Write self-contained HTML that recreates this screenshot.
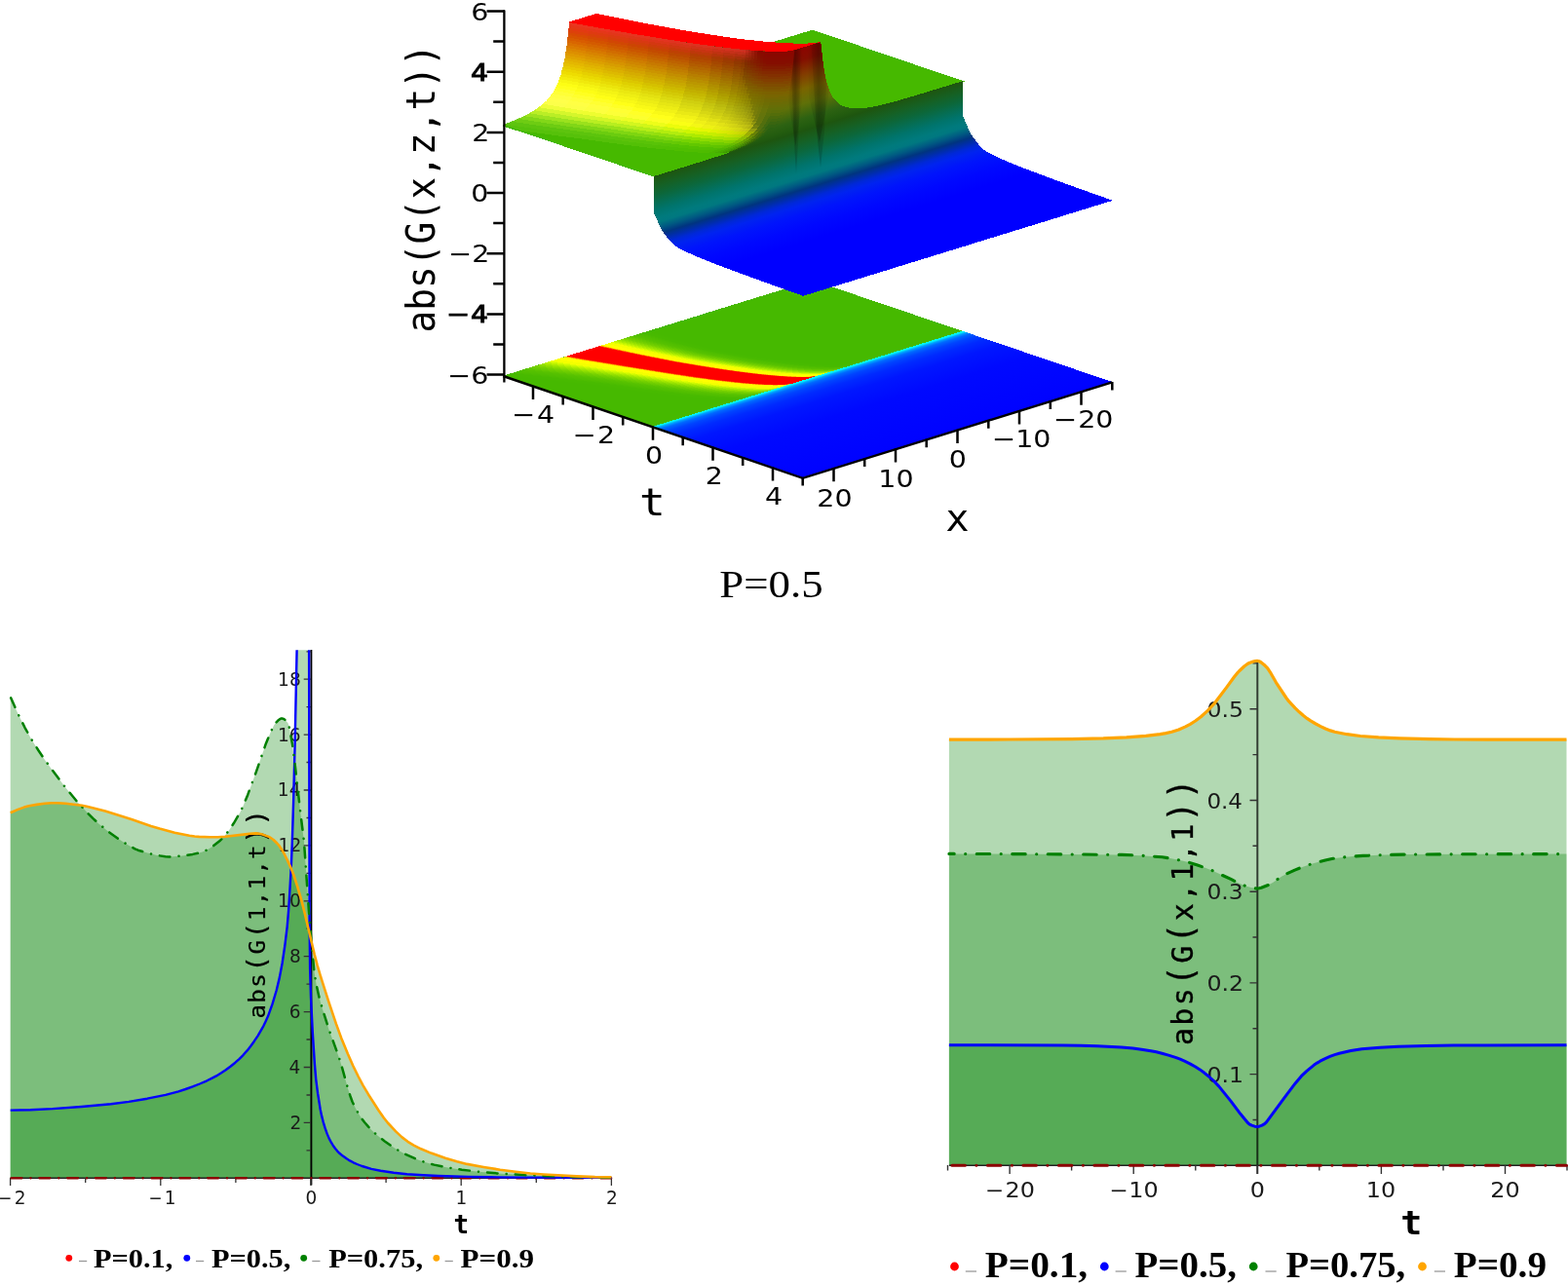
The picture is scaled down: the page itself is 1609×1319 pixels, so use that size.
<!DOCTYPE html>
<html lang="en"><head><meta charset="utf-8"><title>Figure</title>
<style>html,body{margin:0;padding:0;background:#fff;overflow:hidden}svg{display:block}</style>
</head><body>
<svg width="1609" height="1319" viewBox="0 0 1609 1319">
<rect width="1609" height="1319" fill="#fff"/>
<defs><linearGradient id="gbt" gradientUnits="userSpaceOnUse" x1="828.8" y1="388.8" x2="856.8" y2="479.8"><stop offset="0.0000" stop-color="#0ff"/><stop offset="0.0126" stop-color="#00ebff"/><stop offset="0.0263" stop-color="#00a5ff"/><stop offset="0.0525" stop-color="#0069ff"/><stop offset="0.0946" stop-color="#04f"/><stop offset="0.1576" stop-color="#002aff"/><stop offset="0.2627" stop-color="#0016ff"/><stop offset="0.4729" stop-color="#0009ff"/><stop offset="0.9983" stop-color="#0002ff"/></linearGradient><linearGradient id="gcl" gradientUnits="userSpaceOnUse" x1="829.9" y1="46.9" x2="904" y2="287"><stop offset="0.000" stop-color="#8c0500"/><stop offset="0.047" stop-color="#840f00"/><stop offset="0.106" stop-color="#823c00"/><stop offset="0.162" stop-color="#7a6400"/><stop offset="0.220" stop-color="#5f7008"/><stop offset="0.278" stop-color="#2d6212"/><stop offset="0.307" stop-color="#235c0f"/><stop offset="0.324" stop-color="#1e560f"/><stop offset="0.324" stop-color="#1e550f"/><stop offset="0.363" stop-color="#166023"/><stop offset="0.399" stop-color="#0c673a"/><stop offset="0.431" stop-color="#056e55"/><stop offset="0.459" stop-color="#00746c"/><stop offset="0.491" stop-color="#007a7d"/><stop offset="0.507" stop-color="#007880"/><stop offset="0.530" stop-color="#005a82"/><stop offset="0.554" stop-color="#003480"/><stop offset="0.574" stop-color="#002daa"/><stop offset="0.594" stop-color="#0028d7"/><stop offset="0.614" stop-color="#0023f0"/><stop offset="0.650" stop-color="#0014fc"/><stop offset="0.702" stop-color="#0008ff"/><stop offset="0.761" stop-color="#00f"/><stop offset="1.000" stop-color="#00f"/></linearGradient><linearGradient id="gf1" gradientUnits="userSpaceOnUse" x1="808" y1="0" x2="824" y2="0"><stop offset="0" stop-color="#000" stop-opacity="0"/><stop offset=".5" stop-color="#000" stop-opacity=".17"/><stop offset="1" stop-color="#000" stop-opacity="0"/></linearGradient><linearGradient id="gf2" gradientUnits="userSpaceOnUse" x1="828" y1="0" x2="850" y2="0"><stop offset="0" stop-color="#000" stop-opacity="0"/><stop offset=".55" stop-color="#000" stop-opacity=".18"/><stop offset="1" stop-color="#000" stop-opacity=".06"/></linearGradient><clipPath id="ccl"><path d="M670.8,181L681.5,177.7L692.3,174.4L703.1,171L713.8,167.7L724.6,164.3L735.4,160.9L746.2,157.3L756.9,153.5L767.7,149.2L778.5,143.9L789.3,136.5L789.3,136.5L790.5,135.4L791.8,134.2L793.1,132.9L794.4,131.5L795.7,129.9L797,128.3L798.3,126.5L799.6,124.5L800.9,122.3L802.2,119.8L803.5,116.9L804.8,113.7L806.1,109.9L807.4,105.4L808.7,100.2L810,93.8L811.4,85.9L812.7,76L814,63.2L815.3,51.3L816.6,50.9L817.9,50.5L819.2,50.1L820.5,49.7L821.8,49.3L823.1,48.9L824.4,48.5L825.7,48.1L827,47.7L828.3,47.4L829.6,47L830.8,46.6L832.1,46.2L833.4,45.8L834.7,45.4L836,45L837.3,44.6L838.6,44.2L839.9,43.8L841.2,43.4L842.5,45.5L843.7,57.8L845,67.5L846.2,75.1L847.5,81.3L848.8,86.3L850.1,90.4L851.3,93.8L852.6,96.6L853.9,99L855.2,101.1L856.5,102.8L857.8,104.2L859,105.5L860.3,106.6L861.6,107.5L862.9,108.2L864.2,108.9L865.5,109.5L865.5,109.5L876.6,111.6L887.8,110.9L899,109L910.2,106.3L921.3,103.3L932.5,100L943.7,96.7L954.9,93.3L966,89.9L977.2,86.5L988.4,83L988.3,119.7L989.5,122.4L990.8,125.2L992.1,128.2L993.4,131.4L994.6,134.1L995.9,136.5L997.2,138.7L998.5,140.6L999.7,142.5L1001,144.1L1002.3,145.8L1003.6,147.4L1004.8,148.9L1006.1,150.4L1007.4,151.7L1008.7,153L1010,154L1011.2,154.9L1012.5,155.7L1013.8,156.4L1015.1,157.2L1016.4,157.9L1017.6,158.5L1018.9,159.2L1030.1,164.3L1041.3,168.9L1052.5,173.3L1063.6,177.5L1074.8,181.7L1086,185.8L1097.2,189.9L1108.4,193.9L1119.5,197.9L1130.7,201.8L1141.9,205.8L824.3,303.8L813.1,299.8L801.9,295.9L790.8,291.9L779.6,287.9L768.4,283.8L757.2,279.7L746,275.5L734.9,271.3L723.7,266.9L712.5,262.3L701.3,257.2L700,256.5L698.8,255.9L697.5,255.2L696.2,254.4L694.9,253.7L693.6,252.9L692.4,252L691.1,251L689.8,249.7L688.5,248.4L687.2,246.9L686,245.4L684.7,243.8L683.4,242.1L682.1,240.5L680.9,238.6L679.6,236.7L678.3,234.5L677,232.1L675.8,229.4L674.5,226.2L673.2,223.2L671.9,220.4L670.7,217.7Z"/></clipPath></defs>
<g shape-rendering="crispEdges">
<path d="M516.2,385.7L670,437.8L987.6,339.8L833.8,287.7Z" fill="#46b900"/>
<path d="M613.7,355.6L630,359.1L645.7,362.4L660.7,365.5L675.2,368.4L689,371L702.4,373.4L715.3,375.5L727.5,377.5L739,379.2L749.9,380.8L760.1,382.2L769.8,383.4L778.8,384.5L787.2,385.3L794.9,386L802.1,386.6L808.6,387L814.5,387.2L819.8,387.3L824.5,387.3L828.6,387.1L832,386.9L834.9,386.6L837.1,386.2L838.4,385.9L838.8,385.7L837.5,386.1L835.3,386.4L832.4,386.8L829,387L824.9,387.2L820.2,387.2L814.9,387.1L809,386.8L802.5,386.4L795.4,385.9L787.6,385.2L779.2,384.3L770.2,383.3L760.6,382.1L750.3,380.7L739.4,379.1L727.9,377.3L715.7,375.4L702.9,373.2L689.4,370.9L675.6,368.2L661.2,365.4L646.2,362.3L630.6,359L614.3,355.4Z" fill="#ff1200"/>
<path d="M614.3,355.4L630.6,359L646.2,362.3L661.2,365.4L675.6,368.2L689.4,370.9L702.9,373.2L715.7,375.4L727.9,377.3L739.4,379.1L750.3,380.7L760.6,382.1L770.2,383.3L779.2,384.3L787.6,385.2L795.4,385.9L802.5,386.4L809,386.8L814.9,387.1L820.2,387.2L824.9,387.2L829,387L832.4,386.8L835.3,386.4L837.5,386.1L838.8,385.7L839.2,385.6L837.9,385.9L835.7,386.3L832.9,386.6L829.4,386.9L825.3,387L820.6,387L815.3,386.9L809.4,386.7L802.9,386.3L795.8,385.8L788,385.1L779.6,384.2L770.6,383.2L761,381.9L750.7,380.5L739.9,379L728.3,377.2L716.1,375.2L703.3,373.1L689.9,370.7L676.1,368.1L661.7,365.2L646.7,362.1L631.1,358.8L614.9,355.3Z" fill="#ff3600"/>
<path d="M614.9,355.3L631.1,358.8L646.7,362.1L661.7,365.2L676.1,368.1L689.9,370.7L703.3,373.1L716.1,375.2L728.3,377.2L739.9,379L750.7,380.5L761,381.9L770.6,383.2L779.6,384.2L788,385.1L795.8,385.8L802.9,386.3L809.4,386.7L815.3,386.9L820.6,387L825.3,387L829.4,386.9L832.9,386.6L835.7,386.3L837.9,385.9L839.2,385.6L839.7,385.5L838.3,385.8L836.1,386.2L833.3,386.5L829.8,386.8L825.7,386.9L821.1,386.9L815.8,386.8L809.9,386.6L803.3,386.2L796.2,385.6L788.4,384.9L780.1,384.1L771,383L761.4,381.8L751.2,380.4L740.3,378.8L728.8,377.1L716.6,375.1L703.8,373L690.3,370.6L676.6,367.9L662.2,365.1L647.2,362L631.6,358.6L615.4,355.1Z" fill="#ff5a00"/>
<path d="M615.4,355.1L631.6,358.6L647.2,362L662.2,365.1L676.6,367.9L690.3,370.6L703.8,373L716.6,375.1L728.8,377.1L740.3,378.8L751.2,380.4L761.4,381.8L771,383L780.1,384.1L788.4,384.9L796.2,385.6L803.3,386.2L809.9,386.6L815.8,386.8L821.1,386.9L825.7,386.9L829.8,386.8L833.3,386.5L836.1,386.2L838.3,385.8L839.7,385.5L840.1,385.4L838.7,385.7L836.6,386.1L833.7,386.4L830.2,386.6L826.2,386.8L821.5,386.8L816.2,386.7L810.3,386.4L803.8,386L796.6,385.5L788.9,384.8L780.5,383.9L771.5,382.9L761.8,381.7L751.6,380.3L740.7,378.7L729.2,376.9L717,375L704.2,372.8L690.8,370.5L677,367.8L662.7,364.9L647.7,361.8L632.2,358.5L616,354.9Z" fill="#ff8900"/>
<path d="M616,354.9L632.2,358.5L647.7,361.8L662.7,364.9L677,367.8L690.8,370.5L704.2,372.8L717,375L729.2,376.9L740.7,378.7L751.6,380.3L761.8,381.7L771.5,382.9L780.5,383.9L788.9,384.8L796.6,385.5L803.8,386L810.3,386.4L816.2,386.7L821.5,386.8L826.2,386.8L830.2,386.6L833.7,386.4L836.6,386.1L838.7,385.7L840.1,385.4L840.5,385.2L839.2,385.6L837,385.9L834.1,386.3L830.7,386.5L826.6,386.6L821.9,386.7L816.6,386.5L810.7,386.3L804.2,385.9L797,385.4L789.3,384.7L780.9,383.8L771.9,382.8L762.3,381.6L752,380.2L741.2,378.6L729.6,376.8L717.5,374.8L704.6,372.7L691.2,370.3L677.5,367.7L663.2,364.8L648.2,361.7L632.7,358.3L616.5,354.7Z" fill="#ffb700"/>
<path d="M616.5,354.7L632.7,358.3L648.2,361.7L663.2,364.8L677.5,367.7L691.2,370.3L704.6,372.7L717.5,374.8L729.6,376.8L741.2,378.6L752,380.2L762.3,381.6L771.9,382.8L780.9,383.8L789.3,384.7L797,385.4L804.2,385.9L810.7,386.3L816.6,386.5L821.9,386.7L826.6,386.6L830.7,386.5L834.1,386.3L837,385.9L839.2,385.6L840.5,385.2L840.9,385.1L839.6,385.4L837.4,385.8L834.6,386.1L831.1,386.4L827,386.5L822.3,386.5L817,386.4L811.1,386.2L804.6,385.8L797.5,385.2L789.7,384.5L781.3,383.7L772.3,382.6L762.7,381.4L752.5,380L741.6,378.4L730.1,376.7L717.9,374.7L705.1,372.6L691.7,370.2L678,367.5L663.6,364.6L648.7,361.5L633.2,358.1L617.1,354.6Z" fill="#ffe600"/>
<path d="M617.1,354.6L633.2,358.1L648.7,361.5L663.6,364.6L678,367.5L691.7,370.2L705.1,372.6L717.9,374.7L730.1,376.7L741.6,378.4L752.5,380L762.7,381.4L772.3,382.6L781.3,383.7L789.7,384.5L797.5,385.2L804.6,385.8L811.1,386.2L817,386.4L822.3,386.5L827,386.5L831.1,386.4L834.6,386.1L837.4,385.8L839.6,385.4L840.9,385.1L841.3,385L840,385.3L837.8,385.7L835,386L831.5,386.2L827.4,386.4L822.7,386.4L817.4,386.3L811.5,386L805,385.6L797.9,385.1L790.1,384.4L781.8,383.5L772.7,382.5L763.1,381.3L752.9,379.9L742,378.3L730.5,376.5L718.3,374.6L705.5,372.4L692.1,370.1L678.4,367.4L664.1,364.5L649.2,361.3L633.7,358L617.6,354.4Z" fill="#fff300"/>
<path d="M617.6,354.4L633.7,358L649.2,361.3L664.1,364.5L678.4,367.4L692.1,370.1L705.5,372.4L718.3,374.6L730.5,376.5L742,378.3L752.9,379.9L763.1,381.3L772.7,382.5L781.8,383.5L790.1,384.4L797.9,385.1L805,385.6L811.5,386L817.4,386.3L822.7,386.4L827.4,386.4L831.5,386.2L835,386L837.8,385.7L840,385.3L841.3,385L841.8,384.8L840.4,385.2L838.2,385.5L835.4,385.9L831.9,386.1L827.8,386.2L823.2,386.3L817.9,386.2L812,385.9L805.4,385.5L798.3,385L790.6,384.3L782.2,383.4L773.2,382.4L763.5,381.2L753.3,379.8L742.5,378.2L730.9,376.4L718.8,374.4L706,372.3L692.6,369.9L678.9,367.2L664.6,364.3L649.7,361.2L634.3,357.8L618.2,354.2Z" fill="#ff0"/>
<path d="M618.2,354.2L634.3,357.8L649.7,361.2L664.6,364.3L678.9,367.2L692.6,369.9L706,372.3L718.8,374.4L730.9,376.4L742.5,378.2L753.3,379.8L763.5,381.2L773.2,382.4L782.2,383.4L790.6,384.3L798.3,385L805.4,385.5L812,385.9L817.9,386.2L823.2,386.3L827.8,386.2L831.9,386.1L835.4,385.9L838.2,385.5L840.4,385.2L841.8,384.8L845.1,383.8L843.8,384.1L841.6,384.5L838.8,384.8L835.3,385.1L831.2,385.2L826.5,385.2L821.2,385.1L815.3,384.9L808.8,384.5L801.7,383.9L794,383.2L785.6,382.4L776.6,381.3L767,380.1L756.8,378.7L745.9,377.1L734.4,375.3L722.3,373.4L709.5,371.2L696.2,368.8L682.6,366.1L668.5,363.1L653.8,359.9L638.5,356.5L622.6,352.9Z" fill="#ff0"/>
<path d="M622.6,352.9L638.5,356.5L653.8,359.9L668.5,363.1L682.6,366.1L696.2,368.8L709.5,371.2L722.3,373.4L734.4,375.3L745.9,377.1L756.8,378.7L767,380.1L776.6,381.3L785.6,382.4L794,383.2L801.7,383.9L808.8,384.5L815.3,384.9L821.2,385.1L826.5,385.2L831.2,385.2L835.3,385.1L838.8,384.8L841.6,384.5L843.8,384.1L845.1,383.8L848.5,382.8L847.2,383.1L845,383.5L842.1,383.8L838.7,384L834.6,384.2L829.9,384.2L824.6,384.1L818.7,383.8L812.2,383.4L805.1,382.9L797.4,382.2L789,381.3L780,380.3L770.4,379L760.2,377.6L749.4,376L737.9,374.2L725.8,372.3L713.1,370.1L699.8,367.7L686.4,364.9L672.4,361.9L657.8,358.7L642.7,355.2L627.1,351.5Z" fill="#f4ff00"/>
<path d="M627.1,351.5L642.7,355.2L657.8,358.7L672.4,361.9L686.4,364.9L699.8,367.7L713.1,370.1L725.8,372.3L737.9,374.2L749.4,376L760.2,377.6L770.4,379L780,380.3L789,381.3L797.4,382.2L805.1,382.9L812.2,383.4L818.7,383.8L824.6,384.1L829.9,384.2L834.6,384.2L838.7,384L842.1,383.8L845,383.5L847.2,383.1L848.5,382.8L849.8,382.4L848.4,382.7L846.2,383.1L843.4,383.4L839.9,383.6L835.9,383.8L831.2,383.8L825.9,383.7L820,383.4L813.5,383L806.4,382.5L798.6,381.8L790.3,380.9L781.3,379.9L771.7,378.7L761.5,377.2L750.7,375.6L739.2,373.8L727.1,371.9L714.4,369.7L701.1,367.3L687.8,364.5L673.8,361.5L659.3,358.2L644.3,354.7L628.7,351Z" fill="#defe00"/>
<path d="M628.7,351L644.3,354.7L659.3,358.2L673.8,361.5L687.8,364.5L701.1,367.3L714.4,369.7L727.1,371.9L739.2,373.8L750.7,375.6L761.5,377.2L771.7,378.7L781.3,379.9L790.3,380.9L798.6,381.8L806.4,382.5L813.5,383L820,383.4L825.9,383.7L831.2,383.8L835.9,383.8L839.9,383.6L843.4,383.4L846.2,383.1L848.4,382.7L849.8,382.4L851,382L849.7,382.3L847.5,382.7L844.7,383L841.2,383.2L837.1,383.4L832.4,383.4L827.2,383.3L821.3,383L814.8,382.6L807.6,382.1L799.9,381.4L791.5,380.5L782.5,379.5L772.9,378.3L762.8,376.8L752,375.2L740.5,373.4L728.4,371.5L715.7,369.3L702.4,366.9L689.2,364.1L675.3,361L660.8,357.8L645.9,354.2L630.4,350.5Z" fill="#cef800"/>
<path d="M630.4,350.5L645.9,354.2L660.8,357.8L675.3,361L689.2,364.1L702.4,366.9L715.7,369.3L728.4,371.5L740.5,373.4L752,375.2L762.8,376.8L772.9,378.3L782.5,379.5L791.5,380.5L799.9,381.4L807.6,382.1L814.8,382.6L821.3,383L827.2,383.3L832.4,383.4L837.1,383.4L841.2,383.2L844.7,383L847.5,382.7L849.7,382.3L851,382L852.3,381.6L851,381.9L848.8,382.3L845.9,382.6L842.5,382.9L838.4,383L833.7,383L828.4,382.9L822.5,382.6L816,382.3L808.9,381.7L801.2,381L792.8,380.1L783.8,379.1L774.2,377.9L764.1,376.4L753.3,374.8L741.8,373L729.8,371L717,368.9L703.8,366.4L690.6,363.6L676.7,360.6L662.3,357.3L647.5,353.7L632.1,350Z" fill="#bdf200"/>
<path d="M632.1,350L647.5,353.7L662.3,357.3L676.7,360.6L690.6,363.6L703.8,366.4L717,368.9L729.8,371L741.8,373L753.3,374.8L764.1,376.4L774.2,377.9L783.8,379.1L792.8,380.1L801.2,381L808.9,381.7L816,382.3L822.5,382.6L828.4,382.9L833.7,383L838.4,383L842.5,382.9L845.9,382.6L848.8,382.3L851,381.9L852.3,381.6L853.6,381.2L852.2,381.5L850,381.9L847.2,382.2L843.7,382.5L839.7,382.6L835,382.6L829.7,382.5L823.8,382.3L817.3,381.9L810.2,381.3L802.4,380.6L794.1,379.7L785.1,378.7L775.5,377.5L765.4,376L754.6,374.4L743.1,372.6L731.1,370.6L718.4,368.5L705.1,366L692,363.2L678.2,360.1L663.9,356.8L649.1,353.2L633.7,349.4Z" fill="#adec00"/>
<path d="M633.7,349.4L649.1,353.2L663.9,356.8L678.2,360.1L692,363.2L705.1,366L718.4,368.5L731.1,370.6L743.1,372.6L754.6,374.4L765.4,376L775.5,377.5L785.1,378.7L794.1,379.7L802.4,380.6L810.2,381.3L817.3,381.9L823.8,382.3L829.7,382.5L835,382.6L839.7,382.6L843.7,382.5L847.2,382.2L850,381.9L852.2,381.5L853.6,381.2L854.8,380.8L853.5,381.1L851.3,381.5L848.5,381.8L845,382.1L840.9,382.2L836.2,382.2L831,382.1L825.1,381.9L818.6,381.5L811.5,380.9L803.7,380.2L795.4,379.3L786.4,378.3L776.8,377.1L766.6,375.6L755.9,374L744.5,372.2L732.4,370.2L719.7,368L706.5,365.6L693.4,362.8L679.6,359.7L665.4,356.4L650.7,352.8L635.4,348.9Z" fill="#a0e600"/>
<path d="M635.4,348.9L650.7,352.8L665.4,356.4L679.6,359.7L693.4,362.8L706.5,365.6L719.7,368L732.4,370.2L744.5,372.2L755.9,374L766.6,375.6L776.8,377.1L786.4,378.3L795.4,379.3L803.7,380.2L811.5,380.9L818.6,381.5L825.1,381.9L831,382.1L836.2,382.2L840.9,382.2L845,382.1L848.5,381.8L851.3,381.5L853.5,381.1L854.8,380.8L856.1,380.4L854.7,380.7L852.6,381.1L849.7,381.4L846.3,381.7L842.2,381.8L837.5,381.8L832.2,381.7L826.3,381.5L819.8,381.1L812.7,380.5L805,379.8L796.6,378.9L787.6,377.9L778.1,376.7L767.9,375.2L757.2,373.6L745.8,371.8L733.7,369.8L721,367.6L707.8,365.2L694.8,362.3L681.1,359.2L666.9,355.9L652.3,352.3L637,348.4Z" fill="#95e000"/>
<path d="M637,348.4L652.3,352.3L666.9,355.9L681.1,359.2L694.8,362.3L707.8,365.2L721,367.6L733.7,369.8L745.8,371.8L757.2,373.6L767.9,375.2L778.1,376.7L787.6,377.9L796.6,378.9L805,379.8L812.7,380.5L819.8,381.1L826.3,381.5L832.2,381.7L837.5,381.8L842.2,381.8L846.3,381.7L849.7,381.4L852.6,381.1L854.7,380.7L856.1,380.4L857.3,380L856,380.4L853.8,380.7L851,381.1L847.5,381.3L843.4,381.4L838.8,381.4L833.5,381.3L827.6,381.1L821.1,380.7L814,380.1L806.3,379.4L797.9,378.6L788.9,377.5L779.4,376.3L769.2,374.8L758.5,373.2L747.1,371.4L735,369.4L722.3,367.2L709.2,364.8L696.2,361.9L682.5,358.8L668.4,355.4L653.9,351.8L638.7,347.9Z" fill="#89db00"/>
<path d="M638.7,347.9L653.9,351.8L668.4,355.4L682.5,358.8L696.2,361.9L709.2,364.8L722.3,367.2L735,369.4L747.1,371.4L758.5,373.2L769.2,374.8L779.4,376.3L788.9,377.5L797.9,378.6L806.3,379.4L814,380.1L821.1,380.7L827.6,381.1L833.5,381.3L838.8,381.4L843.4,381.4L847.5,381.3L851,381.1L853.8,380.7L856,380.4L857.3,380L858.6,379.6L857.3,380L855.1,380.3L852.2,380.7L848.8,380.9L844.7,381L840,381.1L834.8,380.9L828.9,380.7L822.4,380.3L815.3,379.7L807.5,379L799.2,378.2L790.2,377.1L780.6,375.9L770.5,374.4L759.8,372.8L748.4,371L736.4,369L723.7,366.8L710.5,364.4L697.6,361.5L684,358.3L669.9,355L655.4,351.3L640.4,347.4Z" fill="#7ed500"/>
<path d="M640.4,347.4L655.4,351.3L669.9,355L684,358.3L697.6,361.5L710.5,364.4L723.7,366.8L736.4,369L748.4,371L759.8,372.8L770.5,374.4L780.6,375.9L790.2,377.1L799.2,378.2L807.5,379L815.3,379.7L822.4,380.3L828.9,380.7L834.8,380.9L840,381.1L844.7,381L848.8,380.9L852.2,380.7L855.1,380.3L857.3,380L858.6,379.6L859.9,379.2L858.5,379.6L856.4,379.9L853.5,380.3L850.1,380.5L846,380.6L841.3,380.7L836,380.6L830.1,380.3L823.6,379.9L816.5,379.4L808.8,378.6L800.5,377.8L791.5,376.7L781.9,375.5L771.8,374L761.1,372.4L749.7,370.6L737.7,368.6L725,366.4L711.9,364L699,361L685.4,357.9L671.4,354.5L657,350.8L642,346.9Z" fill="#75d000"/>
<path d="M642,346.9L657,350.8L671.4,354.5L685.4,357.9L699,361L711.9,364L725,366.4L737.7,368.6L749.7,370.6L761.1,372.4L771.8,374L781.9,375.5L791.5,376.7L800.5,377.8L808.8,378.6L816.5,379.4L823.6,379.9L830.1,380.3L836,380.6L841.3,380.7L846,380.6L850.1,380.5L853.5,380.3L856.4,379.9L858.5,379.6L859.9,379.2L861.1,378.9L859.8,379.2L857.6,379.6L854.8,379.9L851.3,380.1L847.2,380.3L842.6,380.3L837.3,380.2L831.4,379.9L824.9,379.5L817.8,379L810.1,378.2L801.7,377.4L792.7,376.3L783.2,375.1L773.1,373.7L762.4,372L751,370.2L739,368.2L726.3,366L713.2,363.5L700.3,360.6L686.9,357.4L673,354L658.6,350.3L643.7,346.4Z" fill="#6ecd00"/>
<path d="M643.7,346.4L658.6,350.3L673,354L686.9,357.4L700.3,360.6L713.2,363.5L726.3,366L739,368.2L751,370.2L762.4,372L773.1,373.7L783.2,375.1L792.7,376.3L801.7,377.4L810.1,378.2L817.8,379L824.9,379.5L831.4,379.9L837.3,380.2L842.6,380.3L847.2,380.3L851.3,380.1L854.8,379.9L857.6,379.6L859.8,379.2L861.1,378.9L862.4,378.5L861.1,378.8L858.9,379.2L856,379.5L852.6,379.7L848.5,379.9L843.8,379.9L838.6,379.8L832.7,379.5L826.2,379.1L819.1,378.6L811.4,377.9L803,377L794,375.9L784.5,374.7L774.4,373.3L763.7,371.6L752.3,369.8L740.3,367.8L727.7,365.6L714.6,363.1L701.7,360.2L688.3,357L674.5,353.6L660.2,349.8L645.4,345.8Z" fill="#68ca00"/>
<path d="M645.4,345.8L660.2,349.8L674.5,353.6L688.3,357L701.7,360.2L714.6,363.1L727.7,365.6L740.3,367.8L752.3,369.8L763.7,371.6L774.4,373.3L784.5,374.7L794,375.9L803,377L811.4,377.9L819.1,378.6L826.2,379.1L832.7,379.5L838.6,379.8L843.8,379.9L848.5,379.9L852.6,379.7L856,379.5L858.9,379.2L861.1,378.8L862.4,378.5L863.7,378.1L862.3,378.4L860.1,378.8L857.3,379.1L853.8,379.3L849.8,379.5L845.1,379.5L839.8,379.4L833.9,379.1L827.5,378.7L820.3,378.2L812.6,377.5L804.3,376.6L795.3,375.5L785.8,374.3L775.7,372.9L765,371.2L753.6,369.4L741.6,367.4L729,365.2L715.9,362.7L703.1,359.7L689.8,356.6L676,353.1L661.8,349.3L647,345.3Z" fill="#62c700"/>
<path d="M647,345.3L661.8,349.3L676,353.1L689.8,356.6L703.1,359.7L715.9,362.7L729,365.2L741.6,367.4L753.6,369.4L765,371.2L775.7,372.9L785.8,374.3L795.3,375.5L804.3,376.6L812.6,377.5L820.3,378.2L827.5,378.7L833.9,379.1L839.8,379.4L845.1,379.5L849.8,379.5L853.8,379.3L857.3,379.1L860.1,378.8L862.3,378.4L863.7,378.1L864.9,377.7L863.6,378L861.4,378.4L858.6,378.7L855.1,378.9L851,379.1L846.4,379.1L841.1,379L835.2,378.7L828.7,378.3L821.6,377.8L813.9,377.1L805.6,376.2L796.6,375.1L787,373.9L777,372.5L766.3,370.8L754.9,369L742.9,367L730.3,364.8L717.3,362.3L704.5,359.3L691.2,356.1L677.5,352.6L663.4,348.8L648.7,344.8Z" fill="#5bc400"/>
<path d="M648.7,344.8L663.4,348.8L677.5,352.6L691.2,356.1L704.5,359.3L717.3,362.3L730.3,364.8L742.9,367L754.9,369L766.3,370.8L777,372.5L787,373.9L796.6,375.1L805.6,376.2L813.9,377.1L821.6,377.8L828.7,378.3L835.2,378.7L841.1,379L846.4,379.1L851,379.1L855.1,378.9L858.6,378.7L861.4,378.4L863.6,378L864.9,377.7L866.2,377.3L864.9,377.6L862.7,378L859.8,378.3L856.4,378.6L852.3,378.7L847.6,378.7L842.4,378.6L836.5,378.3L830,377.9L822.9,377.4L815.2,376.7L806.8,375.8L797.9,374.8L788.3,373.5L778.3,372.1L767.6,370.4L756.2,368.6L744.3,366.6L731.6,364.4L718.6,361.9L705.9,358.9L692.7,355.7L679,352.2L665,348.3L650.4,344.3Z" fill="#57c100"/>
<path d="M650.4,344.3L665,348.3L679,352.2L692.7,355.7L705.9,358.9L718.6,361.9L731.6,364.4L744.3,366.6L756.2,368.6L767.6,370.4L778.3,372.1L788.3,373.5L797.9,374.8L806.8,375.8L815.2,376.7L822.9,377.4L830,377.9L836.5,378.3L842.4,378.6L847.6,378.7L852.3,378.7L856.4,378.6L859.8,378.3L862.7,378L864.9,377.6L866.2,377.3L867.5,376.9L866.1,377.2L863.9,377.6L861.1,377.9L857.6,378.2L853.6,378.3L848.9,378.3L843.6,378.2L837.7,378L831.3,377.6L824.2,377L816.4,376.3L808.1,375.4L799.1,374.4L789.6,373.1L779.5,371.7L768.9,370L757.5,368.2L745.6,366.2L733,364L720,361.5L707.3,358.4L694.1,355.2L680.5,351.7L666.6,347.9L652,343.8Z" fill="#54c000"/>
<path d="M652,343.8L666.6,347.9L680.5,351.7L694.1,355.2L707.3,358.4L720,361.5L733,364L745.6,366.2L757.5,368.2L768.9,370L779.5,371.7L789.6,373.1L799.1,374.4L808.1,375.4L816.4,376.3L824.2,377L831.3,377.6L837.7,378L843.6,378.2L848.9,378.3L853.6,378.3L857.6,378.2L861.1,377.9L863.9,377.6L866.1,377.2L867.5,376.9L868.7,376.5L867.4,376.8L865.2,377.2L862.4,377.5L858.9,377.8L854.8,377.9L850.2,377.9L844.9,377.8L839,377.6L832.5,377.2L825.4,376.6L817.7,375.9L809.4,375L800.4,374L790.9,372.7L780.8,371.3L770.2,369.6L758.8,367.8L746.9,365.8L734.3,363.5L721.3,361L708.7,358L695.6,354.8L682,351.2L668.2,347.4L653.7,343.3Z" fill="#52bf00"/>
<path d="M653.7,343.3L668.2,347.4L682,351.2L695.6,354.8L708.7,358L721.3,361L734.3,363.5L746.9,365.8L758.8,367.8L770.2,369.6L780.8,371.3L790.9,372.7L800.4,374L809.4,375L817.7,375.9L825.4,376.6L832.5,377.2L839,377.6L844.9,377.8L850.2,377.9L854.8,377.9L858.9,377.8L862.4,377.5L865.2,377.2L867.4,376.8L868.7,376.5L870,376.1L868.6,376.5L866.5,376.8L863.6,377.2L860.2,377.4L856.1,377.5L851.4,377.5L846.2,377.4L840.3,377.2L833.8,376.8L826.7,376.2L819,375.5L810.7,374.6L801.7,373.6L792.2,372.3L782.1,370.9L771.5,369.2L760.1,367.4L748.2,365.4L735.6,363.1L722.6,360.6L710.1,357.6L697.1,354.3L683.6,350.8L669.7,346.9L655.4,342.8Z" fill="#50be00"/>
<path d="M655.4,342.8L669.7,346.9L683.6,350.8L697.1,354.3L710.1,357.6L722.6,360.6L735.6,363.1L748.2,365.4L760.1,367.4L771.5,369.2L782.1,370.9L792.2,372.3L801.7,373.6L810.7,374.6L819,375.5L826.7,376.2L833.8,376.8L840.3,377.2L846.2,377.4L851.4,377.5L856.1,377.5L860.2,377.4L863.6,377.2L866.5,376.8L868.6,376.5L870,376.1L871.2,375.7L869.9,376.1L867.7,376.4L864.9,376.8L861.4,377L857.4,377.1L852.7,377.1L847.4,377L841.6,376.8L835.1,376.4L828,375.8L820.3,375.1L811.9,374.2L803,373.2L793.5,371.9L783.4,370.5L772.8,368.8L761.5,367L749.5,364.9L737,362.7L724,360.2L711.5,357.2L698.5,353.9L685.1,350.3L671.3,346.4L657,342.2Z" fill="#4dbd00"/>
<path d="M657,342.2L671.3,346.4L685.1,350.3L698.5,353.9L711.5,357.2L724,360.2L737,362.7L749.5,364.9L761.5,367L772.8,368.8L783.4,370.5L793.5,371.9L803,373.2L811.9,374.2L820.3,375.1L828,375.8L835.1,376.4L841.6,376.8L847.4,377L852.7,377.1L857.4,377.1L861.4,377L864.9,376.8L867.7,376.4L869.9,376.1L871.2,375.7L872.5,375.3L871.2,375.7L869,376L866.2,376.4L862.7,376.6L858.6,376.7L854,376.8L848.7,376.6L842.8,376.4L836.3,376L829.2,375.4L821.5,374.7L813.2,373.8L804.2,372.8L794.7,371.5L784.7,370.1L774,368.4L762.8,366.6L750.8,364.5L738.3,362.3L725.3,359.8L712.9,356.7L700,353.4L686.6,349.8L672.9,345.9L658.7,341.7Z" fill="#4bbb00"/>
<path d="M658.7,341.7L672.9,345.9L686.6,349.8L700,353.4L712.9,356.7L725.3,359.8L738.3,362.3L750.8,364.5L762.8,366.6L774,368.4L784.7,370.1L794.7,371.5L804.2,372.8L813.2,373.8L821.5,374.7L829.2,375.4L836.3,376L842.8,376.4L848.7,376.6L854,376.8L858.6,376.7L862.7,376.6L866.2,376.4L869,376L871.2,375.7L872.5,375.3L873.8,375L872.4,375.3L870.3,375.7L867.4,376L864,376.2L859.9,376.4L855.2,376.4L850,376.3L844.1,376L837.6,375.6L830.5,375L822.8,374.3L814.5,373.4L805.5,372.4L796,371.1L786,369.7L775.3,368L764.1,366.2L752.2,364.1L739.6,361.9L726.7,359.4L714.3,356.3L701.4,353L688.1,349.3L674.5,345.4L660.4,341.2Z" fill="#48ba00"/>
<path d="M660.4,341.2L674.5,345.4L688.1,349.3L701.4,353L714.3,356.3L726.7,359.4L739.6,361.9L752.2,364.1L764.1,366.2L775.3,368L786,369.7L796,371.1L805.5,372.4L814.5,373.4L822.8,374.3L830.5,375L837.6,375.6L844.1,376L850,376.3L855.2,376.4L859.9,376.4L864,376.2L867.4,376L870.3,375.7L872.4,375.3L873.8,375L875,374.6L873.7,374.9L871.5,375.3L868.7,375.6L865.2,375.8L861.2,376L856.5,376L851.2,375.9L845.4,375.6L838.9,375.2L831.8,374.6L824.1,373.9L815.8,373L806.8,372L797.3,370.7L787.3,369.3L776.6,367.6L765.4,365.8L753.5,363.7L740.9,361.5L728,359L715.7,355.9L702.9,352.5L689.6,348.9L676.1,344.9L662,340.7Z" fill="#48ba00"/>
<path d="M662,340.7L676.1,344.9L689.6,348.9L702.9,352.5L715.7,355.9L728,359L740.9,361.5L753.5,363.7L765.4,365.8L776.6,367.6L787.3,369.3L797.3,370.7L806.8,372L815.8,373L824.1,373.9L831.8,374.6L838.9,375.2L845.4,375.6L851.2,375.9L856.5,376L861.2,376L865.2,375.8L868.7,375.6L871.5,375.3L873.7,374.9L875,374.6L876.3,374.2L875,374.5L872.8,374.9L869.9,375.2L866.5,375.4L862.4,375.6L857.8,375.6L852.5,375.5L846.6,375.2L840.1,374.8L833.1,374.3L825.4,373.5L817,372.7L808.1,371.6L798.6,370.3L788.6,368.9L777.9,367.2L766.7,365.4L754.8,363.3L742.3,361.1L729.4,358.6L717.1,355.4L704.3,352.1L691.1,348.4L677.7,344.4L663.7,340.2Z" fill="#47ba00"/>
<path d="M663.7,340.2L677.7,344.4L691.1,348.4L704.3,352.1L717.1,355.4L729.4,358.6L742.3,361.1L754.8,363.3L766.7,365.4L777.9,367.2L788.6,368.9L798.6,370.3L808.1,371.6L817,372.7L825.4,373.5L833.1,374.3L840.1,374.8L846.6,375.2L852.5,375.5L857.8,375.6L862.4,375.6L866.5,375.4L869.9,375.2L872.8,374.9L875,374.5L876.3,374.2L877.6,373.8L876.2,374.1L874,374.5L871.2,374.8L867.8,375L863.7,375.2L859,375.2L853.8,375.1L847.9,374.8L841.4,374.4L834.3,373.9L826.6,373.1L818.3,372.3L809.4,371.2L799.9,370L789.9,368.5L779.2,366.8L768,365L756.1,362.9L743.6,360.7L730.7,358.1L718.5,355L705.8,351.6L692.7,347.9L679.3,343.9L665.3,339.7Z" fill="#47b900"/>
<path d="M665.3,339.7L679.3,343.9L692.7,347.9L705.8,351.6L718.5,355L730.7,358.1L743.6,360.7L756.1,362.9L768,365L779.2,366.8L789.9,368.5L799.9,370L809.4,371.2L818.3,372.3L826.6,373.1L834.3,373.9L841.4,374.4L847.9,374.8L853.8,375.1L859,375.2L863.7,375.2L867.8,375L871.2,374.8L874,374.5L876.2,374.1L877.6,373.8L878.8,373.4L877.5,373.7L875.3,374.1L872.5,374.4L869,374.7L865,374.8L860.3,374.8L855,374.7L849.2,374.4L842.7,374L835.6,373.5L827.9,372.8L819.6,371.9L810.6,370.8L801.1,369.6L791.2,368.1L780.5,366.4L769.3,364.6L757.4,362.5L744.9,360.3L732.1,357.7L719.9,354.6L707.2,351.2L694.2,347.5L680.9,343.4L667,339.2Z" fill="#46b900"/>
<path d="M582.4,365.3L600.2,368.3L617.2,371.2L633.4,373.9L648.9,376.5L663.7,378.8L677.4,381.1L690.5,383.2L702.9,385.1L714.6,386.8L725.6,388.3L736,389.6L745.8,390.8L754.8,391.9L763.2,392.7L771,393.4L778.2,393.9L784.7,394.3L790.7,394.5L796,394.6L800.7,394.6L804.8,394.5L808.3,394.2L811.1,393.9L813.3,393.5L814.6,393.2L814.1,393.4L812.8,393.7L810.6,394.1L807.7,394.4L804.2,394.6L800.1,394.8L795.4,394.8L790.1,394.7L784.2,394.5L777.7,394.1L770.5,393.6L762.7,392.9L754.3,392L745.2,391L735.5,389.8L725.1,388.5L714,386.9L702.3,385.2L689.9,383.3L676.9,381.3L663.1,379L648.3,376.7L632.8,374.1L616.5,371.4L599.5,368.6L581.7,365.5Z" fill="#ff1200"/>
<path d="M581.7,365.5L599.5,368.6L616.5,371.4L632.8,374.1L648.3,376.7L663.1,379L676.9,381.3L689.9,383.3L702.3,385.2L714,386.9L725.1,388.5L735.5,389.8L745.2,391L754.3,392L762.7,392.9L770.5,393.6L777.7,394.1L784.2,394.5L790.1,394.7L795.4,394.8L800.1,394.8L804.2,394.6L807.7,394.4L810.6,394.1L812.8,393.7L814.1,393.4L813.6,393.5L812.2,393.9L810,394.2L807.2,394.6L803.7,394.8L799.6,395L794.9,395L789.6,394.9L783.7,394.6L777.1,394.3L769.9,393.7L762.1,393L753.7,392.2L744.7,391.2L734.9,390L724.5,388.6L713.5,387.1L701.8,385.4L689.4,383.5L676.3,381.4L662.5,379.2L647.7,376.9L632.2,374.3L615.9,371.6L598.8,368.8L581,365.7Z" fill="#ff3600"/>
<path d="M581,365.7L598.8,368.8L615.9,371.6L632.2,374.3L647.7,376.9L662.5,379.2L676.3,381.4L689.4,383.5L701.8,385.4L713.5,387.1L724.5,388.6L734.9,390L744.7,391.2L753.7,392.2L762.1,393L769.9,393.7L777.1,394.3L783.7,394.6L789.6,394.9L794.9,395L799.6,395L803.7,394.8L807.2,394.6L810,394.2L812.2,393.9L813.6,393.5L813,393.7L811.7,394L809.5,394.4L806.6,394.7L803.2,395L799.1,395.1L794.4,395.1L789,395L783.1,394.8L776.6,394.4L769.4,393.9L761.6,393.2L753.2,392.4L744.1,391.3L734.4,390.2L724,388.8L712.9,387.3L701.2,385.6L688.8,383.7L675.7,381.6L661.9,379.4L647.1,377L631.6,374.5L615.2,371.8L598.1,369L580.3,365.9Z" fill="#ff5a00"/>
<path d="M580.3,365.9L598.1,369L615.2,371.8L631.6,374.5L647.1,377L661.9,379.4L675.7,381.6L688.8,383.7L701.2,385.6L712.9,387.3L724,388.8L734.4,390.2L744.1,391.3L753.2,392.4L761.6,393.2L769.4,393.9L776.6,394.4L783.1,394.8L789,395L794.4,395.1L799.1,395.1L803.2,395L806.6,394.7L809.5,394.4L811.7,394L813,393.7L812.5,393.9L811.1,394.2L809,394.6L806.1,394.9L802.6,395.1L798.5,395.3L793.8,395.3L788.5,395.2L782.6,395L776,394.6L768.9,394.1L761.1,393.4L752.6,392.5L743.6,391.5L733.8,390.3L723.4,389L712.4,387.5L700.6,385.7L688.2,383.9L675.2,381.8L661.4,379.5L646.5,377.2L630.9,374.7L614.6,372L597.5,369.2L579.6,366.1Z" fill="#ff8900"/>
<path d="M579.6,366.1L597.5,369.2L614.6,372L630.9,374.7L646.5,377.2L661.4,379.5L675.2,381.8L688.2,383.9L700.6,385.7L712.4,387.5L723.4,389L733.8,390.3L743.6,391.5L752.6,392.5L761.1,393.4L768.9,394.1L776,394.6L782.6,395L788.5,395.2L793.8,395.3L798.5,395.3L802.6,395.1L806.1,394.9L809,394.6L811.1,394.2L812.5,393.9L811.9,394L810.6,394.4L808.4,394.7L805.6,395.1L802.1,395.3L798,395.5L793.3,395.5L788,395.4L782,395.1L775.5,394.8L768.3,394.2L760.5,393.5L752.1,392.7L743,391.7L733.3,390.5L722.9,389.1L711.8,387.6L700.1,385.9L687.7,384L674.6,382L660.8,379.7L645.9,377.4L630.3,374.9L613.9,372.2L596.8,369.4L578.9,366.4Z" fill="#ffb700"/>
<path d="M578.9,366.4L596.8,369.4L613.9,372.2L630.3,374.9L645.9,377.4L660.8,379.7L674.6,382L687.7,384L700.1,385.9L711.8,387.6L722.9,389.1L733.3,390.5L743,391.7L752.1,392.7L760.5,393.5L768.3,394.2L775.5,394.8L782,395.1L788,395.4L793.3,395.5L798,395.5L802.1,395.3L805.6,395.1L808.4,394.7L810.6,394.4L811.9,394L811.4,394.2L810.1,394.5L807.9,394.9L805,395.2L801.5,395.5L797.4,395.6L792.7,395.7L787.4,395.6L781.5,395.3L774.9,394.9L767.8,394.4L760,393.7L751.5,392.9L742.5,391.8L732.7,390.7L722.3,389.3L711.3,387.8L699.5,386.1L687.1,384.2L674,382.1L660.2,379.9L645.3,377.6L629.7,375.1L613.3,372.4L596.1,369.6L578.2,366.6Z" fill="#ffe600"/>
<path d="M578.2,366.6L596.1,369.6L613.3,372.4L629.7,375.1L645.3,377.6L660.2,379.9L674,382.1L687.1,384.2L699.5,386.1L711.3,387.8L722.3,389.3L732.7,390.7L742.5,391.8L751.5,392.9L760,393.7L767.8,394.4L774.9,394.9L781.5,395.3L787.4,395.6L792.7,395.7L797.4,395.6L801.5,395.5L805,395.2L807.9,394.9L810.1,394.5L811.4,394.2L810.9,394.4L809.5,394.7L807.3,395.1L804.5,395.4L801,395.6L796.9,395.8L792.2,395.8L786.9,395.7L780.9,395.5L774.4,395.1L767.2,394.6L759.4,393.9L751,393L741.9,392L732.2,390.8L721.8,389.5L710.7,388L699,386.3L686.5,384.4L673.5,382.3L659.6,380.1L644.7,377.8L629.1,375.3L612.7,372.6L595.4,369.8L577.5,366.8Z" fill="#fff300"/>
<path d="M577.5,366.8L595.4,369.8L612.7,372.6L629.1,375.3L644.7,377.8L659.6,380.1L673.5,382.3L686.5,384.4L699,386.3L710.7,388L721.8,389.5L732.2,390.8L741.9,392L751,393L759.4,393.9L767.2,394.6L774.4,395.1L780.9,395.5L786.9,395.7L792.2,395.8L796.9,395.8L801,395.6L804.5,395.4L807.3,395.1L809.5,394.7L810.9,394.4L810.3,394.5L809,394.9L806.8,395.2L803.9,395.6L800.5,395.8L796.4,396L791.7,396L786.3,395.9L780.4,395.6L773.9,395.3L766.7,394.7L758.9,394L750.5,393.2L741.4,392.2L731.6,391L721.2,389.7L710.1,388.1L698.4,386.4L686,384.6L672.9,382.5L659.1,380.3L644.1,378L628.4,375.5L612,372.8L594.7,370L576.7,367Z" fill="#ff0"/>
<path d="M576.7,367L594.7,370L612,372.8L628.4,375.5L644.1,378L659.1,380.3L672.9,382.5L686,384.6L698.4,386.4L710.1,388.1L721.2,389.7L731.6,391L741.4,392.2L750.5,393.2L758.9,394L766.7,394.7L773.9,395.3L780.4,395.6L786.3,395.9L791.7,396L796.4,396L800.5,395.8L803.9,395.6L806.8,395.2L809,394.9L810.3,394.5L806,395.9L804.7,396.2L802.5,396.6L799.6,396.9L796.1,397.1L792,397.3L787.3,397.3L782,397.2L776.1,397L769.5,396.6L762.3,396.1L754.5,395.4L746.1,394.5L737,393.5L727.3,392.4L716.8,391L705.7,389.5L693.9,387.8L681.5,385.9L668.4,383.9L654.5,381.7L639.3,379.4L623.5,377L606.8,374.4L589.3,371.7L571.1,368.8Z" fill="#ff0"/>
<path d="M571.1,368.8L589.3,371.7L606.8,374.4L623.5,377L639.3,379.4L654.5,381.7L668.4,383.9L681.5,385.9L693.9,387.8L705.7,389.5L716.8,391L727.3,392.4L737,393.5L746.1,394.5L754.5,395.4L762.3,396.1L769.5,396.6L776.1,397L782,397.2L787.3,397.3L792,397.3L796.1,397.1L799.6,396.9L802.5,396.6L804.7,396.2L806,395.9L801.7,397.2L800.3,397.5L798.2,397.9L795.3,398.2L791.8,398.5L787.7,398.6L783,398.7L777.7,398.6L771.7,398.3L765.2,397.9L758,397.4L750.2,396.7L741.7,395.9L732.7,394.9L722.9,393.7L712.4,392.4L701.3,390.9L689.5,389.2L677,387.3L663.8,385.3L649.8,383.1L634.5,380.9L618.5,378.5L601.6,376L583.9,373.4L565.4,370.5Z" fill="#f4ff00"/>
<path d="M565.4,370.5L583.9,373.4L601.6,376L618.5,378.5L634.5,380.9L649.8,383.1L663.8,385.3L677,387.3L689.5,389.2L701.3,390.9L712.4,392.4L722.9,393.7L732.7,394.9L741.7,395.9L750.2,396.7L758,397.4L765.2,397.9L771.7,398.3L777.7,398.6L783,398.7L787.7,398.6L791.8,398.5L795.3,398.2L798.2,397.9L800.3,397.5L801.7,397.2L800.1,397.7L798.7,398L796.5,398.4L793.7,398.7L790.2,399L786.1,399.1L781.4,399.2L776,399.1L770.1,398.8L763.5,398.4L756.4,397.9L748.5,397.2L740.1,396.4L731,395.4L721.2,394.2L710.8,392.9L699.6,391.4L687.8,389.7L675.3,387.9L662.1,385.8L648.1,383.6L632.8,381.5L616.7,379.1L599.7,376.6L581.8,374L563.2,371.2Z" fill="#defe00"/>
<path d="M563.2,371.2L581.8,374L599.7,376.6L616.7,379.1L632.8,381.5L648.1,383.6L662.1,385.8L675.3,387.9L687.8,389.7L699.6,391.4L710.8,392.9L721.2,394.2L731,395.4L740.1,396.4L748.5,397.2L756.4,397.9L763.5,398.4L770.1,398.8L776,399.1L781.4,399.2L786.1,399.1L790.2,399L793.7,398.7L796.5,398.4L798.7,398L800.1,397.7L798.4,398.2L797.1,398.5L794.9,398.9L792.1,399.2L788.6,399.5L784.5,399.6L779.8,399.7L774.4,399.6L768.5,399.3L761.9,398.9L754.7,398.4L746.9,397.7L738.5,396.9L729.4,395.9L719.6,394.7L709.1,393.4L697.9,391.9L686.1,390.2L673.6,388.4L660.4,386.3L646.4,384.2L631,382L614.8,379.7L597.8,377.2L579.8,374.6L561.1,371.8Z" fill="#cef800"/>
<path d="M561.1,371.8L579.8,374.6L597.8,377.2L614.8,379.7L631,382L646.4,384.2L660.4,386.3L673.6,388.4L686.1,390.2L697.9,391.9L709.1,393.4L719.6,394.7L729.4,395.9L738.5,396.9L746.9,397.7L754.7,398.4L761.9,398.9L768.5,399.3L774.4,399.6L779.8,399.7L784.5,399.6L788.6,399.5L792.1,399.2L794.9,398.9L797.1,398.5L798.4,398.2L796.8,398.7L795.5,399L793.3,399.4L790.4,399.7L786.9,400L782.8,400.1L778.1,400.2L772.8,400.1L766.9,399.8L760.3,399.5L753.1,398.9L745.3,398.2L736.8,397.4L727.7,396.4L718,395.2L707.4,393.9L696.3,392.4L684.4,390.8L671.9,388.9L658.7,386.9L644.7,384.7L629.2,382.6L612.9,380.3L595.8,377.8L577.8,375.3L559,372.5Z" fill="#bdf200"/>
<path d="M559,372.5L577.8,375.3L595.8,377.8L612.9,380.3L629.2,382.6L644.7,384.7L658.7,386.9L671.9,388.9L684.4,390.8L696.3,392.4L707.4,393.9L718,395.2L727.7,396.4L736.8,397.4L745.3,398.2L753.1,398.9L760.3,399.5L766.9,399.8L772.8,400.1L778.1,400.2L782.8,400.1L786.9,400L790.4,399.7L793.3,399.4L795.5,399L796.8,398.7L795.2,399.2L793.9,399.5L791.7,399.9L788.8,400.2L785.3,400.5L781.2,400.6L776.5,400.7L771.2,400.6L765.2,400.3L758.7,400L751.5,399.4L743.7,398.7L735.2,397.9L726.1,396.9L716.3,395.7L705.8,394.4L694.6,392.9L682.8,391.3L670.2,389.4L657,387.4L642.9,385.2L627.4,383.1L611.1,380.8L593.9,378.4L575.7,375.9L556.8,373.2Z" fill="#adec00"/>
<path d="M556.8,373.2L575.7,375.9L593.9,378.4L611.1,380.8L627.4,383.1L642.9,385.2L657,387.4L670.2,389.4L682.8,391.3L694.6,392.9L705.8,394.4L716.3,395.7L726.1,396.9L735.2,397.9L743.7,398.7L751.5,399.4L758.7,400L765.2,400.3L771.2,400.6L776.5,400.7L781.2,400.6L785.3,400.5L788.8,400.2L791.7,399.9L793.9,399.5L795.2,399.2L793.6,399.7L792.2,400L790.1,400.4L787.2,400.7L783.7,401L779.6,401.1L774.9,401.2L769.6,401.1L763.6,400.8L757,400.5L749.8,399.9L742,399.2L733.6,398.4L724.5,397.4L714.7,396.2L704.1,394.9L692.9,393.4L681.1,391.8L668.5,389.9L655.3,387.9L641.2,385.8L625.6,383.7L609.2,381.4L591.9,379L573.7,376.5L554.7,373.8Z" fill="#a0e600"/>
<path d="M554.7,373.8L573.7,376.5L591.9,379L609.2,381.4L625.6,383.7L641.2,385.8L655.3,387.9L668.5,389.9L681.1,391.8L692.9,393.4L704.1,394.9L714.7,396.2L724.5,397.4L733.6,398.4L742,399.2L749.8,399.9L757,400.5L763.6,400.8L769.6,401.1L774.9,401.2L779.6,401.1L783.7,401L787.2,400.7L790.1,400.4L792.2,400L793.6,399.7L792,400.2L790.6,400.5L788.4,400.9L785.6,401.2L782.1,401.5L778,401.6L773.3,401.7L767.9,401.6L762,401.3L755.4,401L748.2,400.4L740.4,399.8L731.9,398.9L722.8,397.9L713,396.7L702.5,395.4L691.3,394L679.4,392.3L666.8,390.5L653.6,388.4L639.5,386.3L623.8,384.2L607.3,382L590,379.6L571.7,377.1L552.6,374.5Z" fill="#95e000"/>
<path d="M552.6,374.5L571.7,377.1L590,379.6L607.3,382L623.8,384.2L639.5,386.3L653.6,388.4L666.8,390.5L679.4,392.3L691.3,394L702.5,395.4L713,396.7L722.8,397.9L731.9,398.9L740.4,399.8L748.2,400.4L755.4,401L762,401.3L767.9,401.6L773.3,401.7L778,401.6L782.1,401.5L785.6,401.2L788.4,400.9L790.6,400.5L792,400.2L790.3,400.7L789,401L786.8,401.4L784,401.7L780.5,402L776.4,402.1L771.6,402.2L766.3,402.1L760.4,401.8L753.8,401.5L746.6,400.9L738.8,400.3L730.3,399.4L721.2,398.4L711.4,397.3L700.8,395.9L689.6,394.5L677.7,392.8L665.2,391L651.9,389L637.8,386.8L622,384.8L605.5,382.6L588,380.2L569.6,377.8L550.4,375.1Z" fill="#89db00"/>
<path d="M550.4,375.1L569.6,377.8L588,380.2L605.5,382.6L622,384.8L637.8,386.8L651.9,389L665.2,391L677.7,392.8L689.6,394.5L700.8,395.9L711.4,397.3L721.2,398.4L730.3,399.4L738.8,400.3L746.6,400.9L753.8,401.5L760.4,401.8L766.3,402.1L771.6,402.2L776.4,402.1L780.5,402L784,401.7L786.8,401.4L789,401L790.3,400.7L788.7,401.2L787.4,401.5L785.2,401.9L782.3,402.2L778.8,402.5L774.7,402.6L770,402.7L764.7,402.6L758.7,402.3L752.2,402L745,401.4L737.1,400.8L728.7,399.9L719.6,398.9L709.7,397.8L699.2,396.5L687.9,395L676,393.3L663.5,391.5L650.2,389.5L636,387.4L620.2,385.3L603.6,383.1L586.1,380.8L567.6,378.4L548.3,375.8Z" fill="#7ed500"/>
<path d="M548.3,375.8L567.6,378.4L586.1,380.8L603.6,383.1L620.2,385.3L636,387.4L650.2,389.5L663.5,391.5L676,393.3L687.9,395L699.2,396.5L709.7,397.8L719.6,398.9L728.7,399.9L737.1,400.8L745,401.4L752.2,402L758.7,402.3L764.7,402.6L770,402.7L774.7,402.6L778.8,402.5L782.3,402.2L785.2,401.9L787.4,401.5L788.7,401.2L787.1,401.7L785.8,402L783.6,402.4L780.7,402.7L777.2,403L773.1,403.1L768.4,403.2L763.1,403.1L757.1,402.8L750.5,402.5L743.3,401.9L735.5,401.3L727,400.4L717.9,399.4L708.1,398.3L697.5,397L686.3,395.5L674.4,393.9L661.8,392L648.5,390L634.3,387.9L618.4,385.9L601.8,383.7L584.2,381.4L565.6,379L546.2,376.5Z" fill="#75d000"/>
<path d="M546.2,376.5L565.6,379L584.2,381.4L601.8,383.7L618.4,385.9L634.3,387.9L648.5,390L661.8,392L674.4,393.9L686.3,395.5L697.5,397L708.1,398.3L717.9,399.4L727,400.4L735.5,401.3L743.3,401.9L750.5,402.5L757.1,402.8L763.1,403.1L768.4,403.2L773.1,403.1L777.2,403L780.7,402.7L783.6,402.4L785.8,402L787.1,401.7L785.5,402.2L784.1,402.5L782,402.9L779.1,403.2L775.6,403.5L771.5,403.6L766.8,403.7L761.4,403.6L755.5,403.3L748.9,403L741.7,402.4L733.9,401.8L725.4,400.9L716.3,399.9L706.5,398.8L695.9,397.5L684.6,396L672.7,394.4L660.1,392.5L646.8,390.5L632.6,388.4L616.6,386.4L599.9,384.3L582.2,382L563.5,379.7L544,377.1Z" fill="#6ecd00"/>
<path d="M544,377.1L563.5,379.7L582.2,382L599.9,384.3L616.6,386.4L632.6,388.4L646.8,390.5L660.1,392.5L672.7,394.4L684.6,396L695.9,397.5L706.5,398.8L716.3,399.9L725.4,400.9L733.9,401.8L741.7,402.4L748.9,403L755.5,403.3L761.4,403.6L766.8,403.7L771.5,403.6L775.6,403.5L779.1,403.2L782,402.9L784.1,402.5L785.5,402.2L783.9,402.7L782.5,403L780.3,403.4L777.5,403.7L774,404L769.9,404.1L765.1,404.2L759.8,404.1L753.9,403.8L747.3,403.5L740.1,402.9L732.2,402.3L723.8,401.4L714.6,400.4L704.8,399.3L694.2,398L683,396.5L671,394.9L658.4,393.1L645.1,391.1L630.9,389L614.8,387L598,384.9L580.3,382.6L561.5,380.3L541.9,377.8Z" fill="#68ca00"/>
<path d="M541.9,377.8L561.5,380.3L580.3,382.6L598,384.9L614.8,387L630.9,389L645.1,391.1L658.4,393.1L671,394.9L683,396.5L694.2,398L704.8,399.3L714.6,400.4L723.8,401.4L732.2,402.3L740.1,402.9L747.3,403.5L753.9,403.8L759.8,404.1L765.1,404.2L769.9,404.1L774,404L777.5,403.7L780.3,403.4L782.5,403L783.9,402.7L782.2,403.2L780.9,403.5L778.7,403.9L775.9,404.2L772.4,404.5L768.2,404.6L763.5,404.7L758.2,404.6L752.2,404.3L745.6,404L738.4,403.5L730.6,402.8L722.1,401.9L713,400.9L703.2,399.8L692.6,398.5L681.3,397L669.3,395.4L656.7,393.6L643.4,391.6L629.1,389.5L613,387.5L596.2,385.4L578.3,383.2L559.5,380.9L539.8,378.4Z" fill="#62c700"/>
<path d="M539.8,378.4L559.5,380.9L578.3,383.2L596.2,385.4L613,387.5L629.1,389.5L643.4,391.6L656.7,393.6L669.3,395.4L681.3,397L692.6,398.5L703.2,399.8L713,400.9L722.1,401.9L730.6,402.8L738.4,403.5L745.6,404L752.2,404.3L758.2,404.6L763.5,404.7L768.2,404.6L772.4,404.5L775.9,404.2L778.7,403.9L780.9,403.5L782.2,403.2L780.6,403.7L779.3,404L777.1,404.4L774.2,404.7L770.7,405L766.6,405.1L761.9,405.2L756.6,405.1L750.6,404.8L744,404.5L736.8,404L729,403.3L720.5,402.4L711.4,401.4L701.5,400.3L690.9,399L679.6,397.6L667.7,395.9L655,394.1L641.7,392.1L627.4,390L611.2,388.1L594.3,386L576.4,383.8L557.4,381.5L537.6,379.1Z" fill="#5bc400"/>
<path d="M537.6,379.1L557.4,381.5L576.4,383.8L594.3,386L611.2,388.1L627.4,390L641.7,392.1L655,394.1L667.7,395.9L679.6,397.6L690.9,399L701.5,400.3L711.4,401.4L720.5,402.4L729,403.3L736.8,404L744,404.5L750.6,404.8L756.6,405.1L761.9,405.2L766.6,405.1L770.7,405L774.2,404.7L777.1,404.4L779.3,404L780.6,403.7L779,404.2L777.7,404.5L775.5,404.9L772.6,405.2L769.1,405.5L765,405.6L760.3,405.7L754.9,405.6L749,405.3L742.4,405L735.2,404.5L727.3,403.8L718.9,402.9L709.7,401.9L699.9,400.8L689.3,399.5L678,398.1L666,396.4L653.3,394.6L640,392.6L625.7,390.6L609.5,388.7L592.4,386.6L574.4,384.4L555.4,382.2L535.5,379.7Z" fill="#57c100"/>
<path d="M535.5,379.7L555.4,382.2L574.4,384.4L592.4,386.6L609.5,388.7L625.7,390.6L640,392.6L653.3,394.6L666,396.4L678,398.1L689.3,399.5L699.9,400.8L709.7,401.9L718.9,402.9L727.3,403.8L735.2,404.5L742.4,405L749,405.3L754.9,405.6L760.3,405.7L765,405.6L769.1,405.5L772.6,405.2L775.5,404.9L777.7,404.5L779,404.2L777.4,404.7L776,405L773.9,405.4L771,405.7L767.5,406L763.4,406.1L758.7,406.2L753.3,406.1L747.3,405.8L740.8,405.5L733.5,405L725.7,404.3L717.2,403.5L708.1,402.5L698.2,401.3L687.6,400L676.3,398.6L664.3,397L651.6,395.2L638.3,393.2L623.9,391.1L607.7,389.2L590.6,387.2L572.5,385L553.3,382.8L533.4,380.4Z" fill="#54c000"/>
<path d="M533.4,380.4L553.3,382.8L572.5,385L590.6,387.2L607.7,389.2L623.9,391.1L638.3,393.2L651.6,395.2L664.3,397L676.3,398.6L687.6,400L698.2,401.3L708.1,402.5L717.2,403.5L725.7,404.3L733.5,405L740.8,405.5L747.3,405.8L753.3,406.1L758.7,406.2L763.4,406.1L767.5,406L771,405.7L773.9,405.4L776,405L777.4,404.7L775.8,405.2L774.4,405.5L772.2,405.9L769.4,406.2L765.9,406.5L761.8,406.6L757,406.7L751.7,406.6L745.7,406.3L739.1,406L731.9,405.5L724.1,404.8L715.6,404L706.5,403L696.6,401.8L686,400.5L674.6,399.1L662.6,397.5L649.9,395.7L636.6,393.7L622.2,391.6L605.9,389.8L588.7,387.7L570.6,385.6L551.3,383.4L531.2,381.1Z" fill="#52bf00"/>
<path d="M531.2,381.1L551.3,383.4L570.6,385.6L588.7,387.7L605.9,389.8L622.2,391.6L636.6,393.7L649.9,395.7L662.6,397.5L674.6,399.1L686,400.5L696.6,401.8L706.5,403L715.6,404L724.1,404.8L731.9,405.5L739.1,406L745.7,406.3L751.7,406.6L757,406.7L761.8,406.6L765.9,406.5L769.4,406.2L772.2,405.9L774.4,405.5L775.8,405.2L774.1,405.7L772.8,406L770.6,406.4L767.7,406.7L764.3,407L760.1,407.1L755.4,407.2L750.1,407.1L744.1,406.9L737.5,406.5L730.3,406L722.4,405.3L714,404.5L704.8,403.5L695,402.3L684.3,401.1L673,399.6L661,398L648.3,396.2L634.9,394.2L620.5,392.2L604.1,390.3L586.9,388.3L568.6,386.2L549.3,384L529.1,381.7Z" fill="#50be00"/>
<path d="M529.1,381.7L549.3,384L568.6,386.2L586.9,388.3L604.1,390.3L620.5,392.2L634.9,394.2L648.3,396.2L661,398L673,399.6L684.3,401.1L695,402.3L704.8,403.5L714,404.5L722.4,405.3L730.3,406L737.5,406.5L744.1,406.9L750.1,407.1L755.4,407.2L760.1,407.1L764.3,407L767.7,406.7L770.6,406.4L772.8,406L774.1,405.7L772.5,406.2L771.2,406.5L769,406.9L766.1,407.2L762.6,407.5L758.5,407.6L753.8,407.7L748.4,407.6L742.5,407.4L735.9,407L728.7,406.5L720.8,405.8L712.3,405L703.2,404L693.3,402.8L682.6,401.6L671.3,400.1L659.3,398.5L646.6,396.7L633.2,394.7L618.8,392.7L602.3,390.9L585,388.9L566.7,386.8L547.2,384.7L526.9,382.4Z" fill="#4dbd00"/>
<path d="M526.9,382.4L547.2,384.7L566.7,386.8L585,388.9L602.3,390.9L618.8,392.7L633.2,394.7L646.6,396.7L659.3,398.5L671.3,400.1L682.6,401.6L693.3,402.8L703.2,404L712.3,405L720.8,405.8L728.7,406.5L735.9,407L742.5,407.4L748.4,407.6L753.8,407.7L758.5,407.6L762.6,407.5L766.1,407.2L769,406.9L771.2,406.5L772.5,406.2L770.9,406.7L769.6,407L767.4,407.4L764.5,407.7L761,408L756.9,408.1L752.2,408.2L746.8,408.1L740.8,407.9L734.3,407.5L727,407L719.2,406.3L710.7,405.5L701.5,404.5L691.7,403.3L681,402.1L669.6,400.6L657.6,399L644.9,397.2L631.5,395.3L617,393.2L600.5,391.4L583.1,389.5L564.7,387.4L545.2,385.3L524.8,383Z" fill="#4bbb00"/>
<path d="M524.8,383L545.2,385.3L564.7,387.4L583.1,389.5L600.5,391.4L617,393.2L631.5,395.3L644.9,397.2L657.6,399L669.6,400.6L681,402.1L691.7,403.3L701.5,404.5L710.7,405.5L719.2,406.3L727,407L734.3,407.5L740.8,407.9L746.8,408.1L752.2,408.2L756.9,408.1L761,408L764.5,407.7L767.4,407.4L769.6,407L770.9,406.7L769.3,407.2L767.9,407.5L765.8,407.9L762.9,408.2L759.4,408.5L755.3,408.6L750.5,408.7L745.2,408.6L739.2,408.4L732.6,408L725.4,407.5L717.5,406.8L709.1,406L699.9,405L690,403.8L679.3,402.6L668,401.2L655.9,399.5L643.2,397.8L629.8,395.8L615.3,393.8L598.7,392L581.3,390L562.8,388L543.2,385.9L522.7,383.7Z" fill="#48ba00"/>
<path d="M522.7,383.7L543.2,385.9L562.8,388L581.3,390L598.7,392L615.3,393.8L629.8,395.8L643.2,397.8L655.9,399.5L668,401.2L679.3,402.6L690,403.8L699.9,405L709.1,406L717.5,406.8L725.4,407.5L732.6,408L739.2,408.4L745.2,408.6L750.5,408.7L755.3,408.6L759.4,408.5L762.9,408.2L765.8,407.9L767.9,407.5L769.3,407.2L767.7,407.7L766.3,408L764.1,408.4L761.3,408.7L757.8,409L753.7,409.1L748.9,409.2L743.6,409.1L737.6,408.9L731,408.5L723.8,408L715.9,407.3L707.4,406.5L698.3,405.5L688.4,404.4L677.7,403.1L666.3,401.7L654.3,400.1L641.5,398.3L628.1,396.3L613.6,394.3L596.9,392.5L579.4,390.6L560.8,388.6L541.1,386.6L520.5,384.4Z" fill="#48ba00"/>
<path d="M520.5,384.4L541.1,386.6L560.8,388.6L579.4,390.6L596.9,392.5L613.6,394.3L628.1,396.3L641.5,398.3L654.3,400.1L666.3,401.7L677.7,403.1L688.4,404.4L698.3,405.5L707.4,406.5L715.9,407.3L723.8,408L731,408.5L737.6,408.9L743.6,409.1L748.9,409.2L753.7,409.1L757.8,409L761.3,408.7L764.1,408.4L766.3,408L767.7,407.7L766,408.2L764.7,408.5L762.5,408.9L759.6,409.2L756.1,409.5L752,409.6L747.3,409.7L741.9,409.6L736,409.4L729.4,409L722.1,408.5L714.3,407.8L705.8,407L696.6,406L686.7,404.9L676,403.6L664.6,402.2L652.6,400.6L639.8,398.8L626.4,396.9L611.9,394.8L595.1,393.1L577.5,391.2L558.9,389.2L539.1,387.2L518.4,385Z" fill="#47ba00"/>
<path d="M518.4,385L539.1,387.2L558.9,389.2L577.5,391.2L595.1,393.1L611.9,394.8L626.4,396.9L639.8,398.8L652.6,400.6L664.6,402.2L676,403.6L686.7,404.9L696.6,406L705.8,407L714.3,407.8L722.1,408.5L729.4,409L736,409.4L741.9,409.6L747.3,409.7L752,409.6L756.1,409.5L759.6,409.2L762.5,408.9L764.7,408.5L766,408.2L764.4,408.7L763.1,409L760.9,409.4L758,409.7L754.5,410L750.4,410.1L745.7,410.2L740.3,410.1L734.3,409.9L727.7,409.5L720.5,409L712.6,408.3L704.1,407.5L695,406.5L685.1,405.4L674.4,404.1L663,402.7L650.9,401.1L638.1,399.3L624.6,397.4L610.1,395.3L593.3,393.6L575.7,391.8L557,389.8L537.1,387.8L516.3,385.7Z" fill="#47b900"/>
<path d="M516.3,385.7L537.1,387.8L557,389.8L575.7,391.8L593.3,393.6L610.1,395.3L624.6,397.4L638.1,399.3L650.9,401.1L663,402.7L674.4,404.1L685.1,405.4L695,406.5L704.1,407.5L712.6,408.3L720.5,409L727.7,409.5L734.3,409.9L740.3,410.1L745.7,410.2L750.4,410.1L754.5,410L758,409.7L760.9,409.4L763.1,409L764.4,408.7L762.8,409.2L761.5,409.5L759.3,409.9L756.4,410.2L752.9,410.5L748.8,410.6L744,410.7L738.7,410.6L732.7,410.4L726.1,410L718.9,409.5L711,408.8L702.5,408L693.4,407L683.5,405.9L672.7,404.6L661.3,403.2L649.2,401.6L636.4,399.8L622.9,397.9L608.4,395.9L591.5,394.2L573.8,392.3L555,390.4L535,388.4L516.2,385.7Z" fill="#46b900"/>
<path d="M613.7,355.6L630,359.1L645.7,362.4L660.7,365.5L675.2,368.4L689,371L702.4,373.4L715.3,375.5L727.5,377.5L739,379.2L749.9,380.8L760.1,382.2L769.8,383.4L778.8,384.5L787.2,385.3L794.9,386L802.1,386.6L808.6,387L814.5,387.2L819.8,387.3L824.5,387.3L828.6,387.1L832,386.9L834.9,386.6L837.1,386.2L838.4,385.9L814.6,393.2L813.3,393.5L811.1,393.9L808.3,394.2L804.8,394.5L800.7,394.6L796,394.6L790.7,394.5L784.7,394.3L778.2,393.9L771,393.4L763.2,392.7L754.8,391.9L745.8,390.8L736,389.6L725.6,388.3L714.6,386.8L702.9,385.1L690.5,383.2L677.4,381.1L663.7,378.8L648.9,376.5L633.4,373.9L617.2,371.2L600.2,368.3L582.4,365.3Z" fill="#f00"/>
<path d="M670,437.8L823.7,490L1141.3,392L987.6,339.8Z" fill="url(#gbt)"/>
<path d="M515.5,128.8L671.4,181.7L989.6,83.5L833.7,30.6Z" fill="#46b900"/>
<path d="M515.5,129.4L529,133.8L529.7,123.4L528.8,123.1Z" fill="#46b900"/>
<path d="M652.1,83.2L661.4,85.4L670.7,87.5L659.2,86.8L649.7,84.8L640.3,82.7Z" fill="#acdc00"/>
<path d="M640.3,82.7L649.7,84.8L659.2,86.8L651.1,83.6L641.6,81.5L632,79.5Z" fill="#cccf11"/>
<path d="M632,79.5L641.6,81.5L651.1,83.6L644.8,77L635.2,75L625.6,73Z" fill="#a6a60f"/>
<path d="M625.6,73L635.2,75L644.8,77L640.8,68.9L631.1,66.9L621.5,64.9Z" fill="#80800a"/>
<path d="M621.5,64.9L631.1,66.9L640.8,68.9L637.4,56.5L627.6,54.6L618,52.6Z" fill="#807500"/>
<path d="M618,52.6L627.6,54.6L637.4,56.5L635.1,43.2L625.4,41.3L615.6,39.3Z" fill="#805c00"/>
<path d="M615.6,39.3L625.4,41.3L635.1,43.2L632.5,18.3L622.7,16.3L613,14.4Z" fill="#803300"/>
<path d="M611.8,13.9L622.2,16L632.5,18.1L604.5,26.8L593.8,24.8L583.1,22.8Z" fill="#f00"/>
<path d="M584.3,23L594.6,24.9L605,26.8L604.3,29.5L593.9,27.6L583.6,25.7Z" fill="#eb3520"/>
<path d="M584.1,25.5L594.4,27.5L604.7,29.4L604.1,32.1L593.7,30.2L583.4,28.2Z" fill="#e63719"/>
<path d="M583.8,28.1L594.1,30L604.5,31.9L603.8,34.6L593.4,32.7L583.1,30.8Z" fill="#e23b11"/>
<path d="M583.6,30.7L593.9,32.6L604.3,34.5L603.6,37.2L593.2,35.3L582.9,33.4Z" fill="#dd410a"/>
<path d="M583.3,33.2L593.6,35.2L604,37.1L603.3,39.8L592.9,37.9L582.6,36Z" fill="#d94a03"/>
<path d="M583,35.8L593.4,37.7L603.7,39.6L603,42.3L592.6,40.4L582.3,38.5Z" fill="#d75300"/>
<path d="M582.7,38.4L593.1,40.3L603.4,42.2L602.7,44.9L592.3,43L582,41.1Z" fill="#d85c00"/>
<path d="M582.4,41L592.8,42.9L603.1,44.8L602.4,47.5L592,45.6L581.7,43.7Z" fill="#d96600"/>
<path d="M582.1,43.6L592.4,45.5L602.8,47.4L602.1,50.1L591.7,48.2L581.3,46.3Z" fill="#da7100"/>
<path d="M581.8,46.2L592.1,48.1L602.5,50L601.7,52.7L591.3,50.8L581,48.9Z" fill="#db7b00"/>
<path d="M581.4,48.8L591.8,50.7L602.1,52.6L601.3,55.3L590.9,53.4L580.6,51.5Z" fill="#dc8600"/>
<path d="M581,51.4L591.4,53.3L601.8,55.2L600.9,57.9L590.5,56.1L580.2,54.2Z" fill="#dd8f00"/>
<path d="M580.6,54L591,55.9L601.4,57.8L600.5,60.6L590.1,58.7L579.7,56.8Z" fill="#df9900"/>
<path d="M580.2,56.6L590.5,58.6L600.9,60.4L600.1,63.2L589.6,61.3L579.3,59.4Z" fill="#e0a300"/>
<path d="M579.7,59.3L590.1,61.2L600.5,63.1L599.6,65.9L589.1,64L578.8,62.1Z" fill="#e2ae00"/>
<path d="M579.2,61.9L589.6,63.8L600,65.7L599,68.5L588.6,66.6L578.2,64.8Z" fill="#e4b700"/>
<path d="M578.7,64.6L589,66.5L599.5,68.4L598.5,71.2L588,69.3L577.6,67.4Z" fill="#e6c000"/>
<path d="M578.1,67.3L588.5,69.2L598.9,71.1L597.8,73.9L587.4,72L577,70.1Z" fill="#e8ca00"/>
<path d="M577.4,70L587.8,71.9L598.3,73.8L597.1,76.6L586.7,74.8L576.3,72.9Z" fill="#ebd400"/>
<path d="M576.7,72.7L587.1,74.6L597.6,76.5L596.4,79.4L585.9,77.5L575.5,75.6Z" fill="#eedd01"/>
<path d="M576,75.5L586.4,77.4L596.8,79.2L595.5,82.1L585.1,80.3L574.7,78.4Z" fill="#f1e507"/>
<path d="M575.1,78.3L585.5,80.1L596,82L594.6,85L584.1,83.1L573.7,81.2Z" fill="#f4ed0c"/>
<path d="M574.1,81.1L584.6,83L595,84.8L593.5,87.8L583,86L572.6,84.1Z" fill="#f8f611"/>
<path d="M573,83.9L583.5,85.8L594,87.7L592.3,90.7L581.8,88.9L571.4,87Z" fill="#fdfd14"/>
<path d="M571.8,86.9L582.2,88.7L592.8,90.6L590.9,93.7L580.4,91.8L569.9,90Z" fill="#ffff1c"/>
<path d="M570.4,89.8L580.8,91.7L591.4,93.6L589.3,96.8L578.7,94.9L568.2,93.1Z" fill="#ffff2a"/>
<path d="M568.7,92.9L579.2,94.8L589.7,96.6L587.3,99.9L576.7,98.1L566.2,96.3Z" fill="#ffff37"/>
<path d="M566.6,96.1L577.2,98L587.7,99.8L584.9,103.3L574.2,101.5L563.7,99.6Z" fill="#ffff43"/>
<path d="M564.1,99.5L574.7,101.3L585.3,103.2L581.8,106.9L571.1,105.1L560.5,103.2Z" fill="#ffff4a"/>
<path d="M561,103.1L571.5,104.9L582.2,106.7L578.1,110.5L567.3,108.7L556.7,106.8Z" fill="#fcff4a"/>
<path d="M557.2,106.7L567.8,108.5L578.5,110.3L574,113.8L563.2,112L552.5,110.2Z" fill="#effd38"/>
<path d="M553,110.1L563.7,111.9L574.4,113.6L569.5,116.9L558.7,115.1L547.9,113.3Z" fill="#d6f62e"/>
<path d="M548.4,113.2L559.1,115L569.9,116.7L564.6,119.8L553.7,118.1L542.9,116.3Z" fill="#baee26"/>
<path d="M543.3,116.2L554.1,118L565,119.7L559.1,122.7L548.2,121L537.3,119.2Z" fill="#9ce21f"/>
<path d="M537.8,119.1L548.6,120.8L559.6,122.6L553.2,125.5L542.1,123.8L531.2,122Z" fill="#82d718"/>
<path d="M531.6,121.9L542.6,123.6L553.6,125.3L546.6,128.2L535.5,126.5L524.5,124.8Z" fill="#6ecc13"/>
<path d="M524.9,124.7L535.9,126.4L547.1,128.1L539.4,131L528.2,129.3L517.1,127.6Z" fill="#5ec40f"/>
<path d="M517.5,127.5L528.6,129.2L539.8,130.8L532.4,133.5L524.5,130.8L516.7,128.1Z" fill="#57c10b"/>
<path d="M670.7,87.5L680.1,89.5L689.6,91.6L678.3,90.9L668.7,88.9L659.2,86.8Z" fill="#acdc00"/>
<path d="M659.2,86.8L668.7,88.9L678.3,90.9L670.4,87.6L660.8,85.6L651.1,83.6Z" fill="#cdd011"/>
<path d="M651.1,83.6L660.8,85.6L670.4,87.6L664.3,81L654.5,79L644.8,77Z" fill="#a8a80f"/>
<path d="M644.8,77L654.5,79L664.3,81L660.3,72.8L650.5,70.8L640.8,68.9Z" fill="#80800a"/>
<path d="M640.8,68.9L650.5,70.8L660.3,72.8L657,60.5L647.2,58.5L637.4,56.5Z" fill="#807500"/>
<path d="M637.4,56.5L647.2,58.5L657,60.5L654.8,47.1L644.9,45.2L635.1,43.2Z" fill="#805c00"/>
<path d="M635.1,43.2L644.9,45.2L654.8,47.1L652.3,22.2L642.4,20.2L632.5,18.3Z" fill="#803300"/>
<path d="M631.4,17.9L641.8,19.9L652.3,22L624.9,30.4L614.1,28.5L603.3,26.5Z" fill="#f00"/>
<path d="M604.5,26.7L614.9,28.6L625.4,30.5L624.7,33.1L614.2,31.3L603.8,29.4Z" fill="#ea3520"/>
<path d="M604.2,29.3L614.7,31.2L625.1,33L624.5,35.7L614,33.8L603.6,32Z" fill="#e43719"/>
<path d="M604,31.8L614.4,33.7L624.9,35.6L624.2,38.3L613.8,36.4L603.3,34.5Z" fill="#df3a11"/>
<path d="M603.8,34.4L614.2,36.3L624.7,38.1L624,40.8L613.5,39L603.1,37.1Z" fill="#da400a"/>
<path d="M603.5,37L613.9,38.8L624.4,40.7L623.7,43.4L613.2,41.6L602.8,39.7Z" fill="#d54903"/>
<path d="M603.2,39.5L613.7,41.4L624.2,43.3L623.5,46L613,44.1L602.5,42.3Z" fill="#d35200"/>
<path d="M603,42.1L613.4,44L623.9,45.9L623.2,48.6L612.7,46.7L602.2,44.8Z" fill="#d45b00"/>
<path d="M602.7,44.7L613.1,46.6L623.6,48.4L622.9,51.2L612.4,49.3L601.9,47.4Z" fill="#d56500"/>
<path d="M602.3,47.3L612.8,49.2L623.3,51L622.5,53.8L612,51.9L601.6,50Z" fill="#d66f00"/>
<path d="M602,49.9L612.5,51.8L623,53.6L622.2,56.4L611.7,54.5L601.2,52.6Z" fill="#d77900"/>
<path d="M601.7,52.5L612.1,54.4L622.6,56.2L621.8,59L611.3,57.1L600.8,55.2Z" fill="#d88300"/>
<path d="M601.3,55.1L611.7,57L622.2,58.8L621.4,61.6L610.9,59.7L600.4,57.9Z" fill="#d98d00"/>
<path d="M600.9,57.7L611.3,59.6L621.9,61.4L621,64.2L610.5,62.4L600,60.5Z" fill="#db9600"/>
<path d="M600.5,60.4L610.9,62.2L621.4,64.1L620.6,66.8L610,65L599.6,63.1Z" fill="#dca000"/>
<path d="M600,63L610.5,64.9L621,66.7L620.1,69.5L609.6,67.6L599.1,65.8Z" fill="#deab00"/>
<path d="M599.5,65.6L610,67.5L620.5,69.4L619.6,72.1L609,70.3L598.5,68.4Z" fill="#e0b400"/>
<path d="M599,68.3L609.5,70.2L620,72L619,74.8L608.5,73L598,71.1Z" fill="#e2bd00"/>
<path d="M598.4,71L608.9,72.9L619.4,74.7L618.4,77.5L607.8,75.7L597.3,73.8Z" fill="#e4c600"/>
<path d="M597.8,73.7L608.3,75.5L618.8,77.4L617.7,80.2L607.2,78.4L596.7,76.5Z" fill="#e6d000"/>
<path d="M597.1,76.4L607.6,78.3L618.2,80.1L617,83L606.4,81.1L595.9,79.3Z" fill="#e9d901"/>
<path d="M596.3,79.2L606.8,81L617.4,82.8L616.2,85.7L605.6,83.9L595.1,82.1Z" fill="#ede106"/>
<path d="M595.5,81.9L606,83.8L616.6,85.6L615.3,88.5L604.7,86.7L594.1,84.9Z" fill="#f0e90c"/>
<path d="M594.5,84.7L605.1,86.6L615.7,88.4L614.2,91.4L603.6,89.6L593.1,87.7Z" fill="#f4f211"/>
<path d="M593.5,87.6L604,89.4L614.7,91.3L613,94.3L602.4,92.5L591.8,90.6Z" fill="#f9f914"/>
<path d="M592.3,90.5L602.8,92.3L613.5,94.2L611.7,97.3L601,95.4L590.4,93.6Z" fill="#fdfd15"/>
<path d="M590.9,93.5L601.5,95.3L612.1,97.1L610.1,100.3L599.4,98.5L588.8,96.7Z" fill="#ffff20"/>
<path d="M589.2,96.5L599.8,98.4L610.5,100.2L608.1,103.5L597.4,101.7L586.8,99.9Z" fill="#ffff2e"/>
<path d="M587.2,99.7L597.9,101.5L608.6,103.3L605.8,106.8L595,105L584.4,103.2Z" fill="#ffff3b"/>
<path d="M584.8,103.1L595.5,104.9L606.2,106.7L602.8,110.4L592,108.6L581.3,106.8Z" fill="#ff4"/>
<path d="M581.7,106.7L592.4,108.5L603.2,110.2L599.1,113.9L588.3,112.2L577.6,110.4Z" fill="#fcff45"/>
<path d="M578,110.2L588.7,112L599.6,113.8L595.2,117.2L584.3,115.5L573.5,113.7Z" fill="#effd34"/>
<path d="M573.9,113.6L584.7,115.3L595.6,117.1L590.8,120.3L579.9,118.5L569,116.8Z" fill="#d5f62c"/>
<path d="M569.4,116.7L580.3,118.4L591.2,120.1L586,123.2L575,121.5L564.1,119.8Z" fill="#b9ee25"/>
<path d="M564.5,119.6L575.4,121.4L586.4,123.1L580.7,126L569.6,124.3L558.6,122.6Z" fill="#9be21e"/>
<path d="M559.1,122.5L570.1,124.2L581.1,125.9L574.9,128.7L563.7,127.1L552.7,125.4Z" fill="#82d718"/>
<path d="M553.1,125.3L564.2,126.9L575.3,128.6L568.5,131.4L557.3,129.8L546.1,128.1Z" fill="#6dcc12"/>
<path d="M546.5,128L557.7,129.6L568.9,131.3L561.5,134.1L550.1,132.5L538.9,130.9Z" fill="#5dc40e"/>
<path d="M539.3,130.7L550.6,132.4L561.9,134L553.7,136.8L542.3,135.3L532,133.4Z" fill="#56c10b"/>
<path d="M689.6,91.6L699.1,93.6L708.7,95.7L697.7,94.9L688,92.9L678.3,90.9Z" fill="#addd00"/>
<path d="M678.3,90.9L688,92.9L697.7,94.9L690,91.5L680.2,89.5L670.4,87.6Z" fill="#cfd211"/>
<path d="M670.4,87.6L680.2,89.5L690,91.5L683.9,84.9L674.1,83L664.3,81Z" fill="#abab0f"/>
<path d="M664.3,81L674.1,83L683.9,84.9L680.1,76.6L670.2,74.7L660.3,72.8Z" fill="#84840b"/>
<path d="M660.3,72.8L670.2,74.7L680.1,76.6L676.8,64.3L666.9,62.4L657,60.5Z" fill="#807500"/>
<path d="M657,60.5L666.9,62.4L676.8,64.3L674.7,50.9L664.7,49.1L654.8,47.1Z" fill="#805c00"/>
<path d="M654.8,47.1L664.7,49.1L674.7,50.9L672.2,26L662.2,24.1L652.3,22.2Z" fill="#803300"/>
<path d="M651.1,21.8L661.6,23.8L672.2,25.8L645.6,34L634.6,32.1L623.7,30.2Z" fill="#f00"/>
<path d="M624.9,30.4L635.4,32.2L646,34L645.4,36.7L634.8,34.9L624.2,33.1Z" fill="#e83420"/>
<path d="M624.6,32.9L635.2,34.8L645.8,36.6L645.2,39.3L634.5,37.5L624,35.6Z" fill="#e23619"/>
<path d="M624.4,35.5L635,37.3L645.6,39.2L644.9,41.9L634.3,40L623.8,38.2Z" fill="#dc3a11"/>
<path d="M624.2,38.1L634.7,39.9L645.3,41.7L644.7,44.4L634.1,42.6L623.5,40.8Z" fill="#d63f0a"/>
<path d="M623.9,40.6L634.5,42.5L645.1,44.3L644.4,47L633.8,45.2L623.2,43.3Z" fill="#d14703"/>
<path d="M623.7,43.2L634.2,45L644.8,46.9L644.1,49.6L633.5,47.7L623,45.9Z" fill="#cf5000"/>
<path d="M623.4,45.8L633.9,47.6L644.6,49.4L643.9,52.1L633.2,50.3L622.7,48.5Z" fill="#d05900"/>
<path d="M623.1,48.4L633.6,50.2L644.3,52L643.6,54.7L632.9,52.9L622.4,51.1Z" fill="#d06200"/>
<path d="M622.8,50.9L633.3,52.8L644,54.6L643.3,57.3L632.6,55.5L622,53.7Z" fill="#d16c00"/>
<path d="M622.5,53.5L633,55.4L643.7,57.2L642.9,59.9L632.3,58.1L621.7,56.3Z" fill="#d27600"/>
<path d="M622.1,56.1L632.7,58L643.3,59.8L642.6,62.5L631.9,60.7L621.3,58.9Z" fill="#d38000"/>
<path d="M621.8,58.7L632.3,60.6L643,62.4L642.2,65.1L631.5,63.3L620.9,61.5Z" fill="#d58a00"/>
<path d="M621.4,61.4L631.9,63.2L642.6,65L641.8,67.8L631.1,65.9L620.5,64.1Z" fill="#d69300"/>
<path d="M620.9,64L631.5,65.8L642.2,67.6L641.3,70.4L630.7,68.6L620.1,66.8Z" fill="#d79d00"/>
<path d="M620.5,66.6L631.1,68.5L641.8,70.3L640.9,73L630.2,71.2L619.6,69.4Z" fill="#d9a700"/>
<path d="M620,69.3L630.6,71.1L641.3,72.9L640.4,75.7L629.7,73.9L619.1,72.1Z" fill="#dbb000"/>
<path d="M619.5,71.9L630.1,73.8L640.8,75.6L639.8,78.4L629.1,76.6L618.5,74.7Z" fill="#ddb900"/>
<path d="M618.9,74.6L629.6,76.4L640.2,78.2L639.2,81.1L628.5,79.3L617.9,77.4Z" fill="#dfc200"/>
<path d="M618.3,77.3L629,79.1L639.6,80.9L638.6,83.8L627.9,82L617.2,80.1Z" fill="#e2cc00"/>
<path d="M617.7,80L628.3,81.8L639,83.6L637.9,86.5L627.1,84.7L616.5,82.9Z" fill="#e5d501"/>
<path d="M616.9,82.8L627.6,84.6L638.3,86.4L637.1,89.3L626.3,87.5L615.7,85.7Z" fill="#e8dc06"/>
<path d="M616.1,85.5L626.8,87.3L637.5,89.1L636.2,92.1L625.4,90.3L614.8,88.5Z" fill="#ebe50b"/>
<path d="M615.2,88.3L625.8,90.1L636.6,91.9L635.2,94.9L624.4,93.1L613.7,91.3Z" fill="#efed11"/>
<path d="M614.2,91.2L624.8,93L635.6,94.8L634,97.8L623.2,96L612.5,94.2Z" fill="#f4f414"/>
<path d="M613,94.1L623.7,95.9L634.4,97.7L632.7,100.7L621.9,99L611.2,97.2Z" fill="#f9f915"/>
<path d="M611.6,97L622.3,98.8L633.1,100.6L631.1,103.8L620.3,102L609.6,100.2Z" fill="#fefe16"/>
<path d="M610,100.1L620.7,101.9L631.5,103.6L629.2,106.9L618.4,105.2L607.6,103.4Z" fill="#ffff23"/>
<path d="M608.1,103.3L618.8,105L629.6,106.8L626.9,110.2L616.1,108.5L605.3,106.7Z" fill="#ffff32"/>
<path d="M605.7,106.6L616.5,108.4L627.3,110.1L624,113.8L613.1,112L602.2,110.3Z" fill="#ffff3d"/>
<path d="M602.7,110.2L613.5,111.9L624.4,113.6L620.5,117.3L609.5,115.6L598.6,113.8Z" fill="#fcff3f"/>
<path d="M599.1,113.7L609.9,115.4L620.9,117.2L616.6,120.5L605.6,118.8L594.7,117.1Z" fill="#eefd30"/>
<path d="M595.1,117L606,118.7L617,120.4L612.3,123.6L601.3,121.9L590.3,120.2Z" fill="#d4f629"/>
<path d="M590.7,120.1L601.7,121.8L612.8,123.5L607.7,126.5L596.5,124.8L585.5,123.1Z" fill="#b9ee23"/>
<path d="M585.9,123L597,124.7L608.1,126.3L602.5,129.2L591.3,127.6L580.2,125.9Z" fill="#9be11c"/>
<path d="M580.6,125.8L591.7,127.5L602.9,129.1L596.9,131.9L585.6,130.3L574.4,128.6Z" fill="#81d617"/>
<path d="M574.8,128.5L586,130.2L597.3,131.8L590.6,134.5L579.3,132.9L568,131.3Z" fill="#6dcc12"/>
<path d="M568.4,131.2L579.7,132.8L591.1,134.4L583.8,137.2L572.3,135.6L560.9,134Z" fill="#5dc40e"/>
<path d="M561.4,133.9L572.8,135.5L584.2,137L576.3,139.9L564.7,138.3L553.2,136.8Z" fill="#56c10a"/>
<path d="M708.7,95.7L718.3,97.7L728.1,99.6L717.3,98.8L707.5,96.8L697.7,94.9Z" fill="#aede00"/>
<path d="M697.7,94.9L707.5,96.8L717.3,98.8L709.8,95.3L699.9,93.4L690,91.5Z" fill="#d1d411"/>
<path d="M690,91.5L699.9,93.4L709.8,95.3L703.9,88.7L693.9,86.8L683.9,84.9Z" fill="#aeae10"/>
<path d="M683.9,84.9L693.9,86.8L703.9,88.7L700.2,80.4L690.1,78.5L680.1,76.6Z" fill="#88880b"/>
<path d="M680.1,76.6L690.1,78.5L700.2,80.4L697,68L686.9,66.2L676.8,64.3Z" fill="#807500"/>
<path d="M676.8,64.3L686.9,66.2L697,68L694.9,54.7L684.8,52.8L674.7,50.9Z" fill="#805c00"/>
<path d="M674.7,50.9L684.8,52.8L694.9,54.7L692.5,29.7L682.3,27.8L672.2,26Z" fill="#803300"/>
<path d="M671,25.6L681.7,27.5L692.5,29.5L666.5,37.5L655.4,35.7L644.3,33.8Z" fill="#f00"/>
<path d="M645.5,34L656.2,35.8L666.9,37.5L666.3,40.2L655.6,38.4L644.9,36.6Z" fill="#e63420"/>
<path d="M645.3,36.5L656,38.3L666.7,40.1L666.1,42.8L655.3,41L644.7,39.2Z" fill="#df3519"/>
<path d="M645.1,39.1L655.7,40.9L666.5,42.7L665.9,45.3L655.1,43.6L644.4,41.8Z" fill="#d83911"/>
<path d="M644.8,41.6L655.5,43.4L666.3,45.2L665.7,47.9L654.9,46.1L644.2,44.3Z" fill="#d23e0a"/>
<path d="M644.6,44.2L655.3,46L666.1,47.8L665.4,50.5L654.6,48.7L643.9,46.9Z" fill="#cc4503"/>
<path d="M644.3,46.8L655,48.6L665.8,50.3L665.1,53L654.4,51.3L643.6,49.5Z" fill="#ca4e00"/>
<path d="M644.1,49.4L654.8,51.2L665.5,52.9L664.9,55.6L654.1,53.9L643.4,52.1Z" fill="#ca5600"/>
<path d="M643.8,51.9L654.5,53.7L665.3,55.5L664.6,58.2L653.8,56.4L643.1,54.6Z" fill="#cb6000"/>
<path d="M643.5,54.5L654.2,56.3L665,58.1L664.3,60.8L653.5,59L642.8,57.2Z" fill="#cc6900"/>
<path d="M643.2,57.1L653.9,58.9L664.7,60.7L663.9,63.4L653.1,61.6L642.4,59.8Z" fill="#cd7300"/>
<path d="M642.8,59.7L653.5,61.5L664.3,63.3L663.6,66L652.8,64.2L642.1,62.4Z" fill="#ce7d00"/>
<path d="M642.5,62.3L653.2,64.1L664,65.9L663.2,68.6L652.4,66.8L641.7,65.1Z" fill="#cf8600"/>
<path d="M642.1,64.9L652.8,66.7L663.6,68.5L662.8,71.2L652,69.5L641.3,67.7Z" fill="#d08f00"/>
<path d="M641.7,67.5L652.4,69.3L663.2,71.1L662.4,73.8L651.6,72.1L640.8,70.3Z" fill="#d29900"/>
<path d="M641.3,70.2L652,72L662.8,73.7L662,76.5L651.1,74.7L640.4,73Z" fill="#d3a300"/>
<path d="M640.8,72.8L651.5,74.6L662.4,76.4L661.5,79.1L650.6,77.4L639.9,75.6Z" fill="#d5ac00"/>
<path d="M640.3,75.5L651,77.3L661.9,79L660.9,81.8L650.1,80.1L639.3,78.3Z" fill="#d7b400"/>
<path d="M639.7,78.2L650.5,79.9L661.3,81.7L660.4,84.5L649.5,82.7L638.7,81Z" fill="#d9bd00"/>
<path d="M639.1,80.8L649.9,82.6L660.8,84.4L659.7,87.2L648.9,85.5L638.1,83.7Z" fill="#dcc700"/>
<path d="M638.5,83.6L649.3,85.3L660.1,87.1L659,89.9L648.1,88.2L637.4,86.4Z" fill="#dfd001"/>
<path d="M637.8,86.3L648.6,88.1L659.4,89.8L658.2,92.7L647.4,90.9L636.6,89.2Z" fill="#e2d706"/>
<path d="M637,89L647.8,90.8L658.6,92.6L657.4,95.5L646.5,93.7L635.7,92Z" fill="#e6df0b"/>
<path d="M636.1,91.8L646.9,93.6L657.8,95.3L656.4,98.3L645.5,96.6L634.7,94.8Z" fill="#eae810"/>
<path d="M635.1,94.7L645.9,96.4L656.8,98.2L655.3,101.2L644.3,99.4L633.5,97.7Z" fill="#eeee13"/>
<path d="M633.9,97.6L644.8,99.3L655.7,101.1L654,104.1L643,102.4L632.2,100.6Z" fill="#f4f414"/>
<path d="M632.6,100.5L643.4,102.3L654.4,104L652.5,107.1L641.5,105.4L630.6,103.7Z" fill="#f9f916"/>
<path d="M631,103.6L641.9,105.3L652.9,107L650.6,110.3L639.6,108.6L628.7,106.8Z" fill="#ffff17"/>
<path d="M629.1,106.7L640,108.4L651,110.2L648.4,113.6L637.4,111.9L626.4,110.2Z" fill="#ffff26"/>
<path d="M626.8,110L637.8,111.7L648.8,113.4L645.5,117.1L634.5,115.4L623.5,113.7Z" fill="#ffff34"/>
<path d="M623.9,113.6L634.9,115.3L645.9,117L642.1,120.6L631,118.9L620,117.2Z" fill="#fcff38"/>
<path d="M620.4,117.1L631.4,118.8L642.5,120.5L638.3,123.8L627.2,122.1L616.1,120.5Z" fill="#eefd2a"/>
<path d="M616.5,120.3L627.6,122L638.7,123.7L634.2,126.8L623,125.2L611.8,123.5Z" fill="#d4f625"/>
<path d="M612.2,123.4L623.4,125L634.6,126.7L629.6,129.6L618.3,128L607.1,126.4Z" fill="#b8ee20"/>
<path d="M607.6,126.3L618.8,127.9L630,129.5L624.6,132.4L613.3,130.8L602,129.1Z" fill="#9ae11a"/>
<path d="M602.4,129L613.7,130.6L625,132.2L619.1,135L607.7,133.4L596.3,131.8Z" fill="#80d615"/>
<path d="M596.7,131.7L608.1,133.3L619.5,134.9L613.1,137.6L601.5,136L590.1,134.5Z" fill="#6ccc11"/>
<path d="M590.5,134.3L602,135.9L613.5,137.4L606.4,140.2L594.8,138.6L583.3,137.1Z" fill="#5dc40d"/>
<path d="M583.7,137L595.2,138.5L606.8,140L599.1,142.8L587.4,141.3L575.7,139.8Z" fill="#56c10a"/>
<path d="M728.1,99.6L738.3,101.5L748.6,103.3L737.9,102.4L727.6,100.6L717.3,98.8Z" fill="#afe000"/>
<path d="M717.3,98.8L727.6,100.6L737.9,102.4L730.5,98.9L720.1,97.1L709.8,95.3Z" fill="#d3d711"/>
<path d="M709.8,95.3L720.1,97.1L730.5,98.9L724.7,92.2L714.2,90.5L703.9,88.7Z" fill="#b2b210"/>
<path d="M703.9,88.7L714.2,90.5L724.7,92.2L721,84L710.5,82.2L700.2,80.4Z" fill="#8d8d0b"/>
<path d="M700.2,80.4L710.5,82.2L721,84L717.8,71.6L707.4,69.8L697,68Z" fill="#807500"/>
<path d="M697,68L707.4,69.8L717.8,71.6L715.7,58.2L705.3,56.5L694.9,54.7Z" fill="#805c00"/>
<path d="M694.9,54.7L705.3,56.5L715.7,58.2L713.3,33.2L702.9,31.4L692.5,29.7Z" fill="#803300"/>
<path d="M691.3,29.3L702.3,31.2L713.3,33L687.7,40.9L676.4,39.1L665.3,37.3Z" fill="#f00"/>
<path d="M666.4,37.5L677.2,39.2L688.1,41L687.5,43.7L676.6,41.9L665.8,40.1Z" fill="#e33420"/>
<path d="M666.2,40L677,41.8L687.9,43.5L687.3,46.2L676.4,44.5L665.6,42.7Z" fill="#dc3519"/>
<path d="M666,42.6L676.8,44.3L687.7,46.1L687,48.8L676.2,47L665.4,45.3Z" fill="#d43711"/>
<path d="M665.8,45.1L676.6,46.9L687.4,48.7L686.8,51.3L675.9,49.6L665.2,47.8Z" fill="#cd3c0a"/>
<path d="M665.6,47.7L676.3,49.5L687.2,51.2L686.6,53.9L675.7,52.2L664.9,50.4Z" fill="#c64303"/>
<path d="M665.3,50.3L676.1,52L687,53.8L686.3,56.5L675.4,54.7L664.6,53Z" fill="#c34b00"/>
<path d="M665,52.8L675.8,54.6L686.7,56.4L686,59.1L675.1,57.3L664.4,55.5Z" fill="#c45400"/>
<path d="M664.8,55.4L675.5,57.2L686.4,58.9L685.7,61.6L674.9,59.9L664.1,58.1Z" fill="#c55d00"/>
<path d="M664.5,58L675.3,59.8L686.1,61.5L685.4,64.2L674.5,62.5L663.8,60.7Z" fill="#c56600"/>
<path d="M664.2,60.6L674.9,62.4L685.8,64.1L685.1,66.8L674.2,65.1L663.4,63.3Z" fill="#c67000"/>
<path d="M663.8,63.2L674.6,65L685.5,66.7L684.8,69.4L673.9,67.7L663.1,65.9Z" fill="#c77900"/>
<path d="M663.5,65.8L674.3,67.6L685.2,69.3L684.4,72L673.5,70.3L662.7,68.5Z" fill="#c98200"/>
<path d="M663.1,68.4L673.9,70.2L684.8,71.9L684,74.6L673.1,72.9L662.3,71.1Z" fill="#ca8b00"/>
<path d="M662.7,71L673.5,72.8L684.4,74.5L683.6,77.3L672.7,75.5L661.9,73.8Z" fill="#cb9400"/>
<path d="M662.3,73.6L673.1,75.4L684,77.1L683.2,79.9L672.3,78.2L661.5,76.4Z" fill="#cd9e00"/>
<path d="M661.9,76.3L672.7,78.1L683.6,79.8L682.7,82.6L671.8,80.8L661,79.1Z" fill="#cfa600"/>
<path d="M661.4,78.9L672.2,80.7L683.1,82.4L682.2,85.2L671.2,83.5L660.4,81.7Z" fill="#d1af00"/>
<path d="M660.8,81.6L671.6,83.4L682.5,85.1L681.6,87.9L670.7,86.2L659.8,84.4Z" fill="#d3b700"/>
<path d="M660.2,84.3L671.1,86.1L682,87.8L681,90.6L670,88.9L659.2,87.1Z" fill="#d5c000"/>
<path d="M659.6,87L670.4,88.8L681.3,90.5L680.3,93.3L669.3,91.6L658.5,89.8Z" fill="#d8c901"/>
<path d="M658.9,89.7L669.7,91.5L680.7,93.2L679.5,96.1L668.6,94.4L657.7,92.6Z" fill="#dbd106"/>
<path d="M658.1,92.5L669,94.2L679.9,96L678.6,98.9L667.7,97.1L656.9,95.4Z" fill="#dfd90b"/>
<path d="M657.3,95.3L668.1,97L679,98.7L677.7,101.7L666.7,100L655.9,98.2Z" fill="#e3e110"/>
<path d="M656.3,98.1L667.1,99.8L678.1,101.6L676.6,104.6L665.6,102.8L654.8,101.1Z" fill="#e8e813"/>
<path d="M655.2,101L666,102.7L677,104.4L675.3,107.5L664.3,105.8L653.5,104Z" fill="#eded14"/>
<path d="M653.9,103.9L664.7,105.7L675.7,107.4L673.8,110.5L662.8,108.8L651.9,107.1Z" fill="#f3f315"/>
<path d="M652.3,106.9L663.2,108.7L674.2,110.4L672,113.7L661,111.9L650.1,110.2Z" fill="#f9f916"/>
<path d="M650.5,110.1L661.4,111.8L672.4,113.5L669.8,116.9L658.8,115.2L647.9,113.5Z" fill="#ffff19"/>
<path d="M648.3,113.4L659.2,115.1L670.2,116.8L666.9,120.4L655.9,118.7L645,117Z" fill="#ffff28"/>
<path d="M645.4,116.9L656.3,118.6L667.3,120.3L663.6,123.9L652.5,122.2L641.6,120.5Z" fill="#fcff2f"/>
<path d="M642,120.4L652.9,122.1L664,123.8L659.8,127.1L648.8,125.4L637.8,123.7Z" fill="#edfd23"/>
<path d="M638.2,123.6L649.2,125.3L660.2,127L655.8,130.1L644.7,128.4L633.7,126.7Z" fill="#d3f61f"/>
<path d="M634.1,126.6L645.1,128.3L656.1,130L651.3,132.9L640.1,131.3L629.1,129.6Z" fill="#b6ed1c"/>
<path d="M629.5,129.4L640.5,131.1L651.7,132.8L646.3,135.6L635.2,134L624.1,132.3Z" fill="#99e117"/>
<path d="M624.5,132.2L635.6,133.8L646.7,135.5L640.9,138.2L629.7,136.6L618.6,134.9Z" fill="#7fd613"/>
<path d="M619,134.8L630.1,136.5L641.3,138.1L634.9,140.8L623.7,139.2L612.5,137.5Z" fill="#6bcc0f"/>
<path d="M612.9,137.4L624.1,139L635.3,140.7L628.3,143.3L617.1,141.7L605.9,140.1Z" fill="#5cc40c"/>
<path d="M606.3,140L617.5,141.6L628.7,143.2L621.1,145.9L609.8,144.3L598.5,142.7Z" fill="#55c009"/>
<path d="M748.6,103.3L759,105L769.5,106.8L759,105.8L748.4,104.1L737.9,102.4Z" fill="#b0e100"/>
<path d="M737.9,102.4L748.4,104.1L759,105.8L751.6,102.3L741,100.6L730.5,98.9Z" fill="#d7da11"/>
<path d="M730.5,98.9L741,100.6L751.6,102.3L745.9,95.7L735.2,94L724.7,92.2Z" fill="#b7b711"/>
<path d="M724.7,92.2L735.2,94L745.9,95.7L742.2,87.4L731.5,85.7L721,84Z" fill="#93930c"/>
<path d="M721,84L731.5,85.7L742.2,87.4L739.1,75L728.4,73.3L717.8,71.6Z" fill="#807500"/>
<path d="M717.8,71.6L728.4,73.3L739.1,75L737,61.6L726.3,59.9L715.7,58.2Z" fill="#805c00"/>
<path d="M715.7,58.2L726.3,59.9L737,61.6L734.7,36.6L723.9,34.9L713.3,33.2Z" fill="#803300"/>
<path d="M712.1,32.8L723.3,34.6L734.7,36.4L709.3,44.2L697.8,42.5L686.4,40.7Z" fill="#f00"/>
<path d="M687.6,40.9L698.6,42.6L709.7,44.3L709.1,46.9L698,45.3L687,43.6Z" fill="#e03320"/>
<path d="M687.4,43.5L698.4,45.2L709.5,46.8L708.9,49.5L697.8,47.8L686.8,46.1Z" fill="#d73419"/>
<path d="M687.2,46L698.1,47.7L709.3,49.4L708.7,52.1L697.5,50.4L686.5,48.7Z" fill="#cf3611"/>
<path d="M686.9,48.6L697.9,50.3L709.1,51.9L708.5,54.6L697.3,53L686.3,51.3Z" fill="#c63a0a"/>
<path d="M686.7,51.1L697.7,52.8L708.8,54.5L708.2,57.2L697.1,55.5L686.1,53.8Z" fill="#be4103"/>
<path d="M686.4,53.7L697.4,55.4L708.6,57.1L708,59.8L696.8,58.1L685.8,56.4Z" fill="#bb4800"/>
<path d="M686.2,56.3L697.2,58L708.3,59.6L707.7,62.3L696.5,60.7L685.5,59Z" fill="#bc5000"/>
<path d="M685.9,58.8L696.9,60.6L708.1,62.2L707.4,64.9L696.2,63.3L685.2,61.6Z" fill="#bc5900"/>
<path d="M685.6,61.4L696.6,63.1L707.8,64.8L707.1,67.5L695.9,65.8L684.9,64.1Z" fill="#bd6200"/>
<path d="M685.3,64L696.3,65.7L707.5,67.4L706.8,70.1L695.6,68.4L684.6,66.7Z" fill="#be6b00"/>
<path d="M685,66.6L696,68.3L707.2,70L706.4,72.7L695.3,71L684.3,69.3Z" fill="#bf7400"/>
<path d="M684.7,69.2L695.7,70.9L706.8,72.6L706.1,75.3L694.9,73.6L683.9,71.9Z" fill="#c07d00"/>
<path d="M684.3,71.8L695.3,73.5L706.5,75.2L705.7,77.9L694.5,76.3L683.5,74.6Z" fill="#c28500"/>
<path d="M683.9,74.4L694.9,76.1L706.1,77.8L705.3,80.5L694.1,78.9L683.1,77.2Z" fill="#c38e00"/>
<path d="M683.5,77.1L694.5,78.8L705.7,80.4L704.8,83.2L693.7,81.5L682.6,79.8Z" fill="#c59700"/>
<path d="M683,79.7L694.1,81.4L705.2,83.1L704.4,85.8L693.2,84.2L682.2,82.5Z" fill="#c6a000"/>
<path d="M682.6,82.4L693.6,84.1L704.8,85.7L703.9,88.5L692.7,86.8L681.6,85.1Z" fill="#c8a800"/>
<path d="M682,85L693.1,86.7L704.2,88.4L703.3,91.2L692.1,89.5L681.1,87.8Z" fill="#cab000"/>
<path d="M681.5,87.7L692.5,89.4L703.7,91L702.7,93.9L691.5,92.2L680.4,90.5Z" fill="#cdb900"/>
<path d="M680.8,90.4L691.9,92.1L703.1,93.7L702,96.6L690.8,94.9L679.7,93.3Z" fill="#d0c201"/>
<path d="M680.1,93.1L691.2,94.8L702.4,96.5L701.2,99.3L690,97.7L679,96Z" fill="#d3c906"/>
<path d="M679.4,95.9L690.4,97.6L701.6,99.2L700.4,102.1L689.2,100.5L678.1,98.8Z" fill="#d7d10a"/>
<path d="M678.5,98.7L689.6,100.4L700.8,102L699.4,104.9L688.2,103.3L677.2,101.6Z" fill="#dbd90f"/>
<path d="M677.5,101.5L688.6,103.2L699.8,104.8L698.3,107.8L687.1,106.2L676,104.5Z" fill="#e0e012"/>
<path d="M676.4,104.4L687.5,106L698.7,107.7L697.1,110.7L685.8,109.1L674.8,107.4Z" fill="#e6e613"/>
<path d="M675.2,107.3L686.2,109L697.5,110.6L695.6,113.8L684.4,112.1L673.3,110.4Z" fill="#ecec14"/>
<path d="M673.7,110.3L684.7,112L696,113.6L693.8,116.9L682.6,115.2L671.5,113.6Z" fill="#f2f216"/>
<path d="M671.9,113.5L683,115.1L694.2,116.8L691.6,120.1L680.4,118.5L669.2,116.9Z" fill="#f9f917"/>
<path d="M669.6,116.7L680.8,118.4L692,120L688.8,123.6L677.6,122L666.4,120.4Z" fill="#ffff1a"/>
<path d="M666.8,120.2L677.9,121.9L689.2,123.5L685.5,127.1L674.2,125.5L663,123.8Z" fill="#fcff23"/>
<path d="M663.4,123.7L674.6,125.4L685.9,127L681.8,130.3L670.5,128.7L659.3,127Z" fill="#edfd19"/>
<path d="M659.7,126.9L670.9,128.6L682.2,130.2L677.8,133.3L666.4,131.7L655.2,130Z" fill="#d1f618"/>
<path d="M655.6,129.9L666.8,131.5L678.2,133.1L673.4,136.1L662,134.5L650.7,132.8Z" fill="#b5ed16"/>
<path d="M651.1,132.7L662.4,134.4L673.8,135.9L668.5,138.7L657.1,137.2L645.8,135.5Z" fill="#97e013"/>
<path d="M646.2,135.4L657.5,137L668.9,138.6L663.1,141.3L651.7,139.8L640.4,138.2Z" fill="#7ed510"/>
<path d="M640.8,138L652.1,139.6L663.5,141.2L657.2,143.9L645.7,142.3L634.4,140.7Z" fill="#6acb0d"/>
<path d="M634.8,140.6L646.1,142.2L657.6,143.7L650.8,146.4L639.2,144.9L627.8,143.3Z" fill="#5bc30a"/>
<path d="M628.2,143.1L639.6,144.7L651.1,146.3L643.6,149L632,147.4L620.6,145.9Z" fill="#54c008"/>
<path d="M769.5,106.8L780.2,108.4L791.2,110.1L780.7,109.1L769.8,107.5L759,105.8Z" fill="#b2e400"/>
<path d="M759,105.8L769.8,107.5L780.7,109.1L773.5,105.6L762.4,104L751.6,102.3Z" fill="#dbde12"/>
<path d="M751.6,102.3L762.4,104L773.5,105.6L767.7,98.9L756.7,97.3L745.9,95.7Z" fill="#bebe11"/>
<path d="M745.9,95.7L756.7,97.3L767.7,98.9L764.1,90.6L753.1,89L742.2,87.4Z" fill="#9c9c0c"/>
<path d="M742.2,87.4L753.1,89L764.1,90.6L761,78.1L750,76.6L739.1,75Z" fill="#847900"/>
<path d="M739.1,75L750,76.6L761,78.1L759,64.8L747.9,63.2L737,61.6Z" fill="#805c00"/>
<path d="M737,61.6L747.9,63.2L759,64.8L756.7,39.7L745.6,38.2L734.7,36.6Z" fill="#803300"/>
<path d="M733.4,36.2L744.9,37.9L756.7,39.6L731.6,47.3L719.7,45.7L708,44Z" fill="#f00"/>
<path d="M709.2,44.2L720.5,45.8L732,47.3L731.4,50L719.9,48.5L708.6,46.9Z" fill="#dc3220"/>
<path d="M709,46.7L720.3,48.4L731.8,49.9L731.2,52.6L719.7,51L708.4,49.4Z" fill="#d23219"/>
<path d="M708.8,49.3L720.1,50.9L731.6,52.5L731,55.1L719.5,53.6L708.2,52Z" fill="#c73411"/>
<path d="M708.5,51.9L719.9,53.5L731.4,55L730.8,57.7L719.2,56.1L707.9,54.5Z" fill="#bd380a"/>
<path d="M708.3,54.4L719.6,56L731.2,57.6L730.5,60.3L719,58.7L707.7,57.1Z" fill="#b43d03"/>
<path d="M708.1,57L719.4,58.6L730.9,60.1L730.3,62.8L718.7,61.3L707.4,59.7Z" fill="#b04400"/>
<path d="M707.8,59.6L719.1,61.2L730.7,62.7L730,65.4L718.5,63.9L707.2,62.3Z" fill="#b14b00"/>
<path d="M707.5,62.1L718.9,63.7L730.4,65.3L729.7,68L718.2,66.4L706.9,64.8Z" fill="#b15400"/>
<path d="M707.3,64.7L718.6,66.3L730.1,67.9L729.4,70.6L717.9,69L706.6,67.4Z" fill="#b25c00"/>
<path d="M707,67.3L718.3,68.9L729.8,70.4L729.1,73.2L717.6,71.6L706.3,70Z" fill="#b36500"/>
<path d="M706.6,69.9L718,71.5L729.5,73L728.8,75.8L717.2,74.2L705.9,72.6Z" fill="#b46d00"/>
<path d="M706.3,72.5L717.6,74.1L729.2,75.6L728.4,78.4L716.9,76.8L705.6,75.2Z" fill="#b57500"/>
<path d="M705.9,75.1L717.3,76.7L728.8,78.2L728.1,81L716.5,79.4L705.2,77.8Z" fill="#b77e00"/>
<path d="M705.6,77.7L716.9,79.3L728.4,80.9L727.7,83.6L716.1,82.1L704.8,80.5Z" fill="#b88600"/>
<path d="M705.2,80.3L716.5,81.9L728,83.5L727.2,86.2L715.7,84.7L704.3,83.1Z" fill="#b98f00"/>
<path d="M704.7,83L716,84.6L727.6,86.1L726.7,88.9L715.2,87.3L703.8,85.7Z" fill="#bb9700"/>
<path d="M704.2,85.6L715.6,87.2L727.1,88.8L726.2,91.5L714.7,90L703.3,88.4Z" fill="#bd9e00"/>
<path d="M703.7,88.3L715.1,89.9L726.6,91.4L725.7,94.2L714.1,92.7L702.8,91.1Z" fill="#bfa600"/>
<path d="M703.2,91L714.5,92.6L726.1,94.1L725.1,96.9L713.5,95.4L702.1,93.8Z" fill="#c2af00"/>
<path d="M702.5,93.7L713.9,95.3L725.4,96.8L724.4,99.6L712.8,98.1L701.5,96.5Z" fill="#c5b701"/>
<path d="M701.9,96.4L713.2,98L724.8,99.5L723.6,102.4L712.1,100.8L700.7,99.3Z" fill="#c8be05"/>
<path d="M701.1,99.1L712.5,100.7L724,102.3L722.8,105.2L711.2,103.6L699.9,102Z" fill="#ccc60a"/>
<path d="M700.2,101.9L711.6,103.5L723.2,105L721.9,108L710.3,106.4L698.9,104.9Z" fill="#d0cf0f"/>
<path d="M699.3,104.7L710.7,106.3L722.3,107.9L720.8,110.8L709.2,109.3L697.8,107.7Z" fill="#d5d511"/>
<path d="M698.2,107.6L709.6,109.2L721.2,110.7L719.5,113.8L707.9,112.2L696.5,110.7Z" fill="#dbdb12"/>
<path d="M696.9,110.5L708.3,112.1L719.9,113.6L718.1,116.8L706.5,115.3L695.1,113.7Z" fill="#e2e213"/>
<path d="M695.5,113.6L706.9,115.1L718.5,116.7L716.3,119.9L704.7,118.4L693.3,116.8Z" fill="#e9e915"/>
<path d="M693.7,116.7L705.1,118.3L716.7,119.8L714.2,123.1L702.5,121.6L691.1,120.1Z" fill="#f1f116"/>
<path d="M691.5,120L702.9,121.5L714.6,123L711.4,126.6L699.8,125.1L688.3,123.6Z" fill="#f8f818"/>
<path d="M688.7,123.4L700.1,125L711.8,126.5L708.1,130.1L696.4,128.6L685,127Z" fill="#fafe15"/>
<path d="M685.4,126.9L696.8,128.5L708.5,130L704.5,133.3L692.8,131.8L681.3,130.2Z" fill="#ecfc0b"/>
<path d="M681.7,130.1L693.2,131.6L704.9,133.1L700.5,136.2L688.8,134.7L677.3,133.2Z" fill="#cff50d"/>
<path d="M677.7,133.1L689.2,134.6L700.9,136.1L696.2,139L684.4,137.5L672.8,136Z" fill="#b2ec0e"/>
<path d="M673.2,135.9L684.8,137.4L696.5,138.9L691.4,141.6L679.5,140.2L668,138.7Z" fill="#94df0d"/>
<path d="M668.3,138.5L679.9,140.1L691.7,141.5L686.1,144.2L674.2,142.8L662.6,141.3Z" fill="#7bd40b"/>
<path d="M663,141.1L674.6,142.7L686.4,144.1L680.2,146.7L668.4,145.3L656.7,143.8Z" fill="#68ca09"/>
<path d="M657.1,143.7L668.8,145.2L680.6,146.6L673.8,149.2L661.9,147.8L650.2,146.3Z" fill="#59c308"/>
<path d="M650.6,146.2L662.3,147.7L674.2,149.1L666.8,151.8L654.8,150.4L643.1,148.9Z" fill="#53c006"/>
<path d="M791.2,110.1L803.3,111.3L792.7,110.4L780.7,109.1Z" fill="#b4e600"/>
<path d="M780.7,109.1L792.7,110.4L785.3,106.9L773.5,105.6Z" fill="#e0e312"/>
<path d="M773.5,105.6L785.3,106.9L779.5,100.2L767.7,98.9Z" fill="#c5c512"/>
<path d="M767.7,98.9L779.5,100.2L775.8,91.9L764.1,90.6Z" fill="#a5a50d"/>
<path d="M764.1,90.6L775.8,91.9L772.7,79.5L761,78.1Z" fill="#8e8200"/>
<path d="M761,78.1L772.7,79.5L770.6,66.2L759,64.8Z" fill="#805d00"/>
<path d="M759,64.8L770.6,66.2L768.3,41.1L756.7,39.7Z" fill="#803300"/>
<path d="M755.3,39.4L768.3,41L743.1,48.7L730.3,47.1Z" fill="#f00"/>
<path d="M731.5,47.3L743.5,48.8L742.9,51.4L730.9,49.9Z" fill="#d83120"/>
<path d="M731.3,49.8L743.3,51.3L742.7,54L730.7,52.5Z" fill="#cc3119"/>
<path d="M731.1,52.4L743.1,53.9L742.5,56.6L730.5,55.1Z" fill="#c03211"/>
<path d="M730.8,54.9L742.9,56.4L742.3,59.1L730.2,57.6Z" fill="#b4350a"/>
<path d="M730.6,57.5L742.7,59L742,61.7L730,60.2Z" fill="#a93903"/>
<path d="M730.4,60.1L742.4,61.6L741.8,64.3L729.7,62.8Z" fill="#a54000"/>
<path d="M730.1,62.6L742.2,64.1L741.5,66.8L729.5,65.3Z" fill="#a54700"/>
<path d="M729.9,65.2L741.9,66.7L741.2,69.4L729.2,67.9Z" fill="#a64e00"/>
<path d="M729.6,67.8L741.6,69.3L740.9,72L728.9,70.5Z" fill="#a75600"/>
<path d="M729.3,70.4L741.3,71.9L740.6,74.6L728.6,73.1Z" fill="#a85e00"/>
<path d="M729,73L741,74.5L740.3,77.2L728.2,75.7Z" fill="#a96700"/>
<path d="M728.6,75.6L740.7,77.1L740,79.8L727.9,78.3Z" fill="#aa6e00"/>
<path d="M728.3,78.2L740.3,79.7L739.6,82.4L727.5,80.9Z" fill="#ab7600"/>
<path d="M727.9,80.8L740,82.3L739.2,85L727.1,83.5Z" fill="#ad7e00"/>
<path d="M727.5,83.4L739.6,84.9L738.7,87.7L726.7,86.2Z" fill="#ae8600"/>
<path d="M727.1,86L739.1,87.5L738.3,90.3L726.2,88.8Z" fill="#b08e00"/>
<path d="M726.6,88.7L738.6,90.2L737.8,93L725.7,91.5Z" fill="#b29500"/>
<path d="M726.1,91.3L738.1,92.8L737.2,95.6L725.1,94.1Z" fill="#b49d00"/>
<path d="M725.5,94L737.6,95.5L736.6,98.3L724.5,96.8Z" fill="#b7a500"/>
<path d="M724.9,96.7L737,98.2L735.9,101.1L723.8,99.6Z" fill="#baad01"/>
<path d="M724.2,99.4L736.3,100.9L735.2,103.8L723.1,102.3Z" fill="#bdb405"/>
<path d="M723.5,102.2L735.6,103.7L734.4,106.6L722.3,105.1Z" fill="#c1bb09"/>
<path d="M722.6,105L734.7,106.5L733.4,109.4L721.3,107.9Z" fill="#c5c40e"/>
<path d="M721.7,107.8L733.8,109.3L732.4,112.2L720.2,110.8Z" fill="#caca10"/>
<path d="M720.6,110.6L732.7,112.1L731.1,115.2L719,113.7Z" fill="#d0d011"/>
<path d="M719.4,113.6L731.5,115.1L729.7,118.2L717.5,116.7Z" fill="#d7d713"/>
<path d="M717.9,116.6L730,118.1L727.9,121.3L715.8,119.8Z" fill="#dfdf14"/>
<path d="M716.2,119.7L728.3,121.2L725.8,124.6L713.6,123.1Z" fill="#e8e815"/>
<path d="M714,123L726.1,124.4L723,128L710.9,126.6Z" fill="#f0f017"/>
<path d="M711.3,126.4L723.4,127.9L719.8,131.5L707.6,130Z" fill="#f4f715"/>
<path d="M708,129.9L720.1,131.4L716.2,134.6L704,133.2Z" fill="#e9fa03"/>
<path d="M704.3,133.1L716.5,134.5L712.2,137.6L700,136.1Z" fill="#cdf502"/>
<path d="M700.4,136L712.6,137.5L707.9,140.4L695.6,138.9Z" fill="#afec06"/>
<path d="M696,138.8L708.2,140.2L703.1,143L690.8,141.6Z" fill="#91de07"/>
<path d="M691.2,141.5L703.5,142.9L697.8,145.6L685.5,144.1Z" fill="#79d407"/>
<path d="M685.9,144L698.2,145.4L692,148.1L679.7,146.7Z" fill="#66ca06"/>
<path d="M680.1,146.5L692.4,147.9L685.7,150.6L673.3,149.2Z" fill="#57c205"/>
<path d="M673.7,149L686.1,150.4L678.7,153.1L666.2,151.7Z" fill="#52bf04"/>
<path d="M803.3,111.3L816.5,112.2L805.6,111.4L792.7,110.4Z" fill="#b5e800"/>
<path d="M792.7,110.4L805.6,111.4L798,108L785.3,106.9Z" fill="#e4e712"/>
<path d="M785.3,106.9L798,108L792,101.3L779.5,100.2Z" fill="#cbcb12"/>
<path d="M779.5,100.2L792,101.3L788.2,93.1L775.8,91.9Z" fill="#acac0e"/>
<path d="M775.8,91.9L788.2,93.1L785,80.7L772.7,79.5Z" fill="#978a00"/>
<path d="M772.7,79.5L785,80.7L782.8,67.4L770.6,66.2Z" fill="#896400"/>
<path d="M770.6,66.2L782.8,67.4L780.4,42.4L768.3,41.1Z" fill="#803300"/>
<path d="M766.9,40.8L780.4,42.2L754.9,50.1L741.7,48.6Z" fill="#f00"/>
<path d="M742.9,48.7L755.3,50.1L754.7,52.8L742.4,51.4Z" fill="#d43120"/>
<path d="M742.7,51.3L755.1,52.7L754.5,55.3L742.2,53.9Z" fill="#c63019"/>
<path d="M742.5,53.8L754.9,55.2L754.3,57.9L741.9,56.5Z" fill="#b93011"/>
<path d="M742.3,56.4L754.7,57.8L754,60.5L741.7,59.1Z" fill="#ac320a"/>
<path d="M742.1,58.9L754.4,60.3L753.8,63L741.5,61.6Z" fill="#a03603"/>
<path d="M741.9,61.5L754.2,62.9L753.6,65.6L741.2,64.2Z" fill="#9b3c00"/>
<path d="M741.6,64.1L753.9,65.5L753.3,68.2L741,66.8Z" fill="#9c4200"/>
<path d="M741.3,66.6L753.7,68.1L753,70.8L740.7,69.3Z" fill="#9c4a00"/>
<path d="M741.1,69.2L753.4,70.6L752.7,73.3L740.4,71.9Z" fill="#9d5100"/>
<path d="M740.8,71.8L753.1,73.2L752.4,75.9L740.1,74.5Z" fill="#9e5900"/>
<path d="M740.5,74.4L752.8,75.8L752.1,78.5L739.7,77.1Z" fill="#9f6100"/>
<path d="M740.1,77L752.5,78.4L751.7,81.1L739.4,79.7Z" fill="#a06800"/>
<path d="M739.8,79.6L752.1,81L751.4,83.7L739,82.3Z" fill="#a16f00"/>
<path d="M739.4,82.2L751.7,83.6L751,86.4L738.6,85Z" fill="#a37700"/>
<path d="M739,84.8L751.3,86.2L750.5,89L738.2,87.6Z" fill="#a47e00"/>
<path d="M738.6,87.5L750.9,88.9L750.1,91.6L737.7,90.2Z" fill="#a68600"/>
<path d="M738.1,90.1L750.4,91.5L749.5,94.3L737.2,92.9Z" fill="#a88d00"/>
<path d="M737.6,92.8L749.9,94.2L749,97L736.6,95.6Z" fill="#aa9400"/>
<path d="M737,95.5L749.4,96.9L748.4,99.7L736,98.3Z" fill="#ad9c00"/>
<path d="M736.4,98.1L748.8,99.6L747.7,102.4L735.4,101Z" fill="#b0a401"/>
<path d="M735.8,100.9L748.1,102.3L747,105.1L734.6,103.7Z" fill="#b3aa05"/>
<path d="M735,103.6L747.4,105L746.2,107.9L733.8,106.5Z" fill="#b7b209"/>
<path d="M734.2,106.4L746.5,107.8L745.2,110.7L732.9,109.3Z" fill="#bbba0d"/>
<path d="M733.2,109.2L745.6,110.6L744.1,113.6L731.8,112.2Z" fill="#c1c10f"/>
<path d="M732.2,112.1L744.5,113.5L742.9,116.5L730.6,115.1Z" fill="#c7c711"/>
<path d="M730.9,115L743.3,116.4L741.5,119.5L729.1,118.1Z" fill="#cece12"/>
<path d="M729.5,118L741.8,119.4L739.7,122.6L727.4,121.2Z" fill="#d6d613"/>
<path d="M727.7,121.1L740.1,122.5L737.6,125.9L725.2,124.5Z" fill="#e0e015"/>
<path d="M725.6,124.4L738,125.8L734.9,129.4L722.5,128Z" fill="#e9e916"/>
<path d="M722.9,127.8L735.2,129.2L731.6,132.8L719.2,131.4Z" fill="#eef114"/>
<path d="M719.6,131.3L732,132.7L728,136L715.6,134.6Z" fill="#e5f603"/>
<path d="M716,134.5L728.4,135.8L724.1,138.9L711.7,137.5Z" fill="#caf200"/>
<path d="M712,137.4L724.4,138.8L719.7,141.7L707.3,140.3Z" fill="#adea00"/>
<path d="M707.7,140.2L720.1,141.6L714.9,144.3L702.5,142.9Z" fill="#8ede01"/>
<path d="M702.9,142.8L715.3,144.2L709.7,146.9L697.3,145.5Z" fill="#76d302"/>
<path d="M697.6,145.4L710.1,146.8L703.9,149.4L691.5,148Z" fill="#63c902"/>
<path d="M691.9,147.9L704.3,149.3L697.6,151.9L685.1,150.5Z" fill="#55c202"/>
<path d="M685.5,150.4L698,151.7L690.6,154.4L678.1,153Z" fill="#50bf02"/>
<path d="M816.5,112.2L824.7,112.7L813.6,111.9L805.6,111.4Z" fill="#b7ea00"/>
<path d="M805.6,111.4L813.6,111.9L805.8,108.5L798,108Z" fill="#e8eb13"/>
<path d="M798,108L805.8,108.5L799.7,102L792,101.3Z" fill="#d1d113"/>
<path d="M792,101.3L799.7,102L795.8,93.7L788.2,93.1Z" fill="#b4b40e"/>
<path d="M788.2,93.1L795.8,93.7L792.6,81.4L785,80.7Z" fill="#a09200"/>
<path d="M785,80.7L792.6,81.4L790.4,68L782.8,67.4Z" fill="#936a00"/>
<path d="M782.8,67.4L790.4,68L787.9,43L780.4,42.4Z" fill="#8a3700"/>
<path d="M778.9,42.1L787.9,42.9L762.2,50.8L753.5,49.9Z" fill="#f00"/>
<path d="M754.7,50.1L762.5,50.9L762,53.5L754.1,52.7Z" fill="#d03020"/>
<path d="M754.5,52.6L762.4,53.4L761.8,56.1L753.9,55.3Z" fill="#c12f19"/>
<path d="M754.3,55.2L762.1,56L761.5,58.6L753.7,57.8Z" fill="#b32e11"/>
<path d="M754.1,57.7L761.9,58.5L761.3,61.2L753.5,60.4Z" fill="#a4300a"/>
<path d="M753.9,60.3L761.7,61.1L761.1,63.8L753.2,63Z" fill="#963303"/>
<path d="M753.6,62.9L761.5,63.7L760.8,66.3L753,65.5Z" fill="#913800"/>
<path d="M753.4,65.4L761.2,66.2L760.6,68.9L752.7,68.1Z" fill="#913e00"/>
<path d="M753.1,68L761,68.8L760.3,71.5L752.4,70.7Z" fill="#924500"/>
<path d="M752.8,70.6L760.7,71.4L760,74.1L752.2,73.3Z" fill="#934c00"/>
<path d="M752.5,73.2L760.4,74L759.7,76.7L751.8,75.9Z" fill="#945300"/>
<path d="M752.2,75.7L760.1,76.6L759.4,79.3L751.5,78.5Z" fill="#955a00"/>
<path d="M751.9,78.3L759.7,79.2L759,81.9L751.2,81.1Z" fill="#966100"/>
<path d="M751.5,81L759.4,81.8L758.6,84.5L750.8,83.7Z" fill="#976800"/>
<path d="M751.2,83.6L759,84.4L758.2,87.1L750.4,86.3Z" fill="#996f00"/>
<path d="M750.8,86.2L758.6,87L757.8,89.7L749.9,88.9Z" fill="#9a7700"/>
<path d="M750.3,88.8L758.2,89.6L757.3,92.4L749.5,91.6Z" fill="#9c7d00"/>
<path d="M749.9,91.5L757.7,92.3L756.8,95L749,94.2Z" fill="#9e8400"/>
<path d="M749.4,94.1L757.2,94.9L756.3,97.7L748.4,96.9Z" fill="#a08b00"/>
<path d="M748.8,96.8L756.7,97.6L755.7,100.4L747.8,99.6Z" fill="#a29300"/>
<path d="M748.2,99.5L756,100.3L755,103.1L747.1,102.3Z" fill="#a59a01"/>
<path d="M747.5,102.2L755.4,103L754.3,105.9L746.4,105.1Z" fill="#a9a105"/>
<path d="M746.8,105L754.6,105.8L753.4,108.7L745.6,107.8Z" fill="#ada808"/>
<path d="M746,107.7L753.8,108.5L752.5,111.5L744.6,110.7Z" fill="#b1b00c"/>
<path d="M745,110.5L752.9,111.3L751.4,114.3L743.6,113.5Z" fill="#b7b70f"/>
<path d="M744,113.4L751.8,114.2L750.2,117.3L742.3,116.5Z" fill="#bdbd10"/>
<path d="M742.7,116.3L750.6,117.1L748.8,120.3L740.9,119.5Z" fill="#c5c511"/>
<path d="M741.3,119.3L749.1,120.1L747,123.4L739.1,122.6Z" fill="#cece12"/>
<path d="M739.5,122.4L747.4,123.2L744.9,126.6L737,125.8Z" fill="#d7d714"/>
<path d="M737.4,125.7L745.3,126.5L742.1,130.1L734.3,129.3Z" fill="#e2e216"/>
<path d="M734.7,129.2L742.5,130L738.9,133.5L731,132.7Z" fill="#e8eb14"/>
<path d="M731.4,132.6L739.3,133.4L735.3,136.7L727.4,135.9Z" fill="#e0f103"/>
<path d="M727.8,135.8L735.7,136.6L731.4,139.6L723.5,138.8Z" fill="#c7ee00"/>
<path d="M723.9,138.7L731.7,139.5L727,142.4L719.1,141.6Z" fill="#abe800"/>
<path d="M719.5,141.5L727.4,142.3L722.3,145.1L714.4,144.3Z" fill="#8ddc00"/>
<path d="M714.7,144.2L722.7,144.9L717,147.6L709.1,146.8Z" fill="#75d200"/>
<path d="M709.5,146.7L717.4,147.5L711.3,150.1L703.3,149.3Z" fill="#62c800"/>
<path d="M703.7,149.2L711.6,150L704.9,152.6L697,151.8Z" fill="#54c100"/>
<path d="M697.4,151.7L705.3,152.5L698,155.1L690,154.3Z" fill="#4fbe00"/>
<path d="M824.7,112.7L828.5,112.9L817.3,112.1L813.6,111.9Z" fill="#b8ec00"/>
<path d="M813.6,111.9L817.3,112.1L809.5,108.8L805.8,108.5Z" fill="#ebee13"/>
<path d="M805.8,108.5L809.5,108.8L803.4,102.2L799.7,102Z" fill="#d6d613"/>
<path d="M799.7,102L803.4,102.2L799.5,94L795.8,93.7Z" fill="#baba0f"/>
<path d="M795.8,93.7L799.5,94L796.2,81.7L792.6,81.4Z" fill="#a69800"/>
<path d="M792.6,81.4L796.2,81.7L794,68.3L790.4,68Z" fill="#996f00"/>
<path d="M790.4,68L794,68.3L791.5,43.3L787.9,43Z" fill="#903a00"/>
<path d="M786.4,42.7L791.5,43.2L765.6,51.1L760.7,50.7Z" fill="#f00"/>
<path d="M762,50.8L766,51.2L765.4,53.9L761.4,53.5Z" fill="#cd2f20"/>
<path d="M761.8,53.4L765.8,53.7L765.2,56.4L761.2,56Z" fill="#be2e19"/>
<path d="M761.6,55.9L765.6,56.3L765,59L761,58.6Z" fill="#ae2d11"/>
<path d="M761.3,58.5L765.4,58.9L764.8,61.5L760.7,61.2Z" fill="#9f2e0a"/>
<path d="M761.1,61L765.2,61.4L764.5,64.1L760.5,63.7Z" fill="#903103"/>
<path d="M760.9,63.6L764.9,64L764.3,66.7L760.2,66.3Z" fill="#8a3500"/>
<path d="M760.6,66.2L764.7,66.6L764,69.2L760,68.9Z" fill="#8b3b00"/>
<path d="M760.4,68.7L764.4,69.1L763.8,71.8L759.7,71.4Z" fill="#8b4200"/>
<path d="M760.1,71.3L764.1,71.7L763.5,74.4L759.4,74Z" fill="#8c4900"/>
<path d="M759.8,73.9L763.8,74.3L763.2,77L759.1,76.6Z" fill="#8d4f00"/>
<path d="M759.5,76.5L763.5,76.9L762.8,79.6L758.8,79.2Z" fill="#8e5600"/>
<path d="M759.2,79.1L763.2,79.5L762.5,82.2L758.4,81.8Z" fill="#8f5d00"/>
<path d="M758.8,81.7L762.8,82.1L762.1,84.8L758,84.4Z" fill="#906300"/>
<path d="M758.4,84.3L762.5,84.7L761.7,87.4L757.6,87.1Z" fill="#926a00"/>
<path d="M758,86.9L762.1,87.3L761.3,90.1L757.2,89.7Z" fill="#937100"/>
<path d="M757.6,89.6L761.6,89.9L760.8,92.7L756.7,92.3Z" fill="#957800"/>
<path d="M757.1,92.2L761.2,92.6L760.3,95.4L756.2,95Z" fill="#977e00"/>
<path d="M756.6,94.9L760.7,95.3L759.7,98L755.7,97.7Z" fill="#998500"/>
<path d="M756.1,97.5L760.1,97.9L759.1,100.7L755.1,100.4Z" fill="#9c8c00"/>
<path d="M755.5,100.2L759.5,100.6L758.5,103.5L754.4,103.1Z" fill="#9f9401"/>
<path d="M754.8,103L758.8,103.3L757.7,106.2L753.7,105.8Z" fill="#a29a04"/>
<path d="M754.1,105.7L758.1,106.1L756.9,109L752.8,108.6Z" fill="#a6a108"/>
<path d="M753.2,108.5L757.3,108.9L756,111.8L751.9,111.4Z" fill="#aba90c"/>
<path d="M752.3,111.3L756.3,111.7L754.9,114.7L750.8,114.3Z" fill="#b0b00e"/>
<path d="M751.2,114.2L755.3,114.5L753.7,117.6L749.6,117.2Z" fill="#b7b70f"/>
<path d="M750,117.1L754,117.5L752.2,120.6L748.2,120.2Z" fill="#bebe10"/>
<path d="M748.5,120.1L752.6,120.5L750.5,123.7L746.4,123.3Z" fill="#c7c712"/>
<path d="M746.8,123.2L750.9,123.6L748.3,126.9L744.3,126.6Z" fill="#d2d213"/>
<path d="M744.7,126.4L748.7,126.8L745.6,130.4L741.6,130Z" fill="#dddd15"/>
<path d="M741.9,129.9L746,130.3L742.4,133.9L738.3,133.5Z" fill="#e4e713"/>
<path d="M738.7,133.4L742.7,133.7L738.8,137L734.7,136.6Z" fill="#dded03"/>
<path d="M735.1,136.5L739.2,136.9L734.8,140L730.8,139.6Z" fill="#c5ec00"/>
<path d="M731.2,139.5L735.2,139.8L730.5,142.7L726.4,142.4Z" fill="#aae600"/>
<path d="M726.8,142.2L730.9,142.6L725.8,145.4L721.7,145Z" fill="#8cdb00"/>
<path d="M722.1,144.9L726.1,145.3L720.5,147.9L716.4,147.6Z" fill="#74d100"/>
<path d="M716.8,147.4L720.9,147.8L714.8,150.4L710.7,150Z" fill="#62c700"/>
<path d="M711.1,149.9L715.1,150.3L708.4,152.9L704.3,152.5Z" fill="#54c000"/>
<path d="M704.7,152.4L708.8,152.8L701.5,155.4L697.4,155Z" fill="#4fbe00"/>
<path d="M828.5,112.9L831.9,113L820.6,112.3L817.3,112.1Z" fill="#b9ed00"/>
<path d="M817.3,112.1L820.6,112.3L812.7,109L809.5,108.8Z" fill="#edf013"/>
<path d="M809.5,108.8L812.7,109L806.5,102.4L803.4,102.2Z" fill="#d9d914"/>
<path d="M803.4,102.2L806.5,102.4L802.6,94.2L799.5,94Z" fill="#bdbd0f"/>
<path d="M799.5,94L802.6,94.2L799.3,81.9L796.2,81.7Z" fill="#aa9b00"/>
<path d="M796.2,81.7L799.3,81.9L797.1,68.6L794,68.3Z" fill="#9d7200"/>
<path d="M794,68.3L797.1,68.6L794.6,43.6L791.5,43.3Z" fill="#8b3400"/>
<path d="M789.9,43L794.6,43.4L768.6,51.4L764.1,51Z" fill="#f00"/>
<path d="M765.4,51.1L769,51.5L768.4,54.1L764.8,53.8Z" fill="#be2a1a"/>
<path d="M765.2,53.7L768.8,54L768.2,56.7L764.6,56.4Z" fill="#b02814"/>
<path d="M765,56.2L768.6,56.6L768,59.2L764.4,58.9Z" fill="#a2280e"/>
<path d="M764.8,58.8L768.4,59.1L767.8,61.8L764.2,61.5Z" fill="#942808"/>
<path d="M764.6,61.4L768.2,61.7L767.5,64.4L763.9,64Z" fill="#862a02"/>
<path d="M764.3,63.9L767.9,64.3L767.3,66.9L763.7,66.6Z" fill="#802e00"/>
<path d="M764.1,66.5L767.7,66.8L767,69.5L763.4,69.2Z" fill="#803300"/>
<path d="M763.8,69.1L767.4,69.4L766.8,72.1L763.2,71.8Z" fill="#803900"/>
<path d="M763.5,71.7L767.1,72L766.5,74.7L762.9,74.4Z" fill="#803f00"/>
<path d="M763.2,74.2L766.8,74.6L766.2,77.3L762.6,76.9Z" fill="#814500"/>
<path d="M762.9,76.8L766.5,77.1L765.8,79.9L762.2,79.5Z" fill="#814c00"/>
<path d="M762.6,79.4L766.2,79.7L765.5,82.5L761.9,82.1Z" fill="#845300"/>
<path d="M762.3,82L765.9,82.3L765.1,85.1L761.5,84.8Z" fill="#895e00"/>
<path d="M761.9,84.6L765.5,85L764.7,87.7L761.1,87.4Z" fill="#8d6700"/>
<path d="M761.5,87.3L765.1,87.6L764.3,90.3L760.7,90Z" fill="#8f6e00"/>
<path d="M761,89.9L764.6,90.2L763.8,93L760.2,92.7Z" fill="#907400"/>
<path d="M760.6,92.5L764.2,92.9L763.3,95.6L759.7,95.3Z" fill="#927a00"/>
<path d="M760.1,95.2L763.7,95.5L762.7,98.3L759.1,98Z" fill="#948100"/>
<path d="M759.5,97.9L763.1,98.2L762.1,101L758.5,100.7Z" fill="#978800"/>
<path d="M758.9,100.6L762.5,100.9L761.5,103.7L757.9,103.4Z" fill="#9a8f01"/>
<path d="M758.2,103.3L761.9,103.6L760.7,106.5L757.1,106.1Z" fill="#9d9604"/>
<path d="M757.5,106L761.1,106.4L759.9,109.2L756.3,108.9Z" fill="#a19d08"/>
<path d="M756.7,108.8L760.3,109.1L759,112.1L755.4,111.7Z" fill="#a6a50c"/>
<path d="M755.7,111.6L759.4,111.9L757.9,114.9L754.3,114.6Z" fill="#acac0e"/>
<path d="M754.7,114.5L758.3,114.8L756.7,117.8L753.1,117.5Z" fill="#b2b20f"/>
<path d="M753.5,117.4L757.1,117.7L755.2,120.8L751.6,120.5Z" fill="#baba10"/>
<path d="M752,120.4L755.6,120.7L753.5,124L749.9,123.6Z" fill="#c3c311"/>
<path d="M750.3,123.5L753.9,123.8L751.4,127.2L747.7,126.9Z" fill="#cece13"/>
<path d="M748.1,126.8L751.7,127.1L748.6,130.7L745,130.4Z" fill="#d9d915"/>
<path d="M745.4,130.2L749,130.6L745.4,134.1L741.8,133.8Z" fill="#e1e413"/>
<path d="M742.1,133.7L745.8,134L741.8,137.3L738.2,137Z" fill="#dbeb03"/>
<path d="M738.6,136.8L742.2,137.2L737.9,140.2L734.2,139.9Z" fill="#c3ea00"/>
<path d="M734.6,139.8L738.2,140.1L733.5,143L729.9,142.7Z" fill="#a9e500"/>
<path d="M730.3,142.6L733.9,142.9L728.8,145.6L725.2,145.3Z" fill="#8cda00"/>
<path d="M725.5,145.2L729.2,145.5L723.5,148.2L719.9,147.9Z" fill="#74d000"/>
<path d="M720.3,147.8L723.9,148.1L717.8,150.7L714.2,150.4Z" fill="#61c700"/>
<path d="M714.5,150.2L718.2,150.6L711.5,153.2L707.8,152.8Z" fill="#54c000"/>
<path d="M708.2,152.7L711.8,153L704.5,155.7L700.9,155.4Z" fill="#4fbe00"/>
<path d="M831.9,113L835.3,113.2L823.9,112.5L820.6,112.3Z" fill="#baee00"/>
<path d="M820.6,112.3L823.9,112.5L816,109.2L812.7,109Z" fill="#eff213"/>
<path d="M812.7,109L816,109.2L809.8,102.6L806.5,102.4Z" fill="#dcdc14"/>
<path d="M806.5,102.4L809.8,102.6L805.8,94.4L802.6,94.2Z" fill="#c1c10f"/>
<path d="M802.6,94.2L805.8,94.4L802.4,82.1L799.3,81.9Z" fill="#ae9f00"/>
<path d="M799.3,81.9L802.4,82.1L800.2,68.8L797.1,68.6Z" fill="#946a00"/>
<path d="M797.1,68.6L800.2,68.8L797.7,43.8L794.6,43.6Z" fill="#852d00"/>
<path d="M793,43.3L797.7,43.6L771.7,51.7L767.1,51.3Z" fill="#f00"/>
<path d="M768.4,51.4L772.1,51.7L771.5,54.4L767.8,54.1Z" fill="#af2313"/>
<path d="M768.2,54L771.9,54.3L771.3,56.9L767.6,56.6Z" fill="#a4230f"/>
<path d="M768,56.5L771.7,56.8L771.1,59.5L767.4,59.2Z" fill="#9a230b"/>
<path d="M767.8,59.1L771.4,59.4L770.8,62.1L767.2,61.8Z" fill="#902406"/>
<path d="M767.6,61.6L771.2,61.9L770.6,64.6L766.9,64.3Z" fill="#852502"/>
<path d="M767.3,64.2L771,64.5L770.3,67.2L766.7,66.9Z" fill="#812900"/>
<path d="M767.1,66.8L770.7,67.1L770.1,69.8L766.4,69.5Z" fill="#812f00"/>
<path d="M766.8,69.3L770.5,69.7L769.8,72.3L766.2,72Z" fill="#803500"/>
<path d="M766.5,71.9L770.2,72.2L769.5,74.9L765.9,74.6Z" fill="#803b00"/>
<path d="M766.2,74.5L769.9,74.8L769.2,77.5L765.6,77.2Z" fill="#804200"/>
<path d="M765.9,77.1L769.6,77.4L768.9,80.1L765.2,79.8Z" fill="#804800"/>
<path d="M765.6,79.7L769.3,80L768.5,82.7L764.9,82.4Z" fill="#804e00"/>
<path d="M765.3,82.3L768.9,82.6L768.1,85.3L764.5,85Z" fill="#805400"/>
<path d="M764.9,84.9L768.5,85.2L767.7,88L764.1,87.6Z" fill="#805c00"/>
<path d="M764.5,87.5L768.1,87.8L767.3,90.6L763.7,90.3Z" fill="#866600"/>
<path d="M764,90.2L767.7,90.5L766.8,93.2L763.2,92.9Z" fill="#8c7000"/>
<path d="M763.6,92.8L767.2,93.1L766.3,95.9L762.7,95.6Z" fill="#8e7700"/>
<path d="M763.1,95.5L766.7,95.8L765.8,98.6L762.1,98.3Z" fill="#907d00"/>
<path d="M762.5,98.1L766.2,98.5L765.2,101.3L761.5,101Z" fill="#928400"/>
<path d="M761.9,100.8L765.6,101.1L764.5,104L760.9,103.7Z" fill="#958b01"/>
<path d="M761.2,103.6L764.9,103.9L763.8,106.7L760.1,106.4Z" fill="#999104"/>
<path d="M760.5,106.3L764.2,106.6L763,109.5L759.3,109.2Z" fill="#9d9808"/>
<path d="M759.7,109.1L763.3,109.4L762,112.3L758.4,112Z" fill="#a1a00b"/>
<path d="M758.8,111.9L762.4,112.2L761,115.2L757.3,114.9Z" fill="#a7a70d"/>
<path d="M757.7,114.7L761.3,115.1L759.7,118.1L756.1,117.8Z" fill="#aeae0e"/>
<path d="M756.5,117.7L760.1,118L758.3,121.1L754.6,120.8Z" fill="#b6b610"/>
<path d="M755,120.7L758.7,121L756.5,124.2L752.9,123.9Z" fill="#bfbf11"/>
<path d="M753.3,123.8L756.9,124.1L754.4,127.5L750.7,127.2Z" fill="#caca13"/>
<path d="M751.1,127L754.8,127.3L751.7,130.9L748,130.6Z" fill="#d6d614"/>
<path d="M748.4,130.5L752.1,130.8L748.4,134.4L744.8,134.1Z" fill="#dfe113"/>
<path d="M745.2,134L748.8,134.3L744.9,137.5L741.2,137.2Z" fill="#d9e903"/>
<path d="M741.6,137.1L745.2,137.4L740.9,140.5L737.3,140.2Z" fill="#c2e800"/>
<path d="M737.6,140.1L741.3,140.4L736.6,143.2L732.9,142.9Z" fill="#a8e300"/>
<path d="M733.3,142.8L737,143.1L731.8,145.9L728.2,145.6Z" fill="#8bd900"/>
<path d="M728.6,145.5L732.2,145.8L726.6,148.4L722.9,148.1Z" fill="#73cf00"/>
<path d="M723.3,148L727,148.3L720.9,150.9L717.2,150.6Z" fill="#61c700"/>
<path d="M717.6,150.5L721.2,150.8L714.5,153.4L710.9,153.1Z" fill="#53c000"/>
<path d="M711.2,153L714.9,153.3L707.6,155.9L703.9,155.6Z" fill="#4fbd00"/>
<path d="M835.3,113.2L838.7,113.3L827.3,112.6L823.9,112.5Z" fill="#bbf000"/>
<path d="M823.9,112.5L827.3,112.6L819.3,109.4L816,109.2Z" fill="#f1f514"/>
<path d="M816,109.2L819.3,109.4L813,102.8L809.8,102.6Z" fill="#dfdf14"/>
<path d="M809.8,102.6L813,102.8L809,94.6L805.8,94.4Z" fill="#c5c510"/>
<path d="M805.8,94.4L809,94.6L805.7,82.3L802.4,82.1Z" fill="#b2a300"/>
<path d="M802.4,82.1L805.7,82.3L803.4,69L800.2,68.8Z" fill="#8b6000"/>
<path d="M800.2,68.8L803.4,69L800.9,44L797.7,43.8Z" fill="#812700"/>
<path d="M796.1,43.5L800.9,43.9L774.8,51.9L770.1,51.5Z" fill="#f00"/>
<path d="M771.4,51.7L775.1,52L774.6,54.6L770.9,54.3Z" fill="#a01b0c"/>
<path d="M771.2,54.2L775,54.5L774.4,57.2L770.7,56.9Z" fill="#991c0a"/>
<path d="M771,56.8L774.7,57.1L774.1,59.7L770.4,59.4Z" fill="#921e07"/>
<path d="M770.8,59.3L774.5,59.6L773.9,62.3L770.2,62Z" fill="#8b1f04"/>
<path d="M770.6,61.9L774.3,62.2L773.7,64.9L770,64.6Z" fill="#842101"/>
<path d="M770.4,64.5L774.1,64.7L773.4,67.4L769.7,67.1Z" fill="#812500"/>
<path d="M770.1,67L773.8,67.3L773.2,70L769.5,69.7Z" fill="#812b00"/>
<path d="M769.8,69.6L773.6,69.9L772.9,72.6L769.2,72.3Z" fill="#813100"/>
<path d="M769.6,72.2L773.3,72.5L772.6,75.2L768.9,74.9Z" fill="#813800"/>
<path d="M769.3,74.8L773,75.1L772.3,77.8L768.6,77.5Z" fill="#813e00"/>
<path d="M769,77.4L772.7,77.6L772,80.4L768.3,80.1Z" fill="#814400"/>
<path d="M768.6,79.9L772.3,80.2L771.6,83L767.9,82.7Z" fill="#804b00"/>
<path d="M768.3,82.6L772,82.8L771.2,85.6L767.5,85.3Z" fill="#805200"/>
<path d="M767.9,85.2L771.6,85.5L770.8,88.2L767.1,87.9Z" fill="#7f5800"/>
<path d="M767.5,87.8L771.2,88.1L770.4,90.8L766.7,90.5Z" fill="#7f5f00"/>
<path d="M767.1,90.4L770.8,90.7L769.9,93.5L766.2,93.2Z" fill="#7f6500"/>
<path d="M766.6,93.1L770.3,93.4L769.4,96.1L765.7,95.8Z" fill="#836d00"/>
<path d="M766.1,95.7L769.8,96L768.9,98.8L765.2,98.5Z" fill="#8b7900"/>
<path d="M765.6,98.4L769.3,98.7L768.3,101.5L764.6,101.2Z" fill="#8d7f00"/>
<path d="M765,101.1L768.7,101.4L767.6,104.2L763.9,103.9Z" fill="#908601"/>
<path d="M764.3,103.8L768,104.1L766.9,107L763.2,106.7Z" fill="#938c04"/>
<path d="M763.6,106.6L767.3,106.8L766.1,109.7L762.3,109.4Z" fill="#979307"/>
<path d="M762.7,109.3L766.4,109.6L765.1,112.6L761.4,112.3Z" fill="#9c9b0b"/>
<path d="M761.8,112.1L765.5,112.4L764.1,115.4L760.3,115.1Z" fill="#a2a20d"/>
<path d="M760.7,115L764.4,115.3L762.8,118.3L759.1,118Z" fill="#a9a90e"/>
<path d="M759.5,117.9L763.2,118.2L761.4,121.3L757.7,121Z" fill="#b1b10f"/>
<path d="M758,120.9L761.8,121.2L759.6,124.4L755.9,124.2Z" fill="#baba11"/>
<path d="M756.3,124L760,124.3L757.5,127.7L753.8,127.4Z" fill="#c5c512"/>
<path d="M754.2,127.3L757.9,127.6L754.8,131.2L751.1,130.9Z" fill="#d2d214"/>
<path d="M751.5,130.8L755.2,131.1L751.5,134.6L747.8,134.3Z" fill="#dbde12"/>
<path d="M748.2,134.2L751.9,134.5L748,137.8L744.2,137.5Z" fill="#d6e603"/>
<path d="M744.6,137.4L748.3,137.7L744,140.7L740.3,140.4Z" fill="#c0e600"/>
<path d="M740.7,140.3L744.4,140.6L739.7,143.5L736,143.2Z" fill="#a7e200"/>
<path d="M736.4,143.1L740.1,143.4L735,146.1L731.2,145.8Z" fill="#8ad800"/>
<path d="M731.6,145.7L735.3,146L729.7,148.7L726,148.4Z" fill="#73cf00"/>
<path d="M726.4,148.3L730.1,148.5L724,151.2L720.2,150.9Z" fill="#61c600"/>
<path d="M720.6,150.8L724.4,151L717.7,153.6L713.9,153.3Z" fill="#53bf00"/>
<path d="M714.3,153.2L718,153.5L710.7,156.1L707,155.9Z" fill="#4fbd00"/>
<path d="M838.7,113.3L842.2,113.4L830.7,112.8L827.3,112.6Z" fill="#bcf003"/>
<path d="M827.3,112.6L830.7,112.8L822.6,109.5L819.3,109.4Z" fill="#f4f714"/>
<path d="M819.3,109.4L822.6,109.5L816.3,103L813,102.8Z" fill="#e3e315"/>
<path d="M813,102.8L816.3,103L812.3,94.8L809,94.6Z" fill="#caca10"/>
<path d="M809,94.6L812.3,94.8L808.9,82.5L805.7,82.3Z" fill="#aea000"/>
<path d="M805.7,82.3L808.9,82.5L806.7,69.2L803.4,69Z" fill="#845900"/>
<path d="M803.4,69L806.7,69.2L804.1,44.2L800.9,44Z" fill="#822300"/>
<path d="M799.3,43.7L804.1,44.1L777.9,52.1L773.2,51.8Z" fill="#f00"/>
<path d="M774.5,51.9L778.3,52.2L777.7,54.9L773.9,54.6Z" fill="#921306"/>
<path d="M774.3,54.5L778.1,54.7L777.5,57.4L773.7,57.1Z" fill="#8f1504"/>
<path d="M774.1,57L777.9,57.3L777.3,60L773.5,59.7Z" fill="#8b1803"/>
<path d="M773.9,59.6L777.7,59.8L777.1,62.5L773.3,62.3Z" fill="#871a02"/>
<path d="M773.7,62.1L777.4,62.4L776.8,65.1L773.1,64.8Z" fill="#841c01"/>
<path d="M773.4,64.7L777.2,65L776.6,67.7L772.8,67.4Z" fill="#822100"/>
<path d="M773.2,67.3L777,67.5L776.3,70.2L772.6,70Z" fill="#822700"/>
<path d="M772.9,69.8L776.7,70.1L776,72.8L772.3,72.5Z" fill="#822e00"/>
<path d="M772.7,72.4L776.4,72.7L775.8,75.4L772,75.1Z" fill="#813400"/>
<path d="M772.4,75L776.1,75.3L775.4,78L771.7,77.7Z" fill="#813b00"/>
<path d="M772.1,77.6L775.8,77.9L775.1,80.6L771.3,80.3Z" fill="#814100"/>
<path d="M771.7,80.2L775.5,80.5L774.8,83.2L771,82.9Z" fill="#814800"/>
<path d="M771.4,82.8L775.1,83.1L774.4,85.8L770.6,85.5Z" fill="#804f00"/>
<path d="M771,85.4L774.8,85.7L774,88.4L770.2,88.1Z" fill="#7f5600"/>
<path d="M770.6,88L774.4,88.3L773.6,91.1L769.8,90.8Z" fill="#7f5d00"/>
<path d="M770.2,90.7L773.9,90.9L773.1,93.7L769.3,93.4Z" fill="#7e6300"/>
<path d="M769.7,93.3L773.5,93.6L772.6,96.4L768.8,96.1Z" fill="#7e6800"/>
<path d="M769.2,96L773,96.2L772,99L768.3,98.8Z" fill="#7e6d00"/>
<path d="M768.6,98.6L772.4,98.9L771.4,101.7L767.7,101.5Z" fill="#807300"/>
<path d="M768,101.3L771.8,101.6L770.8,104.4L767,104.2Z" fill="#897f01"/>
<path d="M767.4,104.1L771.1,104.3L770,107.2L766.3,106.9Z" fill="#8e8704"/>
<path d="M766.6,106.8L770.4,107.1L769.2,110L765.4,109.7Z" fill="#928d07"/>
<path d="M765.8,109.6L769.6,109.8L768.3,112.8L764.5,112.5Z" fill="#96950b"/>
<path d="M764.9,112.4L768.7,112.7L767.2,115.6L763.4,115.4Z" fill="#9c9c0d"/>
<path d="M763.8,115.2L767.6,115.5L766,118.6L762.2,118.3Z" fill="#a3a30e"/>
<path d="M762.6,118.2L766.4,118.4L764.5,121.6L760.8,121.3Z" fill="#abab0f"/>
<path d="M761.1,121.2L764.9,121.4L762.8,124.7L759,124.4Z" fill="#b5b510"/>
<path d="M759.4,124.3L763.2,124.6L760.7,127.9L756.9,127.7Z" fill="#c0c012"/>
<path d="M757.3,127.5L761,127.8L757.9,131.4L754.2,131.1Z" fill="#cdcd14"/>
<path d="M754.5,131L758.3,131.3L754.7,134.8L750.9,134.6Z" fill="#d7da12"/>
<path d="M751.3,134.4L755.1,134.7L751.1,138L747.3,137.7Z" fill="#d3e303"/>
<path d="M747.7,137.6L751.5,137.9L747.2,140.9L743.4,140.7Z" fill="#bee400"/>
<path d="M743.8,140.5L747.6,140.8L742.9,143.7L739.1,143.4Z" fill="#a6e000"/>
<path d="M739.5,143.3L743.3,143.6L738.1,146.3L734.3,146.1Z" fill="#8ad700"/>
<path d="M734.7,146L738.5,146.2L732.9,148.9L729.1,148.6Z" fill="#72ce00"/>
<path d="M729.5,148.5L733.3,148.8L727.2,151.4L723.4,151.1Z" fill="#61c500"/>
<path d="M723.7,151L727.5,151.3L720.8,153.8L717,153.6Z" fill="#53bf00"/>
<path d="M717.4,153.5L721.2,153.7L713.9,156.4L710.1,156.1Z" fill="#4ebd00"/>
<path d="M842.2,113.4L845.7,113.5L834.2,112.9L830.7,112.8Z" fill="#bef108"/>
<path d="M830.7,112.8L834.2,112.9L826.1,109.7L822.6,109.5Z" fill="#f7fa14"/>
<path d="M822.6,109.5L826.1,109.7L819.7,103.2L816.3,103Z" fill="#e7e715"/>
<path d="M816.3,103L819.7,103.2L815.7,95L812.3,94.8Z" fill="#cfcf11"/>
<path d="M812.3,94.8L815.7,95L812.2,82.7L808.9,82.5Z" fill="#9b8e01"/>
<path d="M808.9,82.5L812.2,82.7L810,69.4L806.7,69.2Z" fill="#7f5300"/>
<path d="M806.7,69.2L810,69.4L807.4,44.4L804.1,44.2Z" fill="#821f00"/>
<path d="M802.5,44L807.4,44.2L781.1,52.3L776.3,52Z" fill="#f00"/>
<path d="M777.7,52.1L781.5,52.4L780.9,55.1L777.1,54.8Z" fill="#870b00"/>
<path d="M777.5,54.7L781.3,54.9L780.7,57.6L776.9,57.4Z" fill="#860f00"/>
<path d="M777.3,57.2L781.1,57.5L780.5,60.2L776.7,59.9Z" fill="#851200"/>
<path d="M777,59.8L780.9,60.1L780.3,62.7L776.4,62.5Z" fill="#841500"/>
<path d="M776.8,62.4L780.7,62.6L780,65.3L776.2,65Z" fill="#831800"/>
<path d="M776.6,64.9L780.4,65.2L779.8,67.9L775.9,67.6Z" fill="#821d00"/>
<path d="M776.3,67.5L780.2,67.7L779.5,70.4L775.7,70.2Z" fill="#822300"/>
<path d="M776.1,70.1L779.9,70.3L779.2,73L775.4,72.8Z" fill="#822a00"/>
<path d="M775.8,72.7L779.6,72.9L779,75.6L775.1,75.4Z" fill="#823100"/>
<path d="M775.5,75.2L779.3,75.5L778.6,78.2L774.8,77.9Z" fill="#823700"/>
<path d="M775.2,77.8L779,78.1L778.3,80.8L774.5,80.5Z" fill="#813e00"/>
<path d="M774.9,80.4L778.7,80.7L778,83.4L774.1,83.1Z" fill="#814500"/>
<path d="M774.5,83L778.3,83.3L777.6,86L773.8,85.8Z" fill="#804c00"/>
<path d="M774.1,85.6L778,85.9L777.2,88.6L773.4,88.4Z" fill="#7f5300"/>
<path d="M773.7,88.3L777.6,88.5L776.8,91.3L772.9,91Z" fill="#7e5a00"/>
<path d="M773.3,90.9L777.1,91.1L776.3,93.9L772.5,93.7Z" fill="#7e6100"/>
<path d="M772.8,93.5L776.7,93.8L775.8,96.6L771.9,96.3Z" fill="#7e6700"/>
<path d="M772.3,96.2L776.2,96.4L775.2,99.2L771.4,99Z" fill="#7d6c00"/>
<path d="M771.8,98.9L775.6,99.1L774.6,101.9L770.8,101.7Z" fill="#7c7001"/>
<path d="M771.2,101.6L775,101.8L774,104.6L770.1,104.4Z" fill="#7c7401"/>
<path d="M770.5,104.3L774.4,104.5L773.2,107.4L769.4,107.1Z" fill="#7d7804"/>
<path d="M769.8,107L773.6,107.3L772.4,110.2L768.6,109.9Z" fill="#878407"/>
<path d="M768.9,109.8L772.8,110L771.5,113L767.6,112.7Z" fill="#908f0a"/>
<path d="M768,112.6L771.9,112.9L770.4,115.8L766.6,115.6Z" fill="#95950c"/>
<path d="M767,115.5L770.8,115.7L769.2,118.8L765.3,118.5Z" fill="#9c9c0d"/>
<path d="M765.7,118.4L769.6,118.6L767.7,121.8L763.9,121.5Z" fill="#a5a50e"/>
<path d="M764.3,121.4L768.1,121.6L766,124.9L762.2,124.6Z" fill="#afaf10"/>
<path d="M762.5,124.5L766.4,124.8L763.9,128.1L760,127.9Z" fill="#bb1"/>
<path d="M760.4,127.8L764.3,128L761.2,131.6L757.3,131.4Z" fill="#c8c813"/>
<path d="M757.7,131.2L761.5,131.5L757.9,135L754.1,134.8Z" fill="#d3d612"/>
<path d="M754.4,134.7L758.3,134.9L754.3,138.2L750.5,137.9Z" fill="#d0e003"/>
<path d="M750.9,137.8L754.7,138.1L750.4,141.1L746.6,140.9Z" fill="#bce100"/>
<path d="M746.9,140.8L750.8,141L746.1,143.9L742.2,143.7Z" fill="#a4de00"/>
<path d="M742.6,143.5L746.5,143.8L741.4,146.5L737.5,146.3Z" fill="#89d500"/>
<path d="M737.9,146.2L741.7,146.4L736.1,149.1L732.3,148.8Z" fill="#72cd00"/>
<path d="M732.6,148.7L736.5,149L730.4,151.6L726.5,151.3Z" fill="#60c500"/>
<path d="M726.9,151.2L730.8,151.5L724.1,154L720.2,153.8Z" fill="#53be00"/>
<path d="M720.6,153.7L724.4,153.9L717.1,156.5L713.2,156.3Z" fill="#4ebc00"/>
<path d="M845.7,113.5L849.4,113.6L837.7,113L834.2,112.9Z" fill="#bff10e"/>
<path d="M834.2,112.9L837.7,113L829.5,109.8L826.1,109.7Z" fill="#fafe14"/>
<path d="M826.1,109.7L829.5,109.8L823.2,103.3L819.7,103.2Z" fill="#ecec15"/>
<path d="M819.7,103.2L823.2,103.3L819.1,95.1L815.7,95Z" fill="#c6c810"/>
<path d="M815.7,95L819.1,95.1L815.6,82.8L812.2,82.7Z" fill="#8c8001"/>
<path d="M812.2,82.7L815.6,82.8L813.3,69.5L810,69.4Z" fill="#7f5000"/>
<path d="M810,69.4L813.3,69.5L810.7,44.6L807.4,44.4Z" fill="#831b00"/>
<path d="M805.7,44.1L810.7,44.4L784.4,52.5L779.5,52.2Z" fill="#f00"/>
<path d="M780.9,52.4L784.8,52.6L784.2,55.2L780.3,55Z" fill="#890900"/>
<path d="M780.7,54.9L784.6,55.1L784,57.8L780.1,57.6Z" fill="#880c00"/>
<path d="M780.4,57.5L784.4,57.7L783.8,60.4L779.9,60.1Z" fill="#860e00"/>
<path d="M780.2,60L784.2,60.2L783.6,62.9L779.6,62.7Z" fill="#851100"/>
<path d="M780,62.6L783.9,62.8L783.3,65.5L779.4,65.3Z" fill="#841300"/>
<path d="M779.8,65.1L783.7,65.4L783.1,68L779.1,67.8Z" fill="#831800"/>
<path d="M779.5,67.7L783.4,67.9L782.8,70.6L778.9,70.4Z" fill="#831f00"/>
<path d="M779.3,70.3L783.2,70.5L782.5,73.2L778.6,73Z" fill="#832600"/>
<path d="M779,72.9L782.9,73.1L782.2,75.8L778.3,75.6Z" fill="#822d00"/>
<path d="M778.7,75.4L782.6,75.7L781.9,78.4L778,78.2Z" fill="#823400"/>
<path d="M778.4,78L782.3,78.3L781.6,81L777.7,80.7Z" fill="#823b00"/>
<path d="M778.1,80.6L782,80.9L781.2,83.6L777.3,83.4Z" fill="#814200"/>
<path d="M777.7,83.2L781.6,83.5L780.9,86.2L776.9,86Z" fill="#804a00"/>
<path d="M777.3,85.8L781.3,86.1L780.5,88.8L776.5,88.6Z" fill="#7f5100"/>
<path d="M776.9,88.5L780.9,88.7L780,91.4L776.1,91.2Z" fill="#7e5800"/>
<path d="M776.5,91.1L780.4,91.3L779.6,94.1L775.6,93.9Z" fill="#7d5f00"/>
<path d="M776,93.7L780,94L779.1,96.7L775.1,96.5Z" fill="#7d6500"/>
<path d="M775.5,96.4L779.5,96.6L778.5,99.4L774.6,99.2Z" fill="#7c6a00"/>
<path d="M775,99.1L778.9,99.3L777.9,102.1L774,101.9Z" fill="#7a6e01"/>
<path d="M774.4,101.8L778.3,102L777.3,104.8L773.3,104.6Z" fill="#7a7202"/>
<path d="M773.7,104.5L777.6,104.7L776.5,107.6L772.6,107.4Z" fill="#797504"/>
<path d="M773,107.2L776.9,107.5L775.7,110.3L771.8,110.1Z" fill="#7a7906"/>
<path d="M772.1,110L776.1,110.2L774.8,113.2L770.8,112.9Z" fill="#7b7c09"/>
<path d="M771.2,112.8L775.1,113L773.7,116L769.8,115.8Z" fill="#88890b"/>
<path d="M770.2,115.7L774.1,115.9L772.5,118.9L768.5,118.7Z" fill="#95950c"/>
<path d="M768.9,118.6L772.9,118.8L771,121.9L767.1,121.7Z" fill="#9d9d0e"/>
<path d="M767.5,121.6L771.4,121.8L769.3,125.1L765.4,124.8Z" fill="#a8a80f"/>
<path d="M765.7,124.7L769.7,124.9L767.2,128.3L763.2,128.1Z" fill="#b4b411"/>
<path d="M763.6,128L767.5,128.2L764.5,131.8L760.5,131.6Z" fill="#c2c213"/>
<path d="M760.9,131.4L764.8,131.7L761.2,135.2L757.3,135Z" fill="#ced011"/>
<path d="M757.6,134.9L761.6,135.1L757.6,138.4L753.7,138.2Z" fill="#ccdb03"/>
<path d="M754.1,138L758,138.3L753.7,141.3L749.8,141.1Z" fill="#b9de00"/>
<path d="M750.1,141L754.1,141.2L749.4,144.1L745.5,143.9Z" fill="#a2dc00"/>
<path d="M745.8,143.7L749.8,144L744.7,146.7L740.7,146.5Z" fill="#88d400"/>
<path d="M741.1,146.4L745,146.6L739.4,149.3L735.5,149Z" fill="#71cc00"/>
<path d="M735.9,148.9L739.8,149.1L733.7,151.7L729.7,151.5Z" fill="#60c400"/>
<path d="M730.1,151.4L734.1,151.6L727.4,154.2L723.4,154Z" fill="#53be00"/>
<path d="M723.8,153.9L727.8,154.1L720.4,156.7L716.5,156.5Z" fill="#4ebc00"/>
<path d="M849.4,113.6L853.2,113.6L841.4,113L837.7,113Z" fill="#c1f116"/>
<path d="M837.7,113L841.4,113L833.2,109.8L829.5,109.8Z" fill="#fbfe1e"/>
<path d="M829.5,109.8L833.2,109.8L826.8,103.4L823.2,103.3Z" fill="#f2f216"/>
<path d="M823.2,103.3L826.8,103.4L822.7,95.2L819.1,95.1Z" fill="#a7ac0e"/>
<path d="M819.1,95.1L822.7,95.2L819.2,82.9L815.6,82.8Z" fill="#807501"/>
<path d="M815.6,82.8L819.2,82.9L816.9,69.6L813.3,69.5Z" fill="#7f4e00"/>
<path d="M813.3,69.5L816.9,69.6L814.2,44.7L810.7,44.6Z" fill="#841600"/>
<path d="M809,44.3L814.2,44.5L787.8,52.7L782.7,52.4Z" fill="#f00"/>
<path d="M784.1,52.5L788.1,52.7L787.6,55.4L783.5,55.2Z" fill="#8b0700"/>
<path d="M783.9,55.1L787.9,55.3L787.4,58L783.3,57.8Z" fill="#890900"/>
<path d="M783.7,57.6L787.7,57.8L787.1,60.5L783.1,60.3Z" fill="#880b00"/>
<path d="M783.5,60.2L787.5,60.4L786.9,63.1L782.9,62.9Z" fill="#860d00"/>
<path d="M783.3,62.8L787.3,63L786.7,65.6L782.7,65.4Z" fill="#850f00"/>
<path d="M783,65.3L787.1,65.5L786.4,68.2L782.4,68Z" fill="#841400"/>
<path d="M782.8,67.9L786.8,68.1L786.2,70.8L782.1,70.6Z" fill="#831b00"/>
<path d="M782.5,70.5L786.6,70.7L785.9,73.4L781.9,73.2Z" fill="#832200"/>
<path d="M782.2,73L786.3,73.2L785.6,75.9L781.6,75.7Z" fill="#832a00"/>
<path d="M782,75.6L786,75.8L785.3,78.5L781.3,78.3Z" fill="#823100"/>
<path d="M781.6,78.2L785.7,78.4L785,81.1L780.9,80.9Z" fill="#823800"/>
<path d="M781.3,80.8L785.3,81L784.6,83.7L780.6,83.5Z" fill="#813f00"/>
<path d="M781,83.4L785,83.6L784.2,86.3L780.2,86.2Z" fill="#804700"/>
<path d="M780.6,86L784.6,86.2L783.8,89L779.8,88.8Z" fill="#7f4e00"/>
<path d="M780.2,88.7L784.2,88.8L783.4,91.6L779.4,91.4Z" fill="#7e5600"/>
<path d="M779.8,91.3L783.8,91.5L782.9,94.2L778.9,94.1Z" fill="#7d5d00"/>
<path d="M779.3,93.9L783.3,94.1L782.4,96.9L778.4,96.7Z" fill="#7c6400"/>
<path d="M778.8,96.6L782.8,96.8L781.9,99.6L777.9,99.4Z" fill="#7a6900"/>
<path d="M778.2,99.3L782.3,99.5L781.3,102.3L777.3,102.1Z" fill="#786c01"/>
<path d="M777.6,102L781.7,102.2L780.6,105L776.6,104.8Z" fill="#777002"/>
<path d="M777,104.7L781,104.9L779.9,107.7L775.9,107.5Z" fill="#767304"/>
<path d="M776.2,107.4L780.3,107.6L779.1,110.5L775,110.3Z" fill="#757606"/>
<path d="M775.4,110.2L779.4,110.4L778.1,113.3L774.1,113.1Z" fill="#767a08"/>
<path d="M774.5,113L778.5,113.2L777.1,116.2L773,116Z" fill="#777c0a"/>
<path d="M773.4,115.9L777.5,116.1L775.8,119.1L771.8,118.9Z" fill="#797e0b"/>
<path d="M772.2,118.8L776.2,119L774.4,122.1L770.4,121.9Z" fill="#8a8c0c"/>
<path d="M770.7,121.8L774.8,122L772.7,125.2L768.6,125Z" fill="#9f9f0e"/>
<path d="M769,124.9L773.1,125.1L770.5,128.5L766.5,128.3Z" fill="#acac10"/>
<path d="M766.9,128.2L770.9,128.3L767.8,131.9L763.8,131.7Z" fill="#bbbb12"/>
<path d="M764.2,131.6L768.2,131.8L764.6,135.4L760.5,135.2Z" fill="#c8ca11"/>
<path d="M760.9,135.1L765,135.3L761,138.5L757,138.3Z" fill="#c8d603"/>
<path d="M757.4,138.2L761.4,138.4L757.1,141.5L753,141.3Z" fill="#b6da00"/>
<path d="M753.4,141.2L757.5,141.3L752.8,144.2L748.7,144Z" fill="#a0d900"/>
<path d="M749.1,143.9L753.2,144.1L748,146.9L744,146.7Z" fill="#86d200"/>
<path d="M744.4,146.6L748.4,146.7L742.8,149.4L738.8,149.2Z" fill="#70ca00"/>
<path d="M739.1,149.1L743.2,149.3L737.1,151.9L733,151.7Z" fill="#5fc300"/>
<path d="M733.4,151.6L737.5,151.8L730.8,154.4L726.7,154.2Z" fill="#52bd00"/>
<path d="M727.1,154.1L731.2,154.2L723.8,156.9L719.8,156.7Z" fill="#4ebb00"/>
<path d="M853.2,113.6L857.2,113.6L845.3,113L841.4,113Z" fill="#c4f21f"/>
<path d="M841.4,113L845.3,113L837,109.9L833.2,109.8Z" fill="#fbfe2c"/>
<path d="M833.2,109.8L837,109.9L830.5,103.4L826.8,103.4Z" fill="#cdd314"/>
<path d="M826.8,103.4L830.5,103.4L826.4,95.3L822.7,95.2Z" fill="#8c940c"/>
<path d="M822.7,95.2L826.4,95.3L822.8,83L819.2,82.9Z" fill="#776d02"/>
<path d="M819.2,82.9L822.8,83L820.5,69.7L816.9,69.6Z" fill="#7f4c00"/>
<path d="M816.9,69.6L820.5,69.7L817.8,44.8L814.2,44.7Z" fill="#841600"/>
<path d="M812.5,44.5L817.8,44.6L791.2,52.8L786.1,52.6Z" fill="#f00"/>
<path d="M787.5,52.7L791.6,52.9L791,55.5L786.9,55.4Z" fill="#8b0600"/>
<path d="M787.3,55.3L791.4,55.4L790.8,58.1L786.7,57.9Z" fill="#890800"/>
<path d="M787.1,57.8L791.2,58L790.6,60.6L786.5,60.5Z" fill="#880a00"/>
<path d="M786.8,60.4L791,60.5L790.4,63.2L786.2,63Z" fill="#860c00"/>
<path d="M786.6,62.9L790.8,63.1L790.2,65.8L786,65.6Z" fill="#850e00"/>
<path d="M786.4,65.5L790.5,65.6L789.9,68.3L785.8,68.2Z" fill="#841300"/>
<path d="M786.1,68.1L790.3,68.2L789.6,70.9L785.5,70.7Z" fill="#831a00"/>
<path d="M785.9,70.6L790,70.8L789.4,73.5L785.2,73.3Z" fill="#832200"/>
<path d="M785.6,73.2L789.8,73.4L789.1,76.1L784.9,75.9Z" fill="#832900"/>
<path d="M785.3,75.8L789.5,75.9L788.8,78.7L784.6,78.5Z" fill="#833000"/>
<path d="M785,78.4L789.2,78.5L788.4,81.2L784.3,81.1Z" fill="#823700"/>
<path d="M784.7,81L788.8,81.1L788.1,83.9L783.9,83.7Z" fill="#823e00"/>
<path d="M784.3,83.6L788.5,83.7L787.7,86.5L783.6,86.3Z" fill="#804500"/>
<path d="M783.9,86.2L788.1,86.3L787.3,89.1L783.2,88.9Z" fill="#7f4c00"/>
<path d="M783.5,88.8L787.7,89L786.9,91.7L782.7,91.6Z" fill="#7d5400"/>
<path d="M783.1,91.5L787.3,91.6L786.4,94.4L782.3,94.2Z" fill="#7c5b00"/>
<path d="M782.6,94.1L786.8,94.2L785.9,97L781.8,96.9Z" fill="#7b6200"/>
<path d="M782.1,96.8L786.3,96.9L785.4,99.7L781.2,99.5Z" fill="#796701"/>
<path d="M781.6,99.4L785.8,99.6L784.8,102.4L780.6,102.2Z" fill="#766a02"/>
<path d="M781,102.1L785.1,102.3L784.1,105.1L779.9,105Z" fill="#746d03"/>
<path d="M780.3,104.8L784.5,105L783.4,107.8L779.2,107.7Z" fill="#727004"/>
<path d="M779.6,107.6L783.8,107.7L782.5,110.6L778.4,110.5Z" fill="#717306"/>
<path d="M778.8,110.4L782.9,110.5L781.6,113.4L777.5,113.3Z" fill="#707708"/>
<path d="M777.8,113.2L782,113.3L780.6,116.3L776.4,116.1Z" fill="#70780a"/>
<path d="M776.8,116L780.9,116.2L779.3,119.2L775.2,119.1Z" fill="#70790b"/>
<path d="M775.5,119L779.7,119.1L777.9,122.2L773.7,122.1Z" fill="#717a0b"/>
<path d="M774.1,122L778.3,122.1L776.2,125.3L772,125.2Z" fill="#7a810c"/>
<path d="M772.4,125.1L776.5,125.2L774,128.6L769.9,128.4Z" fill="#92960e"/>
<path d="M770.2,128.3L774.4,128.5L771.3,132L767.1,131.9Z" fill="#b2b211"/>
<path d="M767.5,131.8L771.7,131.9L768.1,135.5L763.9,135.3Z" fill="#c0c310"/>
<path d="M764.3,135.2L768.5,135.4L764.5,138.6L760.3,138.5Z" fill="#c2d003"/>
<path d="M760.7,138.4L764.9,138.5L760.6,141.6L756.4,141.4Z" fill="#b2d500"/>
<path d="M756.8,141.3L761,141.5L756.3,144.3L752.1,144.2Z" fill="#9ed600"/>
<path d="M752.5,144.1L756.7,144.2L751.5,147L747.4,146.8Z" fill="#85cf00"/>
<path d="M747.7,146.7L751.9,146.9L746.3,149.5L742.1,149.4Z" fill="#6fc800"/>
<path d="M742.5,149.3L746.7,149.4L740.6,152L736.4,151.9Z" fill="#5fc200"/>
<path d="M736.8,151.7L741,151.9L734.3,154.5L730.1,154.3Z" fill="#52bc00"/>
<path d="M730.5,154.2L734.7,154.4L727.3,157L723.1,156.8Z" fill="#4ebb00"/>
<path d="M857.2,113.6L864.3,113.4L852.2,112.9L845.3,113Z" fill="#b5e612"/>
<path d="M845.3,113L852.2,112.9L843.7,109.8L837,109.9Z" fill="#dfe914"/>
<path d="M837,109.9L843.7,109.8L837.1,103.4L830.5,103.4Z" fill="#90a211"/>
<path d="M830.5,103.4L837.1,103.4L832.9,95.2L826.4,95.3Z" fill="#717e0a"/>
<path d="M826.4,95.3L832.9,95.2L829.3,83L822.8,83Z" fill="#726802"/>
<path d="M822.8,83L829.3,83L826.9,69.7L820.5,69.7Z" fill="#7f4c00"/>
<path d="M820.5,69.7L826.9,69.7L824.2,44.8L817.8,44.8Z" fill="#841600"/>
<path d="M816,44.6L824.2,44.6L797.4,52.9L789.5,52.7Z" fill="#f00"/>
<path d="M790.9,52.8L797.8,53L797.2,55.6L790.3,55.5Z" fill="#8b0600"/>
<path d="M790.7,55.4L797.6,55.5L797,58.2L790.1,58.1Z" fill="#890800"/>
<path d="M790.5,57.9L797.4,58.1L796.8,60.7L789.9,60.6Z" fill="#880a00"/>
<path d="M790.3,60.5L797.1,60.6L796.5,63.3L789.7,63.2Z" fill="#860c00"/>
<path d="M790.1,63.1L796.9,63.2L796.3,65.9L789.5,65.7Z" fill="#850e00"/>
<path d="M789.8,65.6L796.7,65.7L796,68.4L789.2,68.3Z" fill="#841300"/>
<path d="M789.6,68.2L796.4,68.3L795.8,71L788.9,70.9Z" fill="#831a00"/>
<path d="M789.3,70.8L796.2,70.9L795.5,73.6L788.7,73.5Z" fill="#832200"/>
<path d="M789,73.3L795.9,73.5L795.2,76.2L788.4,76Z" fill="#832900"/>
<path d="M788.8,75.9L795.6,76L794.9,78.8L788.1,78.6Z" fill="#833000"/>
<path d="M788.4,78.5L795.3,78.6L794.6,81.3L787.7,81.2Z" fill="#823700"/>
<path d="M788.1,81.1L795,81.2L794.2,84L787.4,83.8Z" fill="#823e00"/>
<path d="M787.8,83.7L794.6,83.8L793.9,86.6L787,86.4Z" fill="#804500"/>
<path d="M787.4,86.3L794.2,86.4L793.5,89.2L786.6,89.1Z" fill="#7f4c00"/>
<path d="M787,88.9L793.8,89.1L793,91.8L786.2,91.7Z" fill="#7d5300"/>
<path d="M786.6,91.6L793.4,91.7L792.6,94.5L785.7,94.3Z" fill="#7c5a00"/>
<path d="M786.1,94.2L792.9,94.3L792.1,97.1L785.2,97Z" fill="#7b6100"/>
<path d="M785.6,96.9L792.4,97L791.5,99.8L784.7,99.7Z" fill="#786501"/>
<path d="M785,99.6L791.9,99.7L790.9,102.5L784.1,102.4Z" fill="#746702"/>
<path d="M784.4,102.3L791.3,102.4L790.2,105.2L783.4,105.1Z" fill="#706a03"/>
<path d="M783.8,105L790.6,105.1L789.5,107.9L782.7,107.8Z" fill="#6d6d04"/>
<path d="M783,107.7L789.9,107.8L788.7,110.7L781.8,110.6Z" fill="#6b7006"/>
<path d="M782.2,110.5L789.1,110.6L787.8,113.5L780.9,113.4Z" fill="#697308"/>
<path d="M781.3,113.3L788.1,113.4L786.7,116.4L779.9,116.3Z" fill="#677409"/>
<path d="M780.2,116.2L787.1,116.3L785.5,119.3L778.6,119.2Z" fill="#64740b"/>
<path d="M779,119.1L785.9,119.2L784,122.3L777.2,122.2Z" fill="#63740c"/>
<path d="M777.6,122.1L784.4,122.2L782.3,125.4L775.4,125.3Z" fill="#63750d"/>
<path d="M775.8,125.2L782.7,125.3L780.2,128.7L773.3,128.6Z" fill="#65760d"/>
<path d="M773.7,128.4L780.6,128.6L777.5,132.1L770.6,132Z" fill="#75820e"/>
<path d="M771,131.9L777.8,132L774.2,135.6L767.4,135.5Z" fill="#929c0e"/>
<path d="M767.7,135.3L774.6,135.5L770.7,138.7L763.8,138.6Z" fill="#9cae04"/>
<path d="M764.2,138.5L771,138.6L766.8,141.7L759.9,141.6Z" fill="#96b902"/>
<path d="M760.3,141.4L767.1,141.5L762.4,144.4L755.6,144.3Z" fill="#8bbf01"/>
<path d="M755.9,144.2L762.8,144.3L757.7,147.1L750.8,147Z" fill="#79be01"/>
<path d="M751.2,146.8L758.1,147L752.5,149.6L745.6,149.5Z" fill="#68bc01"/>
<path d="M746,149.4L752.9,149.5L746.8,152.1L739.9,152Z" fill="#5ab901"/>
<path d="M740.3,151.9L747.1,152L740.5,154.6L733.6,154.5Z" fill="#4fb600"/>
<path d="M734,154.3L740.8,154.4L733.5,157.1L726.6,157Z" fill="#4bb600"/>
<path d="M864.3,113.4L869.6,113.1L857.4,112.7L852.2,112.9Z" fill="#98cc03"/>
<path d="M852.2,112.9L857.4,112.7L848.8,109.6L843.7,109.8Z" fill="#9eb512"/>
<path d="M843.7,109.8L848.8,109.6L842.1,103.2L837.1,103.4Z" fill="#5f7c0f"/>
<path d="M837.1,103.4L842.1,103.2L837.8,95.1L832.9,95.2Z" fill="#5e7009"/>
<path d="M832.9,95.2L837.8,95.1L834.2,82.9L829.3,83Z" fill="#716803"/>
<path d="M829.3,83L834.2,82.9L831.8,69.6L826.9,69.7Z" fill="#7f4c00"/>
<path d="M826.9,69.7L831.8,69.6L829.1,44.7L824.2,44.8Z" fill="#841600"/>
<path d="M822.2,44.6L829.1,44.5L802.1,52.8L795.5,52.9Z" fill="#f00"/>
<path d="M797,53L802.5,52.9L801.9,55.6L796.4,55.6Z" fill="#8b0600"/>
<path d="M796.8,55.5L802.3,55.4L801.7,58.1L796.2,58.2Z" fill="#890800"/>
<path d="M796.6,58.1L802.1,58L801.5,60.7L796,60.7Z" fill="#880a00"/>
<path d="M796.4,60.6L801.8,60.6L801.2,63.2L795.8,63.3Z" fill="#860c00"/>
<path d="M796.1,63.2L801.6,63.1L801,65.8L795.5,65.9Z" fill="#850e00"/>
<path d="M795.9,65.7L801.4,65.7L800.7,68.4L795.3,68.4Z" fill="#841300"/>
<path d="M795.7,68.3L801.1,68.3L800.5,70.9L795,71Z" fill="#831a00"/>
<path d="M795.4,70.9L800.9,70.8L800.2,73.5L794.7,73.6Z" fill="#832200"/>
<path d="M795.1,73.5L800.6,73.4L799.9,76.1L794.5,76.2Z" fill="#832900"/>
<path d="M794.8,76L800.3,76L799.6,78.7L794.1,78.7Z" fill="#833000"/>
<path d="M794.5,78.6L800,78.6L799.3,81.3L793.8,81.3Z" fill="#823700"/>
<path d="M794.2,81.2L799.7,81.2L798.9,83.9L793.5,83.9Z" fill="#823e00"/>
<path d="M793.8,83.8L799.3,83.8L798.6,86.5L793.1,86.6Z" fill="#804500"/>
<path d="M793.5,86.4L798.9,86.4L798.2,89.1L792.7,89.2Z" fill="#7f4c00"/>
<path d="M793.1,89.1L798.5,89L797.7,91.8L792.3,91.8Z" fill="#7d5300"/>
<path d="M792.6,91.7L798.1,91.6L797.3,94.4L791.8,94.5Z" fill="#7c5a00"/>
<path d="M792.2,94.3L797.6,94.3L796.8,97.1L791.3,97.1Z" fill="#7b6100"/>
<path d="M791.7,97L797.1,96.9L796.2,99.7L790.7,99.8Z" fill="#786501"/>
<path d="M791.1,99.7L796.6,99.6L795.6,102.4L790.1,102.5Z" fill="#736702"/>
<path d="M790.5,102.4L796,102.3L795,105.1L789.5,105.2Z" fill="#6f6903"/>
<path d="M789.9,105.1L795.3,105L794.2,107.9L788.7,107.9Z" fill="#6a6b05"/>
<path d="M789.1,107.8L794.6,107.8L793.4,110.7L787.9,110.7Z" fill="#666d06"/>
<path d="M788.3,110.6L793.8,110.5L792.5,113.5L787,113.5Z" fill="#616f07"/>
<path d="M787.4,113.4L792.8,113.4L791.4,116.3L785.9,116.4Z" fill="#5d7009"/>
<path d="M786.3,116.3L791.8,116.2L790.2,119.3L784.7,119.3Z" fill="#586f0a"/>
<path d="M785.1,119.2L790.6,119.1L788.7,122.3L783.3,122.3Z" fill="#546e0c"/>
<path d="M783.6,122.2L789.1,122.1L787,125.4L781.5,125.4Z" fill="#526e0d"/>
<path d="M781.9,125.3L787.4,125.2L784.9,128.6L779.4,128.7Z" fill="#516e0e"/>
<path d="M779.8,128.6L785.3,128.5L782.2,132.1L776.7,132.1Z" fill="#53700f"/>
<path d="M777.1,132L782.6,132L778.9,135.5L773.5,135.6Z" fill="#5b720d"/>
<path d="M773.8,135.5L779.3,135.4L775.4,138.7L769.9,138.7Z" fill="#678107"/>
<path d="M770.3,138.6L775.8,138.6L771.5,141.6L766,141.7Z" fill="#6c8f04"/>
<path d="M766.4,141.5L771.8,141.5L767.2,144.4L761.7,144.4Z" fill="#6c9c03"/>
<path d="M762.1,144.3L767.5,144.3L762.4,147L756.9,147.1Z" fill="#64a303"/>
<path d="M757.3,146.9L762.8,146.9L757.2,149.5L751.7,149.6Z" fill="#5ba702"/>
<path d="M752.1,149.5L757.6,149.4L751.5,152L746,152.1Z" fill="#51a902"/>
<path d="M746.4,152L751.9,151.9L745.2,154.5L739.7,154.6Z" fill="#49aa01"/>
<path d="M740.1,154.4L745.6,154.4L738.3,157L732.8,157.1Z" fill="#47ad01"/>
<path d="M869.6,113.1L873.8,112.8L861.5,112.4L857.4,112.7Z" fill="#81b405"/>
<path d="M857.4,112.7L861.5,112.4L852.8,109.4L848.8,109.6Z" fill="#709111"/>
<path d="M848.8,109.6L852.8,109.4L846.1,103L842.1,103.2Z" fill="#466b0e"/>
<path d="M842.1,103.2L846.1,103L841.8,94.9L837.8,95.1Z" fill="#5c6f09"/>
<path d="M837.8,95.1L841.8,94.9L838.1,82.6L834.2,82.9Z" fill="#716803"/>
<path d="M834.2,82.9L838.1,82.6L835.7,69.4L831.8,69.6Z" fill="#7f4c00"/>
<path d="M831.8,69.6L835.7,69.4L832.9,44.5L829.1,44.7Z" fill="#841600"/>
<path d="M826.9,44.6L832.9,44.3L805.8,52.7L800,52.9Z" fill="#f00"/>
<path d="M801.6,52.9L806.2,52.7L805.6,55.4L801,55.6Z" fill="#8b0600"/>
<path d="M801.4,55.5L806,55.3L805.4,58L800.8,58.1Z" fill="#890800"/>
<path d="M801.2,58L805.8,57.8L805.2,60.5L800.6,60.7Z" fill="#880a00"/>
<path d="M801,60.6L805.6,60.4L805,63.1L800.4,63.3Z" fill="#860c00"/>
<path d="M800.8,63.1L805.3,63L804.7,65.6L800.2,65.8Z" fill="#850e00"/>
<path d="M800.5,65.7L805.1,65.5L804.5,68.2L799.9,68.4Z" fill="#841300"/>
<path d="M800.3,68.3L804.9,68.1L804.2,70.8L799.6,71Z" fill="#831a00"/>
<path d="M800,70.8L804.6,70.7L803.9,73.4L799.4,73.5Z" fill="#832200"/>
<path d="M799.7,73.4L804.3,73.2L803.7,75.9L799.1,76.1Z" fill="#832900"/>
<path d="M799.5,76L804,75.8L803.3,78.5L798.8,78.7Z" fill="#833000"/>
<path d="M799.1,78.6L803.7,78.4L803,81.1L798.4,81.3Z" fill="#823700"/>
<path d="M798.8,81.2L803.4,81L802.7,83.7L798.1,83.9Z" fill="#823e00"/>
<path d="M798.5,83.8L803,83.6L802.3,86.3L797.7,86.5Z" fill="#804500"/>
<path d="M798.1,86.4L802.7,86.2L801.9,89L797.3,89.1Z" fill="#7f4c00"/>
<path d="M797.7,89L802.3,88.9L801.5,91.6L796.9,91.8Z" fill="#7d5300"/>
<path d="M797.3,91.7L801.8,91.5L801,94.2L796.4,94.4Z" fill="#7c5a00"/>
<path d="M796.8,94.3L801.4,94.1L800.5,96.9L795.9,97.1Z" fill="#7b6100"/>
<path d="M796.3,97L800.9,96.8L800,99.6L795.4,99.8Z" fill="#786501"/>
<path d="M795.8,99.6L800.3,99.5L799.4,102.3L794.8,102.5Z" fill="#736702"/>
<path d="M795.2,102.3L799.7,102.2L798.7,105L794.1,105.2Z" fill="#6f6903"/>
<path d="M794.5,105.1L799.1,104.9L798,107.7L793.4,107.9Z" fill="#6a6b05"/>
<path d="M793.8,107.8L798.3,107.6L797.1,110.5L792.6,110.7Z" fill="#666d06"/>
<path d="M792.9,110.6L797.5,110.4L796.2,113.3L791.6,113.5Z" fill="#616f07"/>
<path d="M792,113.4L796.6,113.2L795.1,116.2L790.6,116.4Z" fill="#5b6f09"/>
<path d="M790.9,116.2L795.5,116.1L793.9,119.1L789.3,119.3Z" fill="#536d0a"/>
<path d="M789.7,119.2L794.3,119L792.5,122.1L787.9,122.3Z" fill="#4a6a0c"/>
<path d="M788.3,122.2L792.9,122L790.8,125.2L786.2,125.4Z" fill="#45690e"/>
<path d="M786.6,125.3L791.1,125.1L788.6,128.5L784,128.6Z" fill="#42690f"/>
<path d="M784.4,128.5L789,128.3L785.9,131.9L781.3,132.1Z" fill="#406910"/>
<path d="M781.7,132L786.3,131.8L782.7,135.4L778.1,135.5Z" fill="#486c0f"/>
<path d="M778.5,135.4L783.1,135.2L779.1,138.5L774.5,138.7Z" fill="#4b6d0a"/>
<path d="M774.9,138.6L779.5,138.4L775.2,141.4L770.6,141.6Z" fill="#4e7307"/>
<path d="M771,141.5L775.6,141.3L770.9,144.2L766.3,144.4Z" fill="#548105"/>
<path d="M766.7,144.3L771.3,144.1L766.2,146.8L761.6,147Z" fill="#538c04"/>
<path d="M762,146.9L766.6,146.7L761,149.4L756.4,149.6Z" fill="#4f9403"/>
<path d="M756.8,149.4L761.4,149.3L755.3,151.9L750.7,152Z" fill="#4a9a02"/>
<path d="M751,151.9L755.6,151.7L749,154.3L744.4,154.5Z" fill="#449f02"/>
<path d="M744.7,154.4L749.3,154.2L742,156.8L737.4,157Z" fill="#44a401"/>
<path d="M873.8,112.8L877.6,112.4L865.2,112.1L861.5,112.4Z" fill="#699d08"/>
<path d="M861.5,112.4L865.2,112.1L856.5,109L852.8,109.4Z" fill="#4a7511"/>
<path d="M852.8,109.4L856.5,109L849.7,102.7L846.1,103Z" fill="#3f670e"/>
<path d="M846.1,103L849.7,102.7L845.4,94.6L841.8,94.9Z" fill="#5c6f09"/>
<path d="M841.8,94.9L845.4,94.6L841.7,82.3L838.1,82.6Z" fill="#716803"/>
<path d="M838.1,82.6L841.7,82.3L839.2,69.1L835.7,69.4Z" fill="#7f4c00"/>
<path d="M835.7,69.4L839.2,69.1L836.5,44.2L832.9,44.5Z" fill="#841600"/>
<path d="M830.6,44.5L836.5,44L809.3,52.4L803.5,52.8Z" fill="#f00"/>
<path d="M805.2,52.8L809.7,52.5L809.1,55.1L804.7,55.5Z" fill="#8b0600"/>
<path d="M805.1,55.3L809.5,55L808.9,57.7L804.5,58Z" fill="#890800"/>
<path d="M804.8,57.9L809.2,57.6L808.7,60.2L804.3,60.6Z" fill="#880a00"/>
<path d="M804.6,60.5L809,60.1L808.4,62.8L804,63.1Z" fill="#860c00"/>
<path d="M804.4,63L808.8,62.7L808.2,65.4L803.8,65.7Z" fill="#850e00"/>
<path d="M804.2,65.6L808.6,65.3L807.9,67.9L803.5,68.3Z" fill="#841300"/>
<path d="M803.9,68.1L808.3,67.8L807.7,70.5L803.3,70.8Z" fill="#831a00"/>
<path d="M803.7,70.7L808.1,70.4L807.4,73.1L803,73.4Z" fill="#832200"/>
<path d="M803.4,73.3L807.8,73L807.1,75.7L802.7,76Z" fill="#832900"/>
<path d="M803.1,75.9L807.5,75.6L806.8,78.3L802.4,78.6Z" fill="#833000"/>
<path d="M802.8,78.5L807.2,78.1L806.5,80.9L802.1,81.2Z" fill="#823700"/>
<path d="M802.5,81.1L806.9,80.7L806.1,83.5L801.7,83.8Z" fill="#823e00"/>
<path d="M802.1,83.7L806.5,83.3L805.8,86.1L801.4,86.4Z" fill="#804500"/>
<path d="M801.7,86.3L806.1,86L805.4,88.7L801,89Z" fill="#7f4c00"/>
<path d="M801.3,88.9L805.7,88.6L804.9,91.3L800.5,91.7Z" fill="#7d5300"/>
<path d="M800.9,91.5L805.3,91.2L804.5,94L800.1,94.3Z" fill="#7c5a00"/>
<path d="M800.4,94.2L804.8,93.9L804,96.6L799.6,97Z" fill="#7b6100"/>
<path d="M799.9,96.8L804.3,96.5L803.4,99.3L799,99.6Z" fill="#786501"/>
<path d="M799.4,99.5L803.8,99.2L802.8,102L798.4,102.3Z" fill="#736702"/>
<path d="M798.8,102.2L803.2,101.9L802.2,104.7L797.8,105Z" fill="#6f6903"/>
<path d="M798.1,104.9L802.5,104.6L801.4,107.5L797,107.8Z" fill="#6a6b05"/>
<path d="M797.4,107.7L801.8,107.3L800.6,110.2L796.2,110.6Z" fill="#666d06"/>
<path d="M796.6,110.4L801,110.1L799.7,113L795.3,113.4Z" fill="#616f07"/>
<path d="M795.6,113.3L800.1,112.9L798.6,115.9L794.2,116.2Z" fill="#5b6f09"/>
<path d="M794.6,116.1L799,115.8L797.4,118.8L793,119.1Z" fill="#536d0a"/>
<path d="M793.4,119L797.8,118.7L796,121.8L791.5,122.1Z" fill="#4a6a0c"/>
<path d="M791.9,122L796.3,121.7L794.2,124.9L789.8,125.3Z" fill="#42680e"/>
<path d="M790.2,125.1L794.6,124.8L792.1,128.2L787.7,128.5Z" fill="#396510"/>
<path d="M788.1,128.4L792.5,128.1L789.4,131.6L785,132Z" fill="#336411"/>
<path d="M785.4,131.9L789.8,131.5L786.2,135.1L781.7,135.4Z" fill="#376510"/>
<path d="M782.1,135.3L786.5,135L782.6,138.2L778.2,138.6Z" fill="#3c670d"/>
<path d="M778.6,138.4L783,138.1L778.7,141.2L774.3,141.5Z" fill="#3e680a"/>
<path d="M774.7,141.4L779.1,141.1L774.4,143.9L770,144.3Z" fill="#3e6a08"/>
<path d="M770.4,144.1L774.8,143.8L769.7,146.6L765.2,146.9Z" fill="#427506"/>
<path d="M765.6,146.8L770,146.4L764.5,149.1L760,149.4Z" fill="#428105"/>
<path d="M760.4,149.3L764.8,149L758.7,151.6L754.3,151.9Z" fill="#418a04"/>
<path d="M754.7,151.8L759.1,151.5L752.4,154L748,154.4Z" fill="#3e9203"/>
<path d="M748.4,154.3L752.8,153.9L745.5,156.5L741.1,156.9Z" fill="#3f9a02"/>
<path d="M877.6,112.4L880.6,112L868.1,111.7L865.2,112.1Z" fill="#4d820b"/>
<path d="M865.2,112.1L868.1,111.7L859.4,108.6L856.5,109Z" fill="#2b6111"/>
<path d="M856.5,109L859.4,108.6L852.5,102.3L849.7,102.7Z" fill="#3f670e"/>
<path d="M849.7,102.7L852.5,102.3L848.2,94.2L845.4,94.6Z" fill="#5c6f09"/>
<path d="M845.4,94.6L848.2,94.2L844.5,82L841.7,82.3Z" fill="#716803"/>
<path d="M841.7,82.3L844.5,82L842,68.7L839.2,69.1Z" fill="#7f4c00"/>
<path d="M839.2,69.1L842,68.7L839.2,43.8L836.5,44.2Z" fill="#841600"/>
<path d="M833.7,44.3L839.2,43.7L812,52.1L806.6,52.6Z" fill="#f00"/>
<path d="M808.5,52.6L812.4,52.1L811.8,54.8L808,55.2Z" fill="#8b0600"/>
<path d="M808.3,55.1L812.2,54.7L811.6,57.3L807.8,57.8Z" fill="#890800"/>
<path d="M808.1,57.7L812,57.2L811.4,59.9L807.5,60.4Z" fill="#880a00"/>
<path d="M807.9,60.2L811.8,59.8L811.2,62.5L807.3,62.9Z" fill="#860c00"/>
<path d="M807.7,62.8L811.5,62.4L810.9,65L807.1,65.5Z" fill="#850e00"/>
<path d="M807.5,65.4L811.3,64.9L810.7,67.6L806.8,68Z" fill="#841300"/>
<path d="M807.2,67.9L811,67.5L810.4,70.2L806.6,70.6Z" fill="#831a00"/>
<path d="M807,70.5L810.8,70.1L810.1,72.8L806.3,73.2Z" fill="#832200"/>
<path d="M806.7,73.1L810.5,72.6L809.8,75.3L806,75.8Z" fill="#832900"/>
<path d="M806.4,75.7L810.2,75.2L809.5,77.9L805.7,78.4Z" fill="#833000"/>
<path d="M806.1,78.3L809.9,77.8L809.2,80.5L805.4,81Z" fill="#823700"/>
<path d="M805.8,80.8L809.6,80.4L808.9,83.1L805,83.6Z" fill="#823e00"/>
<path d="M805.4,83.5L809.2,83L808.5,85.7L804.7,86.2Z" fill="#804500"/>
<path d="M805,86.1L808.9,85.6L808.1,88.4L804.3,88.8Z" fill="#7f4c00"/>
<path d="M804.6,88.7L808.5,88.2L807.7,91L803.8,91.4Z" fill="#7d5300"/>
<path d="M804.2,91.3L808,90.9L807.2,93.6L803.4,94.1Z" fill="#7c5a00"/>
<path d="M803.7,94L807.6,93.5L806.7,96.3L802.9,96.7Z" fill="#7b6100"/>
<path d="M803.2,96.6L807.1,96.2L806.1,99L802.3,99.4Z" fill="#786501"/>
<path d="M802.7,99.3L806.5,98.8L805.5,101.7L801.7,102.1Z" fill="#736702"/>
<path d="M802.1,102L805.9,101.5L804.9,104.4L801,104.8Z" fill="#6f6903"/>
<path d="M801.4,104.7L805.3,104.3L804.1,107.1L800.3,107.6Z" fill="#6a6b05"/>
<path d="M800.7,107.4L804.5,107L803.3,109.9L799.5,110.3Z" fill="#666d06"/>
<path d="M799.9,110.2L803.7,109.8L802.4,112.7L798.6,113.1Z" fill="#616f07"/>
<path d="M798.9,113L802.8,112.6L801.3,115.6L797.5,116Z" fill="#5b6f09"/>
<path d="M797.9,115.9L801.7,115.4L800.1,118.5L796.3,118.9Z" fill="#536d0a"/>
<path d="M796.7,118.8L800.5,118.4L798.7,121.5L794.8,121.9Z" fill="#4a6a0c"/>
<path d="M795.2,121.8L799.1,121.4L796.9,124.6L793.1,125Z" fill="#42680e"/>
<path d="M793.5,124.9L797.3,124.5L794.8,127.8L791,128.3Z" fill="#396510"/>
<path d="M791.4,128.2L795.2,127.7L792.1,131.3L788.3,131.8Z" fill="#316311"/>
<path d="M788.7,131.6L792.5,131.2L788.9,134.7L785,135.2Z" fill="#2b6111"/>
<path d="M785.4,135.1L789.3,134.6L785.3,137.9L781.5,138.3Z" fill="#2c6110"/>
<path d="M781.9,138.2L785.7,137.8L781.4,140.8L777.6,141.3Z" fill="#31630d"/>
<path d="M778,141.2L781.8,140.7L777.1,143.6L773.3,144Z" fill="#33640b"/>
<path d="M773.7,143.9L777.5,143.5L772.4,146.2L768.5,146.7Z" fill="#326408"/>
<path d="M768.9,146.6L772.8,146.1L767.2,148.8L763.3,149.2Z" fill="#336907"/>
<path d="M763.7,149.1L767.6,148.6L761.5,151.2L757.6,151.7Z" fill="#357405"/>
<path d="M758,151.6L761.8,151.1L755.2,153.7L751.3,154.2Z" fill="#367f04"/>
<path d="M751.7,154L755.6,153.6L748.3,156.2L744.4,156.7Z" fill="#388a03"/>
<path d="M880.6,112L883.7,111.4L871.2,111L868.1,111.7Z" fill="#255d0f"/>
<path d="M868.1,111.7L871.2,111L862.5,108L859.4,108.6Z" fill="#2b6111"/>
<path d="M859.4,108.6L862.5,108L855.6,101.6L852.5,102.3Z" fill="#3f670e"/>
<path d="M852.5,102.3L855.6,101.6L851.2,93.6L848.2,94.2Z" fill="#5c6f09"/>
<path d="M848.2,94.2L851.2,93.6L847.5,81.3L844.5,82Z" fill="#716803"/>
<path d="M844.5,82L847.5,81.3L845.1,68.1L842,68.7Z" fill="#7f4c00"/>
<path d="M842,68.7L845.1,68.1L842.3,43.2L839.2,43.8Z" fill="#841600"/>
<path d="M836,44.1L842.3,43L815,51.4L808.8,52.5Z" fill="#f00"/>
<path d="M811,52.3L815.4,51.5L814.8,54.2L810.4,55Z" fill="#8b0600"/>
<path d="M810.8,54.9L815.2,54.1L814.6,56.7L810.2,57.5Z" fill="#890800"/>
<path d="M810.6,57.4L815,56.6L814.4,59.3L810,60.1Z" fill="#880a00"/>
<path d="M810.4,60L814.7,59.2L814.1,61.8L809.7,62.7Z" fill="#860c00"/>
<path d="M810.1,62.5L814.5,61.7L813.9,64.4L809.5,65.2Z" fill="#850e00"/>
<path d="M809.9,65.1L814.3,64.3L813.7,67L809.3,67.8Z" fill="#841300"/>
<path d="M809.6,67.7L814,66.9L813.4,69.5L809,70.4Z" fill="#831a00"/>
<path d="M809.4,70.2L813.8,69.4L813.1,72.1L808.7,72.9Z" fill="#832200"/>
<path d="M809.1,72.8L813.5,72L812.8,74.7L808.4,75.5Z" fill="#832900"/>
<path d="M808.8,75.4L813.2,74.6L812.5,77.3L808.1,78.1Z" fill="#833000"/>
<path d="M808.5,78L812.9,77.2L812.2,79.9L807.8,80.7Z" fill="#823700"/>
<path d="M808.2,80.6L812.6,79.8L811.8,82.5L807.5,83.3Z" fill="#823e00"/>
<path d="M807.8,83.2L812.2,82.4L811.5,85.1L807.1,85.9Z" fill="#804500"/>
<path d="M807.5,85.8L811.8,85L811.1,87.7L806.7,88.6Z" fill="#7f4c00"/>
<path d="M807.1,88.4L811.4,87.6L810.6,90.4L806.3,91.2Z" fill="#7d5300"/>
<path d="M806.6,91.1L811,90.2L810.2,93L805.8,93.8Z" fill="#7c5a00"/>
<path d="M806.2,93.7L810.6,92.9L809.7,95.7L805.3,96.5Z" fill="#7b6100"/>
<path d="M805.7,96.4L810.1,95.6L809.1,98.3L804.7,99.2Z" fill="#786501"/>
<path d="M805.1,99L809.5,98.2L808.5,101L804.1,101.9Z" fill="#736702"/>
<path d="M804.5,101.7L808.9,100.9L807.9,103.8L803.5,104.6Z" fill="#6f6903"/>
<path d="M803.9,104.5L808.2,103.6L807.1,106.5L802.7,107.3Z" fill="#6a6b05"/>
<path d="M803.1,107.2L807.5,106.4L806.3,109.3L801.9,110.1Z" fill="#666d06"/>
<path d="M802.3,110L806.7,109.1L805.4,112.1L801,112.9Z" fill="#616f07"/>
<path d="M801.4,112.8L805.8,112L804.3,114.9L799.9,115.8Z" fill="#5b6f09"/>
<path d="M800.3,115.6L804.7,114.8L803.1,117.9L798.7,118.7Z" fill="#536d0a"/>
<path d="M799.1,118.6L803.5,117.7L801.7,120.9L797.3,121.7Z" fill="#4a6a0c"/>
<path d="M797.6,121.6L802,120.7L799.9,124L795.5,124.8Z" fill="#42680e"/>
<path d="M795.9,124.7L800.3,123.8L797.8,127.2L793.4,128Z" fill="#396510"/>
<path d="M793.8,127.9L798.2,127.1L795.1,130.7L790.7,131.5Z" fill="#316311"/>
<path d="M791.1,131.4L795.5,130.6L791.9,134.1L787.5,134.9Z" fill="#2b6111"/>
<path d="M787.9,134.8L792.3,134L788.3,137.3L783.9,138.1Z" fill="#285f11"/>
<path d="M784.3,138L788.7,137.2L784.4,140.2L780,141Z" fill="#265e10"/>
<path d="M780.4,140.9L784.8,140.1L780.1,143L775.7,143.8Z" fill="#245d0f"/>
<path d="M776.1,143.7L780.5,142.8L775.4,145.6L771,146.4Z" fill="#265d0d"/>
<path d="M771.4,146.3L775.8,145.5L770.2,148.1L765.8,149Z" fill="#275d0b"/>
<path d="M766.2,148.8L770.6,148L764.5,150.6L760.1,151.4Z" fill="#265d09"/>
<path d="M760.4,151.3L764.8,150.5L758.2,153.1L753.8,153.9Z" fill="#255c07"/>
<path d="M754.2,153.8L758.6,153L751.3,155.6L746.9,156.4Z" fill="#276406"/>
<path d="M670.8,181L681.5,177.7L692.3,174.4L703.1,171L713.8,167.7L724.6,164.3L735.4,160.9L746.2,157.3L756.9,153.5L767.7,149.2L778.5,143.9L789.3,136.5L789.3,136.5L790.5,135.4L791.8,134.2L793.1,132.9L794.4,131.5L795.7,129.9L797,128.3L798.3,126.5L799.6,124.5L800.9,122.3L802.2,119.8L803.5,116.9L804.8,113.7L806.1,109.9L807.4,105.4L808.7,100.2L810,93.8L811.4,85.9L812.7,76L814,63.2L815.3,51.3L816.6,50.9L817.9,50.5L819.2,50.1L820.5,49.7L821.8,49.3L823.1,48.9L824.4,48.5L825.7,48.1L827,47.7L828.3,47.4L829.6,47L830.8,46.6L832.1,46.2L833.4,45.8L834.7,45.4L836,45L837.3,44.6L838.6,44.2L839.9,43.8L841.2,43.4L842.5,45.5L843.7,57.8L845,67.5L846.2,75.1L847.5,81.3L848.8,86.3L850.1,90.4L851.3,93.8L852.6,96.6L853.9,99L855.2,101.1L856.5,102.8L857.8,104.2L859,105.5L860.3,106.6L861.6,107.5L862.9,108.2L864.2,108.9L865.5,109.5L865.5,109.5L876.6,111.6L887.8,110.9L899,109L910.2,106.3L921.3,103.3L932.5,100L943.7,96.7L954.9,93.3L966,89.9L977.2,86.5L988.4,83L988.3,119.7L989.5,122.4L990.8,125.2L992.1,128.2L993.4,131.4L994.6,134.1L995.9,136.5L997.2,138.7L998.5,140.6L999.7,142.5L1001,144.1L1002.3,145.8L1003.6,147.4L1004.8,148.9L1006.1,150.4L1007.4,151.7L1008.7,153L1010,154L1011.2,154.9L1012.5,155.7L1013.8,156.4L1015.1,157.2L1016.4,157.9L1017.6,158.5L1018.9,159.2L1030.1,164.3L1041.3,168.9L1052.5,173.3L1063.6,177.5L1074.8,181.7L1086,185.8L1097.2,189.9L1108.4,193.9L1119.5,197.9L1130.7,201.8L1141.9,205.8L824.3,303.8L813.1,299.8L801.9,295.9L790.8,291.9L779.6,287.9L768.4,283.8L757.2,279.7L746,275.5L734.9,271.3L723.7,266.9L712.5,262.3L701.3,257.2L700,256.5L698.8,255.9L697.5,255.2L696.2,254.4L694.9,253.7L693.6,252.9L692.4,252L691.1,251L689.8,249.7L688.5,248.4L687.2,246.9L686,245.4L684.7,243.8L683.4,242.1L682.1,240.5L680.9,238.6L679.6,236.7L678.3,234.5L677,232.1L675.8,229.4L674.5,226.2L673.2,223.2L671.9,220.4L670.7,217.7Z" fill="url(#gcl)"/>
</g>
<g clip-path="url(#ccl)"><path d="M808,40L824,40L823,105L816.5,150L809,105Z" fill="url(#gf1)"/><path d="M811,40L822,40L819.5,140L817,178L814.5,140Z" fill="url(#gf1)"/><path d="M828,38L850,38L850,100L841,146L830,100Z" fill="url(#gf2)"/><path d="M832,38L850,38L846,135L842,172L838,135Z" fill="url(#gf2)"/></g>
<path d="M517.4,10.5V392.5" stroke="#000" stroke-width="2.3" fill="none"/>
<path d="M516.2,386L823.7,490.8L1141.3,392.3" stroke="#000" stroke-width="2.4" fill="none" stroke-linejoin="miter"/>
<path d="M499.5,384.6H518M506.2,353.5H518M499.5,322.4H518M506.2,291.3H518M499.5,260.2H518M506.2,229.1H518M499.5,198.1H518M506.2,167H518M499.5,135.9H518M506.2,104.8H518M499.5,73.7H518M506.2,42.6H518M499.5,11.5H518M547,396.1v14M577.7,406.6v9M608.5,417v14M639.2,427.4v9M670,437.8v14M700.7,448.3v9M731.5,458.7v14M762.2,469.1v9M793,479.6v14M1141.3,392v8.5M1109.5,401.8v14M1077.8,411.6v8.5M1046,421.4v14M1014.3,431.2v8.5M982.5,441v14M950.7,450.8v8.5M919,460.6v14M887.2,470.4v8.5M855.5,480.2v14M823.7,490v8.5" stroke="#000" stroke-width="2.5" fill="none"/>
<text y="393.6" font-family="'DejaVu Sans','Liberation Sans',sans-serif" font-size="24.5" fill="#000"><tspan x="458.9" textLength="24.2" lengthAdjust="spacingAndGlyphs">−</tspan><tspan x="483.2" textLength="18.1" lengthAdjust="spacingAndGlyphs">6</tspan></text>
<text stroke="#000" stroke-width="0.9" y="331.4" font-family="'DejaVu Sans','Liberation Sans',sans-serif" font-size="24.5" fill="#000"><tspan x="458" textLength="24.2" lengthAdjust="spacingAndGlyphs">−</tspan><tspan x="482.9" textLength="18.1" lengthAdjust="spacingAndGlyphs">4</tspan></text>
<text y="269.2" font-family="'DejaVu Sans','Liberation Sans',sans-serif" font-size="24.5" fill="#000"><tspan x="460" textLength="24.2" lengthAdjust="spacingAndGlyphs">−</tspan><tspan x="484.2" textLength="18.1" lengthAdjust="spacingAndGlyphs">2</tspan></text>
<text x="483.3" y="207.1" font-family="'DejaVu Sans','Liberation Sans',sans-serif" font-size="24.5" fill="#000" textLength="18.1" lengthAdjust="spacingAndGlyphs">0</text>
<text x="484.2" y="144.9" font-family="'DejaVu Sans','Liberation Sans',sans-serif" font-size="24.5" fill="#000" textLength="18.1" lengthAdjust="spacingAndGlyphs">2</text>
<text stroke="#000" stroke-width="0.9" x="482.9" y="82.7" font-family="'DejaVu Sans','Liberation Sans',sans-serif" font-size="24.5" fill="#000" textLength="18.1" lengthAdjust="spacingAndGlyphs">4</text>
<text x="483.2" y="20.5" font-family="'DejaVu Sans','Liberation Sans',sans-serif" font-size="24.5" fill="#000" textLength="18.1" lengthAdjust="spacingAndGlyphs">6</text>
<text y="434.3" font-family="'DejaVu Sans','Liberation Sans',sans-serif" font-size="24.5" fill="#000"><tspan x="525.1" textLength="24.3" lengthAdjust="spacingAndGlyphs">−</tspan><tspan x="551.1" textLength="18.1" lengthAdjust="spacingAndGlyphs">4</tspan></text>
<text y="455.2" font-family="'DejaVu Sans','Liberation Sans',sans-serif" font-size="24.5" fill="#000"><tspan x="587.6" textLength="24.3" lengthAdjust="spacingAndGlyphs">−</tspan><tspan x="612.9" textLength="18.1" lengthAdjust="spacingAndGlyphs">2</tspan></text>
<text x="661.9" y="476" font-family="'DejaVu Sans','Liberation Sans',sans-serif" font-size="24.5" fill="#000" textLength="18.1" lengthAdjust="spacingAndGlyphs">0</text>
<text x="723.8" y="496.9" font-family="'DejaVu Sans','Liberation Sans',sans-serif" font-size="24.5" fill="#000" textLength="18.1" lengthAdjust="spacingAndGlyphs">2</text>
<text x="785" y="517.8" font-family="'DejaVu Sans','Liberation Sans',sans-serif" font-size="24.5" fill="#000" textLength="18.1" lengthAdjust="spacingAndGlyphs">4</text>
<text y="439.2" font-family="'DejaVu Sans','Liberation Sans',sans-serif" font-size="24.5" fill="#000"><tspan x="1080.7" textLength="24.5" lengthAdjust="spacingAndGlyphs">−</tspan><tspan x="1106.2" textLength="36.2" lengthAdjust="spacingAndGlyphs">20</tspan></text>
<text y="459.4" font-family="'DejaVu Sans','Liberation Sans',sans-serif" font-size="24.5" fill="#000"><tspan x="1017.7" textLength="24.5" lengthAdjust="spacingAndGlyphs">−</tspan><tspan x="1042.2" textLength="36.2" lengthAdjust="spacingAndGlyphs">10</tspan></text>
<text x="973.7" y="479.6" font-family="'DejaVu Sans','Liberation Sans',sans-serif" font-size="24.5" fill="#000" textLength="18.1" lengthAdjust="spacingAndGlyphs">0</text>
<text x="901.3" y="499.8" font-family="'DejaVu Sans','Liberation Sans',sans-serif" font-size="24.5" fill="#000" textLength="36.2" lengthAdjust="spacingAndGlyphs">10</text>
<text x="838.3" y="520" font-family="'DejaVu Sans','Liberation Sans',sans-serif" font-size="24.5" fill="#000" textLength="36.2" lengthAdjust="spacingAndGlyphs">20</text>
<text transform="translate(446.2,341.6) rotate(-90) scale(1,1.100)" font-family="'DejaVu Sans Mono','Liberation Mono',monospace" font-size="37.9" fill="#000" textLength="296.4" lengthAdjust="spacingAndGlyphs">abs(G(x,z,t))</text>
<text x="656" y="529" font-family="'DejaVu Sans Mono','Liberation Mono',monospace" font-size="38.4" fill="#000" textLength="26.9" lengthAdjust="spacingAndGlyphs">t</text>
<text x="970.2" y="545.2" font-family="'DejaVu Sans Mono','Liberation Mono',monospace" font-size="39.8" fill="#000" textLength="24.3" lengthAdjust="spacingAndGlyphs">x</text>
<text x="738.2" y="613.3" font-family="'Liberation Serif',serif" font-size="41" fill="#000" textLength="106.4" lengthAdjust="spacingAndGlyphs">P=0.5</text>
<path d="M10.7,834.3L18.4,830.9L24.7,828.6L29.6,827.3L37.6,825.9L45.8,824.7L52.6,824.2L59.4,824.2L67.4,824.7L84,826.8L88.9,827.8L95,829.2L107.9,832.6L119.1,836L135.7,841.3L155,847.9L163.7,850.6L179.3,854.8L194.4,857.7L199.7,858.5L204.3,858.9L215.5,859.2L223.7,859.3L231,858.7L256.2,855.8L262.9,855.4L266,855.7L269.5,856.6L275.1,858.6L277.4,859.7L280.6,862L284.2,865.5L286.6,868.2L288.9,871.7L291.8,876.7L295.1,883.4L298.8,891.6L301.3,898L305.2,909.9L309.6,925.1L312.9,938.3L322.8,980L325.7,991L329.2,1003L337.5,1028.9L344.9,1050.9L350.2,1065.4L356.9,1081.7L362.3,1094L367.7,1105L372.5,1114.1L377.9,1123.2L388.5,1139.7L393.9,1147.5L398.3,1153L406.4,1161.6L412.6,1167.4L418.4,1171.8L424.6,1175.6L432,1179.3L442.3,1183.6L457,1188.7L468.9,1192.3L479.3,1194.9L496.3,1198L513.2,1200.7L529.1,1202.8L544.3,1204.5L557.8,1205.5L591.5,1207.4L610.5,1208.1L627.5,1208.3L627.5,1209.3L10.7,1209.3Z" fill="#008000" fill-opacity="0.3"/>
<path d="M10.7,715.4L18.3,732.3L25.5,746.8L32.2,758.8L39.6,770.5L45.3,778.9L53.5,790.2L67.4,808.6L78.8,822.4L90.4,835.1L95.5,840.2L100.4,844.7L111.3,853.7L120.7,860.5L130.3,866.7L135.1,869.5L138.5,871.3L141.7,872.7L151.4,875.6L161.3,878L169.7,879.2L173.4,879.4L177.6,879.3L186.9,878.6L197.7,876.9L205.1,875.3L207.6,874.6L212.7,872.3L218.4,868.7L226,862.7L230.3,858.3L234.9,852.4L240,844.8L246.3,834L249.5,827.3L254.2,815.9L263.1,791.6L272.9,763.2L277.5,752L280.1,746.5L281.4,744.1L282.7,742.4L285.3,739.6L287.1,738.2L288.3,737.6L289.5,737.5L290.9,737.9L292.3,738.8L294,740.4L295.5,742.3L296.1,743.8L296.8,746.5L300,764L302.2,780.3L308.5,836.1L310.9,854.9L312,864.2L316.8,933.4L319.7,968.4L322.3,996L323.3,1002.9L324.8,1011.5L327.4,1023.2L330.7,1035L337.4,1056.4L346,1080.2L349.1,1089.2L351.4,1097.2L356.9,1116.9L359.5,1125.2L361.5,1130.7L364.7,1137.3L368,1143.3L371.5,1148.6L374.3,1152.2L377.9,1156.4L381.6,1160.2L385.5,1163.9L389.8,1167.5L394.8,1171.4L400.9,1175.8L406.1,1179.3L414.1,1183.8L426.3,1189.4L436.1,1193L445.5,1195.6L459.3,1198.4L473.9,1200.7L491.1,1202.7L510.8,1204.4L537.9,1206.1L562.5,1207.2L598.9,1208.3L627.5,1208.8L627.5,1209.3L10.7,1209.3Z" fill="#008000" fill-opacity="0.3"/>
<path d="M10.7,1139.6L31.2,1139.2L54,1138.1L83.6,1136L113.8,1133.3L132.2,1130.9L151.1,1127.7L169.9,1123.8L183.2,1120.3L190.4,1118L197.7,1115.4L205,1112.5L212.4,1109.3L217.2,1106.9L222,1104.4L226.7,1101.5L231.3,1098.5L236.4,1094.7L241.4,1090.7L245.7,1086.8L249.7,1082.8L253.6,1078.4L257.3,1073.8L260.9,1068.7L264.5,1063.3L270.4,1053.1L272.7,1048.2L275,1043.1L279.5,1030.7L283.7,1016.5L286.9,1003.1L289.7,988.3L292.3,970.8L294.7,951.1L296.1,934.6L297.4,914L299,885.4L299.9,862.1L301.1,823.2L302.6,764.5L304.6,667.3L317.1,667.3L317.6,943L318.1,994L319,1023.8L320.8,1059.6L322.9,1092.2L324.2,1107.6L326.1,1122.4L328.7,1138.7L330.1,1145.4L331.6,1151.3L333.5,1157.7L335.5,1163.4L337.6,1168.4L339.9,1172.7L341.9,1176L344.1,1179L346.2,1181.6L348.4,1183.8L351.8,1186.6L355.3,1189.1L359,1191.4L362.6,1193.3L366.4,1195L371.6,1197L381.1,1199.9L390.6,1201.8L404,1203.8L417.6,1205.2L434.3,1206.3L449.8,1207L480.7,1207.9L502.5,1208.3L541.5,1208.6L627.5,1208.9L627.5,1209.3L10.7,1209.3Z" fill="#008000" fill-opacity="0.3"/>
<path d="M319.4,667V1216.5" stroke="#000" stroke-width="1.9" fill="none"/>
<path d="M10.7,1209.3H627.5" stroke="#222" stroke-width="1.6" fill="none"/>
<path d="M314.5,1180.8H319M311.7,1152.4H319M314.5,1124H319M311.7,1095.5H319M314.5,1067H319M311.7,1038.6H319M314.5,1010.1H319M311.7,981.7H319M314.5,953.2H319M311.7,924.8H319M314.5,896.3H319M311.7,867.9H319M314.5,839.5H319M311.7,811H319M314.5,782.5H319M311.7,754.1H319M314.5,725.6H319M311.7,697.2H319M314.5,668.8H319M10.6,1209V1217M87.7,1209V1214M164.8,1209V1217M241.9,1209V1214M319,1209V1217M396.1,1209V1214M473.2,1209V1217M550.3,1209V1214M627.4,1209V1217" stroke="#333" stroke-width="1.3" fill="none"/>
<text x="297.5" y="1158.8" font-family="'DejaVu Sans','Liberation Sans',sans-serif" font-size="18.6" fill="#1a1a1a" textLength="11.8" lengthAdjust="spacingAndGlyphs">2</text>
<text x="296.6" y="1101.9" font-family="'DejaVu Sans','Liberation Sans',sans-serif" font-size="18.6" fill="#1a1a1a" textLength="11.8" lengthAdjust="spacingAndGlyphs">4</text>
<text x="296.8" y="1045" font-family="'DejaVu Sans','Liberation Sans',sans-serif" font-size="18.6" fill="#1a1a1a" textLength="11.8" lengthAdjust="spacingAndGlyphs">6</text>
<text x="296.9" y="988.1" font-family="'DejaVu Sans','Liberation Sans',sans-serif" font-size="18.6" fill="#1a1a1a" textLength="11.8" lengthAdjust="spacingAndGlyphs">8</text>
<text x="285.1" y="931.2" font-family="'DejaVu Sans','Liberation Sans',sans-serif" font-size="18.6" fill="#1a1a1a" textLength="23.7" lengthAdjust="spacingAndGlyphs">10</text>
<text x="285.6" y="874.3" font-family="'DejaVu Sans','Liberation Sans',sans-serif" font-size="18.6" fill="#1a1a1a" textLength="23.7" lengthAdjust="spacingAndGlyphs">12</text>
<text x="284.8" y="817.4" font-family="'DejaVu Sans','Liberation Sans',sans-serif" font-size="18.6" fill="#1a1a1a" textLength="23.7" lengthAdjust="spacingAndGlyphs">14</text>
<text x="285" y="760.5" font-family="'DejaVu Sans','Liberation Sans',sans-serif" font-size="18.6" fill="#1a1a1a" textLength="23.7" lengthAdjust="spacingAndGlyphs">16</text>
<text x="285.1" y="703.6" font-family="'DejaVu Sans','Liberation Sans',sans-serif" font-size="18.6" fill="#1a1a1a" textLength="23.7" lengthAdjust="spacingAndGlyphs">18</text>
<text y="1235.9" font-family="'DejaVu Sans','Liberation Sans',sans-serif" font-size="18.6" fill="#1a1a1a"><tspan x="-1.8" textLength="14.1" lengthAdjust="spacingAndGlyphs">−</tspan><tspan x="14.8" textLength="11.8" lengthAdjust="spacingAndGlyphs">2</tspan></text>
<text y="1235.9" font-family="'DejaVu Sans','Liberation Sans',sans-serif" font-size="18.6" fill="#1a1a1a"><tspan x="152.6" textLength="14.1" lengthAdjust="spacingAndGlyphs">−</tspan><tspan x="168.7" textLength="11.8" lengthAdjust="spacingAndGlyphs">1</tspan></text>
<text x="313.4" y="1235.9" font-family="'DejaVu Sans','Liberation Sans',sans-serif" font-size="18.6" fill="#1a1a1a" textLength="11.8" lengthAdjust="spacingAndGlyphs">0</text>
<text x="467.5" y="1235.9" font-family="'DejaVu Sans','Liberation Sans',sans-serif" font-size="18.6" fill="#1a1a1a" textLength="11.8" lengthAdjust="spacingAndGlyphs">1</text>
<text x="622" y="1235.9" font-family="'DejaVu Sans','Liberation Sans',sans-serif" font-size="18.6" fill="#1a1a1a" textLength="11.8" lengthAdjust="spacingAndGlyphs">2</text>
<text transform="translate(271.8,1045.5) rotate(-90) scale(1,0.950)" font-family="'DejaVu Sans Mono','Liberation Mono',monospace" font-size="24.2" fill="#000" stroke="#000" stroke-width="0.2" textLength="215.1" lengthAdjust="spacing"><tspan font-size="24.2">abs</tspan><tspan font-size="28.6">(</tspan><tspan font-size="24.2">G</tspan><tspan font-size="28.6">(</tspan><tspan font-size="24.2">1,1,t</tspan><tspan font-size="28.6">))</tspan></text>
<text x="465.6" y="1265.6" font-family="'DejaVu Sans Mono','Liberation Mono',monospace" font-size="26" font-weight="bold" fill="#000" textLength="15.6" lengthAdjust="spacingAndGlyphs">t</text>
<path d="M10.7,1209.3H627.5" stroke="#8b0000" stroke-width="2.4" stroke-linecap="round" stroke-dasharray="10.6 9.1 0.1 9" stroke-dashoffset="-1" fill="none"/>
<path d="M10.7,1139.6L31.2,1139.2L54,1138.1L83.6,1136L113.8,1133.3L132.2,1130.9L151.1,1127.7L169.9,1123.8L183.2,1120.3L190.4,1118L197.7,1115.4L205,1112.5L212.4,1109.3L217.2,1106.9L222,1104.4L226.7,1101.5L231.3,1098.5L236.4,1094.7L241.4,1090.7L245.7,1086.8L249.7,1082.8L253.6,1078.4L257.3,1073.8L260.9,1068.7L264.5,1063.3L270.4,1053.1L272.7,1048.2L275,1043.1L279.5,1030.7L283.7,1016.5L286.9,1003.1L289.7,988.3L292.3,970.8L294.7,951.1L296.1,934.6L297.4,914L299,885.4L299.9,862.1L301.1,823.2L302.6,764.5L304.6,667.3" stroke="#0000ff" stroke-width="2.4" fill="none" stroke-linejoin="round"/>
<path d="M317.1,667.3L317.6,943L318.1,994L319,1023.8L320.8,1059.6L322.9,1092.2L324.2,1107.6L326.1,1122.4L328.7,1138.7L330.1,1145.4L331.6,1151.3L333.5,1157.7L335.5,1163.4L337.6,1168.4L339.9,1172.7L341.9,1176L344.1,1179L346.2,1181.6L348.4,1183.8L351.8,1186.6L355.3,1189.1L359,1191.4L362.6,1193.3L366.4,1195L371.6,1197L381.1,1199.9L390.6,1201.8L404,1203.8L417.6,1205.2L434.3,1206.3L449.8,1207L480.7,1207.9L502.5,1208.3L541.5,1208.6L627.5,1208.9" stroke="#0000ff" stroke-width="2.4" fill="none" stroke-linejoin="round"/>
<path d="M10.7,715.4L18.3,732.3L25.5,746.8L32.2,758.8L39.6,770.5L45.3,778.9L53.5,790.2L67.4,808.6L78.8,822.4L90.4,835.1L95.5,840.2L100.4,844.7L111.3,853.7L120.7,860.5L130.3,866.7L135.1,869.5L138.5,871.3L141.7,872.7L151.4,875.6L161.3,878L169.7,879.2L173.4,879.4L177.6,879.3L186.9,878.6L197.7,876.9L205.1,875.3L207.6,874.6L212.7,872.3L218.4,868.7L226,862.7L230.3,858.3L234.9,852.4L240,844.8L246.3,834L249.5,827.3L254.2,815.9L263.1,791.6L272.9,763.2L277.5,752L280.1,746.5L281.4,744.1L282.7,742.4L285.3,739.6L287.1,738.2L288.3,737.6L289.5,737.5L290.9,737.9L292.3,738.8L294,740.4L295.5,742.3L296.1,743.8L296.8,746.5L300,764L302.2,780.3L308.5,836.1L310.9,854.9L312,864.2L316.8,933.4L319.7,968.4L322.3,996L323.3,1002.9L324.8,1011.5L327.4,1023.2L330.7,1035L337.4,1056.4L346,1080.2L349.1,1089.2L351.4,1097.2L356.9,1116.9L359.5,1125.2L361.5,1130.7L364.7,1137.3L368,1143.3L371.5,1148.6L374.3,1152.2L377.9,1156.4L381.6,1160.2L385.5,1163.9L389.8,1167.5L394.8,1171.4L400.9,1175.8L406.1,1179.3L414.1,1183.8L426.3,1189.4L436.1,1193L445.5,1195.6L459.3,1198.4L473.9,1200.7L491.1,1202.7L510.8,1204.4L537.9,1206.1L562.5,1207.2L598.9,1208.3L627.5,1208.8" stroke="#008000" stroke-width="2.5" stroke-linecap="round" stroke-dasharray="10.6 9.1 0.1 9" stroke-dashoffset="-1" fill="none" stroke-linejoin="round"/>
<path d="M10.7,834.3L18.4,830.9L24.7,828.6L29.6,827.3L37.6,825.9L45.8,824.7L52.6,824.2L59.4,824.2L67.4,824.7L84,826.8L88.9,827.8L95,829.2L107.9,832.6L119.1,836L135.7,841.3L155,847.9L163.7,850.6L179.3,854.8L194.4,857.7L199.7,858.5L204.3,858.9L215.5,859.2L223.7,859.3L231,858.7L256.2,855.8L262.9,855.4L266,855.7L269.5,856.6L275.1,858.6L277.4,859.7L280.6,862L284.2,865.5L286.6,868.2L288.9,871.7L291.8,876.7L295.1,883.4L298.8,891.6L301.3,898L305.2,909.9L309.6,925.1L312.9,938.3L322.8,980L325.7,991L329.2,1003L337.5,1028.9L344.9,1050.9L350.2,1065.4L356.9,1081.7L362.3,1094L367.7,1105L372.5,1114.1L377.9,1123.2L388.5,1139.7L393.9,1147.5L398.3,1153L406.4,1161.6L412.6,1167.4L418.4,1171.8L424.6,1175.6L432,1179.3L442.3,1183.6L457,1188.7L468.9,1192.3L479.3,1194.9L496.3,1198L513.2,1200.7L529.1,1202.8L544.3,1204.5L557.8,1205.5L591.5,1207.4L610.5,1208.1L627.5,1208.3" stroke="#ffa500" stroke-width="2.6" fill="none" stroke-linejoin="round"/>
<path d="M973.9,759.1L1036.3,759L1099.4,758.6L1132.2,757.9L1155.9,756.8L1175.8,755.3L1190.4,753.6L1196.3,752.6L1202.4,751.2L1209.5,749L1216.5,745.9L1221.3,743.3L1226.6,740L1232.3,735.8L1239.1,729.6L1245.8,722.5L1258.6,705.6L1266.7,694.5L1269.2,691.4L1271.4,689L1276.7,684L1280.4,681.3L1282,680.5L1286,679L1288.1,678.5L1290,678.3L1292,678.7L1294.2,680L1297,682.2L1300.7,685.9L1303.3,689.8L1309.3,700.3L1320,716.5L1322.4,719.7L1324.9,722.4L1329.1,726.9L1333.2,730.8L1337.2,734.3L1341.2,737.4L1344.9,739.9L1349.3,742.5L1355.1,745.6L1360.2,748L1365.1,749.9L1369.6,751.3L1382.2,753.7L1395.9,755.5L1414.6,756.8L1436.2,757.8L1467,758.6L1492.8,759L1607.5,759.2L1607.5,1196.3L973.9,1196.3Z" fill="#008000" fill-opacity="0.3"/>
<path d="M973.9,876.4L1066.2,876.7L1151.2,877.4L1171.2,878.2L1192.6,879.8L1200.8,881L1210.8,883L1219.5,885.1L1228,887.7L1238,891.3L1244.9,894L1263.6,902.7L1272.4,907.1L1276.2,908.7L1279.2,909.8L1284.8,911.3L1287.6,911.8L1290,912L1292,911.8L1294.2,911.2L1301.7,908.3L1306,905.9L1315,899.8L1319.1,897.5L1328.6,893.1L1337.8,889.4L1348.4,886L1360,882.9L1367.9,881.3L1378,880L1388.4,879L1398.6,878.4L1420.2,877.6L1439.9,877.1L1513.1,876.7L1607.5,876.6L1607.5,1196.3L973.9,1196.3Z" fill="#008000" fill-opacity="0.3"/>
<path d="M973.9,1072.7L1090.9,1073.1L1109.2,1073.3L1126.2,1073.8L1150.8,1075L1162.5,1076.1L1171.4,1077.2L1180.9,1078.7L1186.5,1079.8L1192.3,1081.2L1199,1083.1L1206.2,1085.4L1211,1087.2L1216,1089.4L1221.5,1092.1L1226.7,1095L1231.3,1097.9L1235.9,1101.3L1240.5,1105L1245,1109L1250.6,1114.9L1263.1,1130.4L1272.8,1143.3L1280.4,1152.5L1282.3,1154.1L1284.5,1155.2L1287.5,1156.2L1290,1156.5L1292.2,1156.2L1295,1155.1L1297.6,1153.6L1299.5,1151.8L1317.9,1126.8L1329.4,1111.7L1335.3,1104.7L1340.9,1099.3L1348.2,1093.3L1351.5,1091.1L1354.7,1089.2L1359.8,1086.6L1364.8,1084.4L1369.6,1082.6L1374.3,1081.2L1386.2,1078.5L1397.4,1076.8L1416.1,1075.2L1435,1074.2L1463,1073.5L1491.8,1073.1L1607.5,1072.7L1607.5,1196.3L973.9,1196.3Z" fill="#008000" fill-opacity="0.3"/>
<path d="M1290.3,679V1205" stroke="#000" stroke-opacity="0.72" stroke-width="2" fill="none"/>
<path d="M973.9,1196.3H1607.5" stroke="#222" stroke-width="1.6" fill="none"/>
<path d="M1285.5,1149.5H1290.3M1282.5,1102.6H1290.3M1285.5,1055.8H1290.3M1282.5,1008.9H1290.3M1285.5,962H1290.3M1282.5,915.2H1290.3M1285.5,868.3H1290.3M1282.5,821.5H1290.3M1285.5,774.6H1290.3M1282.5,727.8H1290.3M1285.5,680.9H1290.3M972.5,1196V1201.5M1036.1,1196V1205M1099.6,1196V1201.5M1163.2,1196V1205M1226.8,1196V1201.5M1290.3,1196V1205M1353.8,1196V1201.5M1417.4,1196V1205M1481,1196V1201.5M1544.5,1196V1205M1608,1196V1201.5" stroke="#333" stroke-width="1.4" fill="none"/>
<text x="1238.4" y="1110.8" font-family="'DejaVu Sans','Liberation Sans',sans-serif" font-size="20.8" fill="#1a1a1a" textLength="37.6" lengthAdjust="spacingAndGlyphs">0.1</text>
<text x="1238.4" y="1017.1" font-family="'DejaVu Sans','Liberation Sans',sans-serif" font-size="20.8" fill="#1a1a1a" textLength="37.7" lengthAdjust="spacingAndGlyphs">0.2</text>
<text x="1238.4" y="923.4" font-family="'DejaVu Sans','Liberation Sans',sans-serif" font-size="20.8" fill="#1a1a1a" textLength="37.2" lengthAdjust="spacingAndGlyphs">0.3</text>
<text x="1238.4" y="829.7" font-family="'DejaVu Sans','Liberation Sans',sans-serif" font-size="20.8" fill="#1a1a1a" textLength="36.6" lengthAdjust="spacingAndGlyphs">0.4</text>
<text x="1238.4" y="736" font-family="'DejaVu Sans','Liberation Sans',sans-serif" font-size="20.8" fill="#1a1a1a" textLength="37.5" lengthAdjust="spacingAndGlyphs">0.5</text>
<text y="1228.6" font-family="'DejaVu Sans','Liberation Sans',sans-serif" font-size="20.8" fill="#1a1a1a"><tspan x="1011" textLength="19.4" lengthAdjust="spacingAndGlyphs">−</tspan><tspan x="1031.5" textLength="30.4" lengthAdjust="spacingAndGlyphs">20</tspan></text>
<text y="1228.6" font-family="'DejaVu Sans','Liberation Sans',sans-serif" font-size="20.8" fill="#1a1a1a"><tspan x="1138.5" textLength="19.4" lengthAdjust="spacingAndGlyphs">−</tspan><tspan x="1158.2" textLength="30.4" lengthAdjust="spacingAndGlyphs">10</tspan></text>
<text x="1282.7" y="1228.6" font-family="'DejaVu Sans','Liberation Sans',sans-serif" font-size="20.8" fill="#1a1a1a" textLength="15.2" lengthAdjust="spacingAndGlyphs">0</text>
<text x="1401.7" y="1228.6" font-family="'DejaVu Sans','Liberation Sans',sans-serif" font-size="20.8" fill="#1a1a1a" textLength="30.4" lengthAdjust="spacingAndGlyphs">10</text>
<text x="1529.2" y="1228.6" font-family="'DejaVu Sans','Liberation Sans',sans-serif" font-size="20.8" fill="#1a1a1a" textLength="30.4" lengthAdjust="spacingAndGlyphs">20</text>
<text transform="translate(1224.2,1073) rotate(-90) scale(1,1.030)" font-family="'DejaVu Sans Mono','Liberation Mono',monospace" font-size="30" fill="#000" stroke="#000" stroke-width="0.35" textLength="273.5" lengthAdjust="spacing"><tspan font-size="30">abs</tspan><tspan font-size="34.5">(</tspan><tspan font-size="30">G</tspan><tspan font-size="34.5">(</tspan><tspan font-size="30">x,1,1</tspan><tspan font-size="34.5">))</tspan></text>
<text x="1437.2" y="1267.1" font-family="'DejaVu Sans Mono','Liberation Mono',monospace" font-size="33.4" font-weight="bold" fill="#000" textLength="22.1" lengthAdjust="spacingAndGlyphs">t</text>
<path d="M973.9,1196.3H1607.5" stroke="#8b0000" stroke-width="3" stroke-linecap="round" stroke-dasharray="13.5 11.45 0.1 11.45" stroke-dashoffset="-3" fill="none"/>
<path d="M973.9,1072.7L1090.9,1073.1L1109.2,1073.3L1126.2,1073.8L1150.8,1075L1162.5,1076.1L1171.4,1077.2L1180.9,1078.7L1186.5,1079.8L1192.3,1081.2L1199,1083.1L1206.2,1085.4L1211,1087.2L1216,1089.4L1221.5,1092.1L1226.7,1095L1231.3,1097.9L1235.9,1101.3L1240.5,1105L1245,1109L1250.6,1114.9L1263.1,1130.4L1272.8,1143.3L1280.4,1152.5L1282.3,1154.1L1284.5,1155.2L1287.5,1156.2L1290,1156.5L1292.2,1156.2L1295,1155.1L1297.6,1153.6L1299.5,1151.8L1317.9,1126.8L1329.4,1111.7L1335.3,1104.7L1340.9,1099.3L1348.2,1093.3L1351.5,1091.1L1354.7,1089.2L1359.8,1086.6L1364.8,1084.4L1369.6,1082.6L1374.3,1081.2L1386.2,1078.5L1397.4,1076.8L1416.1,1075.2L1435,1074.2L1463,1073.5L1491.8,1073.1L1607.5,1072.7" stroke="#0000ff" stroke-width="3" fill="none" stroke-linejoin="round"/>
<path d="M973.9,876.4L1066.2,876.7L1151.2,877.4L1171.2,878.2L1192.6,879.8L1200.8,881L1210.8,883L1219.5,885.1L1228,887.7L1238,891.3L1244.9,894L1263.6,902.7L1272.4,907.1L1276.2,908.7L1279.2,909.8L1284.8,911.3L1287.6,911.8L1290,912L1292,911.8L1294.2,911.2L1301.7,908.3L1306,905.9L1315,899.8L1319.1,897.5L1328.6,893.1L1337.8,889.4L1348.4,886L1360,882.9L1367.9,881.3L1378,880L1388.4,879L1398.6,878.4L1420.2,877.6L1439.9,877.1L1513.1,876.7L1607.5,876.6" stroke="#008000" stroke-width="3.1" stroke-linecap="round" stroke-dasharray="13.5 11.45 0.1 11.45" stroke-dashoffset="-28.3" fill="none" stroke-linejoin="round"/>
<path d="M973.9,759.1L1036.3,759L1099.4,758.6L1132.2,757.9L1155.9,756.8L1175.8,755.3L1190.4,753.6L1196.3,752.6L1202.4,751.2L1209.5,749L1216.5,745.9L1221.3,743.3L1226.6,740L1232.3,735.8L1239.1,729.6L1245.8,722.5L1258.6,705.6L1266.7,694.5L1269.2,691.4L1271.4,689L1276.7,684L1280.4,681.3L1282,680.5L1286,679L1288.1,678.5L1290,678.3L1292,678.7L1294.2,680L1297,682.2L1300.7,685.9L1303.3,689.8L1309.3,700.3L1320,716.5L1322.4,719.7L1324.9,722.4L1329.1,726.9L1333.2,730.8L1337.2,734.3L1341.2,737.4L1344.9,739.9L1349.3,742.5L1355.1,745.6L1360.2,748L1365.1,749.9L1369.6,751.3L1382.2,753.7L1395.9,755.5L1414.6,756.8L1436.2,757.8L1467,758.6L1492.8,759L1607.5,759.2" stroke="#ffa500" stroke-width="3.2" fill="none" stroke-linejoin="round"/>
<circle cx="70.8" cy="1291.3" r="3.4" fill="#ff0000"/>
<path d="M81,1294.5h8.2" stroke="#999" stroke-width="1.3" fill="none"/>
<text x="95.9" y="1300.5" font-family="'Liberation Serif',serif" font-size="28.2" font-weight="bold" fill="#000" textLength="81.5" lengthAdjust="spacingAndGlyphs">P=0.1,</text>
<circle cx="191.8" cy="1291.3" r="3.4" fill="#0000ff"/>
<path d="M201,1294.5h8.2" stroke="#999" stroke-width="1.3" fill="none"/>
<text x="216.9" y="1300.5" font-family="'Liberation Serif',serif" font-size="28.2" font-weight="bold" fill="#000" textLength="81.5" lengthAdjust="spacingAndGlyphs">P=0.5,</text>
<circle cx="311.7" cy="1291.3" r="3.4" fill="#008000"/>
<path d="M320.3,1294.5h8.2" stroke="#999" stroke-width="1.3" fill="none"/>
<text x="337.2" y="1300.5" font-family="'Liberation Serif',serif" font-size="28.2" font-weight="bold" fill="#000" textLength="96.8" lengthAdjust="spacingAndGlyphs">P=0.75,</text>
<circle cx="447.8" cy="1291.3" r="3.4" fill="#ffa500"/>
<path d="M456.6,1294.5h8.2" stroke="#999" stroke-width="1.3" fill="none"/>
<text x="472.5" y="1300.5" font-family="'Liberation Serif',serif" font-size="28.2" font-weight="bold" fill="#000" textLength="75.5" lengthAdjust="spacingAndGlyphs">P=0.9</text>
<circle cx="979.5" cy="1300" r="4.4" fill="#ff0000"/>
<path d="M990.8,1305h11.2" stroke="#999" stroke-width="1.3" fill="none"/>
<text x="1010.7" y="1311.2" font-family="'Liberation Serif',serif" font-size="37.6" font-weight="bold" fill="#000" textLength="105.5" lengthAdjust="spacingAndGlyphs">P=0.1,</text>
<circle cx="1133.3" cy="1300" r="4.4" fill="#0000ff"/>
<path d="M1144.6,1305h11.2" stroke="#999" stroke-width="1.3" fill="none"/>
<text x="1164.5" y="1311.2" font-family="'Liberation Serif',serif" font-size="37.6" font-weight="bold" fill="#000" textLength="104.4" lengthAdjust="spacingAndGlyphs">P=0.5,</text>
<circle cx="1286.2" cy="1300" r="4.4" fill="#008000"/>
<path d="M1298.5,1305h11.2" stroke="#999" stroke-width="1.3" fill="none"/>
<text x="1319.4" y="1311.2" font-family="'Liberation Serif',serif" font-size="37.6" font-weight="bold" fill="#000" textLength="122.9" lengthAdjust="spacingAndGlyphs">P=0.75,</text>
<circle cx="1459.5" cy="1300" r="4.4" fill="#ffa500"/>
<path d="M1471.8,1305h11.2" stroke="#999" stroke-width="1.3" fill="none"/>
<text x="1491.7" y="1311.2" font-family="'Liberation Serif',serif" font-size="37.6" font-weight="bold" fill="#000" textLength="95.3" lengthAdjust="spacingAndGlyphs">P=0.9</text>
</svg>
</body></html>
